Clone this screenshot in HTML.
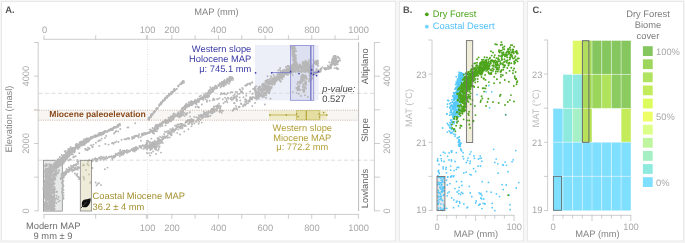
<!DOCTYPE html>
<html><head><meta charset="utf-8"><title>Figure</title><style>html,body{margin:0;padding:0;background:#f6f6f6;overflow:hidden}svg{display:block;font-family:"Liberation Sans",sans-serif;will-change:transform;-webkit-font-smoothing:antialiased;text-rendering:geometricPrecision}</style></head><body>
<svg width="685" height="243" viewBox="0 0 685 243">
<rect x="0" y="0" width="685" height="243" fill="#f6f6f6"/>
<rect x="1.5" y="1.5" width="394.0" height="239.5" fill="#fff" stroke="#e8e8e8" stroke-width="1"/>
<rect x="399.5" y="1.5" width="124.0" height="239.5" fill="#fff" stroke="#e8e8e8" stroke-width="1"/>
<rect x="527.5" y="1.5" width="156.0" height="239.5" fill="#fff" stroke="#e8e8e8" stroke-width="1"/>
<rect x="38.5" y="110.2" width="320" height="10" fill="#f8f6f3"/>
<rect x="255" y="45" width="63.6" height="55.4" fill="#eceef8"/>
<rect x="290.5" y="45.5" width="23.2" height="54.8" fill="#dde0f1"/>
<rect x="43.4" y="160.3" width="18.9" height="50.8" fill="#e7e9e8"/>
<line x1="38.5" y1="93.3" x2="374.5" y2="93.3" stroke="#dcdcdc" stroke-width="1" stroke-dasharray="4 2.5"/>
<line x1="38.5" y1="160.2" x2="374.5" y2="160.2" stroke="#dcdcdc" stroke-width="1" stroke-dasharray="4 2.5"/>
<line x1="147.5" y1="39" x2="147.5" y2="215" stroke="#e2e2e2" stroke-width="1" stroke-dasharray="1 1.5"/>
<rect x="43.4" y="160.3" width="18.9" height="50.8" fill="none" stroke="#8a8a8a" stroke-width="0.8"/>
<g fill="#b7b7b7">
<circle cx="48.0" cy="189.7" r="0.95"/>
<circle cx="51.3" cy="187.8" r="0.95"/>
<circle cx="50.2" cy="194.9" r="0.95"/>
<circle cx="45.4" cy="198.3" r="0.95"/>
<circle cx="45.2" cy="196.5" r="0.95"/>
<circle cx="45.5" cy="188.2" r="0.95"/>
<circle cx="49.0" cy="206.1" r="0.95"/>
<circle cx="46.0" cy="191.4" r="0.95"/>
<circle cx="51.1" cy="209.0" r="0.95"/>
<circle cx="50.6" cy="195.6" r="0.95"/>
<circle cx="54.6" cy="187.1" r="0.95"/>
<circle cx="53.4" cy="193.0" r="0.95"/>
<circle cx="46.2" cy="188.9" r="0.95"/>
<circle cx="47.9" cy="205.8" r="0.95"/>
<circle cx="46.6" cy="200.1" r="0.95"/>
<circle cx="51.2" cy="195.0" r="0.95"/>
<circle cx="50.3" cy="187.5" r="0.95"/>
<circle cx="45.4" cy="191.0" r="0.95"/>
<circle cx="51.6" cy="196.4" r="0.95"/>
<circle cx="47.9" cy="200.2" r="0.95"/>
<circle cx="49.3" cy="193.3" r="0.95"/>
<circle cx="52.7" cy="203.0" r="0.95"/>
<circle cx="47.2" cy="200.0" r="0.95"/>
<circle cx="50.1" cy="207.3" r="0.95"/>
<circle cx="52.1" cy="193.0" r="0.95"/>
<circle cx="54.6" cy="188.9" r="0.95"/>
<circle cx="49.0" cy="204.4" r="0.95"/>
<circle cx="46.3" cy="197.9" r="0.95"/>
<circle cx="45.2" cy="202.2" r="0.95"/>
<circle cx="52.4" cy="199.9" r="0.95"/>
<circle cx="53.6" cy="193.6" r="0.95"/>
<circle cx="51.8" cy="200.4" r="0.95"/>
<circle cx="50.6" cy="197.1" r="0.95"/>
<circle cx="53.2" cy="209.0" r="0.95"/>
<circle cx="49.5" cy="202.1" r="0.95"/>
<circle cx="45.4" cy="203.0" r="0.95"/>
<circle cx="51.3" cy="210.1" r="0.95"/>
<circle cx="53.0" cy="192.9" r="0.95"/>
<circle cx="48.7" cy="202.2" r="0.95"/>
<circle cx="45.0" cy="197.2" r="0.95"/>
<circle cx="46.5" cy="188.8" r="0.95"/>
<circle cx="45.4" cy="204.7" r="0.95"/>
<circle cx="46.1" cy="192.0" r="0.95"/>
<circle cx="48.7" cy="207.2" r="0.95"/>
<circle cx="45.6" cy="196.9" r="0.95"/>
<circle cx="50.3" cy="207.5" r="0.95"/>
<circle cx="53.0" cy="207.0" r="0.95"/>
<circle cx="47.6" cy="196.1" r="0.95"/>
<circle cx="48.4" cy="207.5" r="0.95"/>
<circle cx="54.4" cy="189.7" r="0.95"/>
<circle cx="46.6" cy="191.6" r="0.95"/>
<circle cx="47.1" cy="197.8" r="0.95"/>
<circle cx="50.7" cy="192.4" r="0.95"/>
<circle cx="44.8" cy="196.2" r="0.95"/>
<circle cx="48.5" cy="199.8" r="0.95"/>
<circle cx="54.3" cy="202.8" r="0.95"/>
<circle cx="50.0" cy="201.0" r="0.95"/>
<circle cx="51.6" cy="187.3" r="0.95"/>
<circle cx="53.8" cy="205.0" r="0.95"/>
<circle cx="53.5" cy="205.4" r="0.95"/>
<circle cx="48.7" cy="195.7" r="0.95"/>
<circle cx="45.8" cy="201.4" r="0.95"/>
<circle cx="45.4" cy="187.6" r="0.95"/>
<circle cx="46.9" cy="189.9" r="0.95"/>
<circle cx="48.2" cy="187.3" r="0.95"/>
<circle cx="44.8" cy="189.7" r="0.95"/>
<circle cx="45.8" cy="194.8" r="0.95"/>
<circle cx="45.1" cy="207.2" r="0.95"/>
<circle cx="50.9" cy="189.6" r="0.95"/>
<circle cx="47.3" cy="194.4" r="0.95"/>
<circle cx="48.4" cy="189.0" r="0.95"/>
<circle cx="53.3" cy="210.1" r="0.95"/>
<circle cx="49.5" cy="197.8" r="0.95"/>
<circle cx="45.7" cy="188.5" r="0.95"/>
<circle cx="48.2" cy="192.4" r="0.95"/>
<circle cx="53.1" cy="189.9" r="0.95"/>
<circle cx="45.0" cy="209.1" r="0.95"/>
<circle cx="50.1" cy="189.6" r="0.95"/>
<circle cx="50.2" cy="186.7" r="0.95"/>
<circle cx="50.1" cy="209.8" r="0.95"/>
<circle cx="53.4" cy="202.9" r="0.95"/>
<circle cx="47.4" cy="194.9" r="0.95"/>
<circle cx="46.5" cy="204.8" r="0.95"/>
<circle cx="50.1" cy="204.9" r="0.95"/>
<circle cx="48.1" cy="191.4" r="0.95"/>
<circle cx="52.9" cy="209.9" r="0.95"/>
<circle cx="53.3" cy="205.6" r="0.95"/>
<circle cx="53.0" cy="204.0" r="0.95"/>
<circle cx="47.1" cy="198.6" r="0.95"/>
<circle cx="48.4" cy="186.7" r="0.95"/>
<circle cx="45.1" cy="192.8" r="0.95"/>
<circle cx="47.4" cy="202.8" r="0.95"/>
<circle cx="54.4" cy="196.9" r="0.95"/>
<circle cx="54.2" cy="210.0" r="0.95"/>
<circle cx="54.4" cy="194.9" r="0.95"/>
<circle cx="47.0" cy="191.5" r="0.95"/>
<circle cx="46.8" cy="191.0" r="0.95"/>
<circle cx="51.0" cy="207.9" r="0.95"/>
<circle cx="53.2" cy="197.7" r="0.95"/>
<circle cx="51.3" cy="205.4" r="0.95"/>
<circle cx="45.6" cy="202.1" r="0.95"/>
<circle cx="53.9" cy="205.0" r="0.95"/>
<circle cx="52.3" cy="197.6" r="0.95"/>
<circle cx="46.6" cy="205.2" r="0.95"/>
<circle cx="48.1" cy="205.5" r="0.95"/>
<circle cx="54.5" cy="195.6" r="0.95"/>
<circle cx="48.8" cy="209.0" r="0.95"/>
<circle cx="52.0" cy="190.1" r="0.95"/>
<circle cx="46.1" cy="189.7" r="0.95"/>
<circle cx="53.8" cy="205.6" r="0.95"/>
<circle cx="46.3" cy="206.1" r="0.95"/>
<circle cx="54.6" cy="202.0" r="0.95"/>
<circle cx="48.3" cy="199.3" r="0.95"/>
<circle cx="46.1" cy="186.3" r="0.95"/>
<circle cx="54.5" cy="201.8" r="0.95"/>
<circle cx="50.1" cy="208.7" r="0.95"/>
<circle cx="49.1" cy="207.2" r="0.95"/>
<circle cx="53.1" cy="191.1" r="0.95"/>
<circle cx="47.3" cy="193.1" r="0.95"/>
<circle cx="47.2" cy="200.3" r="0.95"/>
<circle cx="47.4" cy="196.2" r="0.95"/>
<circle cx="46.1" cy="208.1" r="0.95"/>
<circle cx="48.3" cy="197.1" r="0.95"/>
<circle cx="50.6" cy="208.0" r="0.95"/>
<circle cx="49.0" cy="208.3" r="0.95"/>
<circle cx="49.8" cy="198.9" r="0.95"/>
<circle cx="50.0" cy="186.5" r="0.95"/>
<circle cx="49.2" cy="190.4" r="0.95"/>
<circle cx="44.8" cy="205.4" r="0.95"/>
<circle cx="46.5" cy="197.5" r="0.95"/>
<circle cx="52.1" cy="199.5" r="0.95"/>
<circle cx="48.1" cy="198.6" r="0.95"/>
<circle cx="50.4" cy="205.1" r="0.95"/>
<circle cx="45.9" cy="199.6" r="0.95"/>
<circle cx="47.3" cy="192.7" r="0.95"/>
<circle cx="52.5" cy="198.3" r="0.95"/>
<circle cx="50.4" cy="204.5" r="0.95"/>
<circle cx="53.9" cy="196.8" r="0.95"/>
<circle cx="50.9" cy="198.3" r="0.95"/>
<circle cx="49.9" cy="202.8" r="0.95"/>
<circle cx="49.3" cy="199.0" r="0.95"/>
<circle cx="49.6" cy="208.9" r="0.95"/>
<circle cx="51.8" cy="207.3" r="0.95"/>
<circle cx="54.2" cy="192.3" r="0.95"/>
<circle cx="50.4" cy="208.9" r="0.95"/>
<circle cx="53.2" cy="189.3" r="0.95"/>
<circle cx="46.0" cy="196.7" r="0.95"/>
<circle cx="45.5" cy="191.8" r="0.95"/>
<circle cx="45.5" cy="202.3" r="0.95"/>
<circle cx="52.6" cy="207.8" r="0.95"/>
<circle cx="46.3" cy="203.4" r="0.95"/>
<circle cx="51.4" cy="189.5" r="0.95"/>
<circle cx="53.6" cy="209.5" r="0.95"/>
<circle cx="47.0" cy="209.1" r="0.95"/>
<circle cx="48.8" cy="197.8" r="0.95"/>
<circle cx="54.7" cy="206.2" r="0.95"/>
<circle cx="46.4" cy="196.5" r="0.95"/>
<circle cx="50.0" cy="194.2" r="0.95"/>
<circle cx="46.8" cy="193.7" r="0.95"/>
<circle cx="52.0" cy="186.5" r="0.95"/>
<circle cx="50.3" cy="196.7" r="0.95"/>
<circle cx="45.0" cy="194.1" r="0.95"/>
<circle cx="51.0" cy="198.4" r="0.95"/>
<circle cx="45.4" cy="209.9" r="0.95"/>
<circle cx="52.7" cy="209.6" r="0.95"/>
<circle cx="45.8" cy="192.5" r="0.95"/>
<circle cx="45.2" cy="204.9" r="0.95"/>
<circle cx="47.5" cy="189.1" r="0.95"/>
<circle cx="49.0" cy="208.1" r="0.95"/>
<circle cx="53.0" cy="192.3" r="0.95"/>
<circle cx="46.3" cy="208.3" r="0.95"/>
<circle cx="50.5" cy="203.0" r="0.95"/>
<circle cx="45.7" cy="187.4" r="0.95"/>
<circle cx="51.7" cy="196.3" r="0.95"/>
<circle cx="45.5" cy="208.8" r="0.95"/>
<circle cx="51.1" cy="205.5" r="0.95"/>
<circle cx="45.6" cy="206.8" r="0.95"/>
<circle cx="45.5" cy="207.0" r="0.95"/>
<circle cx="49.3" cy="194.2" r="0.95"/>
<circle cx="50.3" cy="208.5" r="0.95"/>
<circle cx="47.5" cy="189.1" r="0.95"/>
<circle cx="50.1" cy="191.8" r="0.95"/>
<circle cx="45.9" cy="189.9" r="0.95"/>
<circle cx="45.3" cy="190.9" r="0.95"/>
<circle cx="47.9" cy="193.4" r="0.95"/>
<circle cx="52.4" cy="193.0" r="0.95"/>
<circle cx="49.8" cy="190.3" r="0.95"/>
<circle cx="48.3" cy="186.4" r="0.95"/>
<circle cx="47.3" cy="186.4" r="0.95"/>
<circle cx="52.1" cy="199.4" r="0.95"/>
<circle cx="46.7" cy="197.5" r="0.95"/>
<circle cx="54.1" cy="188.6" r="0.95"/>
<circle cx="53.0" cy="196.5" r="0.95"/>
<circle cx="49.8" cy="206.3" r="0.95"/>
<circle cx="48.7" cy="198.3" r="0.95"/>
<circle cx="51.7" cy="209.9" r="0.95"/>
<circle cx="48.2" cy="206.2" r="0.95"/>
<circle cx="51.9" cy="201.5" r="0.95"/>
<circle cx="48.8" cy="194.4" r="0.95"/>
<circle cx="45.3" cy="189.2" r="0.95"/>
<circle cx="45.5" cy="204.0" r="0.95"/>
<circle cx="47.4" cy="190.0" r="0.95"/>
<circle cx="45.6" cy="206.4" r="0.95"/>
<circle cx="53.5" cy="202.3" r="0.95"/>
<circle cx="47.6" cy="191.9" r="0.95"/>
<circle cx="47.7" cy="197.2" r="0.95"/>
<circle cx="46.4" cy="196.8" r="0.95"/>
<circle cx="47.4" cy="209.4" r="0.95"/>
<circle cx="54.5" cy="199.3" r="0.95"/>
<circle cx="47.2" cy="209.5" r="0.95"/>
<circle cx="47.9" cy="194.7" r="0.95"/>
<circle cx="44.8" cy="195.3" r="0.95"/>
<circle cx="49.5" cy="198.2" r="0.95"/>
<circle cx="46.8" cy="198.3" r="0.95"/>
<circle cx="44.8" cy="192.4" r="0.95"/>
<circle cx="45.7" cy="195.7" r="0.95"/>
<circle cx="45.2" cy="186.5" r="0.95"/>
<circle cx="47.8" cy="191.7" r="0.95"/>
<circle cx="50.7" cy="198.9" r="0.95"/>
<circle cx="52.3" cy="202.0" r="0.95"/>
<circle cx="52.0" cy="207.4" r="0.95"/>
<circle cx="48.7" cy="193.9" r="0.95"/>
<circle cx="54.6" cy="189.6" r="0.95"/>
<circle cx="52.0" cy="201.6" r="0.95"/>
<circle cx="45.2" cy="206.3" r="0.95"/>
<circle cx="53.7" cy="201.2" r="0.95"/>
<circle cx="52.1" cy="205.7" r="0.95"/>
<circle cx="46.2" cy="198.7" r="0.95"/>
<circle cx="49.8" cy="206.3" r="0.95"/>
<circle cx="52.8" cy="206.1" r="0.95"/>
<circle cx="50.6" cy="207.7" r="0.95"/>
<circle cx="51.6" cy="202.8" r="0.95"/>
<circle cx="47.1" cy="186.8" r="0.95"/>
<circle cx="46.1" cy="194.8" r="0.95"/>
<circle cx="45.8" cy="206.3" r="0.95"/>
<circle cx="50.4" cy="201.3" r="0.95"/>
<circle cx="51.1" cy="202.5" r="0.95"/>
<circle cx="49.7" cy="186.1" r="0.95"/>
<circle cx="52.8" cy="204.2" r="0.95"/>
<circle cx="49.8" cy="199.0" r="0.95"/>
<circle cx="51.4" cy="187.6" r="0.95"/>
<circle cx="52.2" cy="192.1" r="0.95"/>
<circle cx="45.5" cy="192.5" r="0.95"/>
<circle cx="52.1" cy="191.0" r="0.95"/>
<circle cx="52.2" cy="209.7" r="0.95"/>
<circle cx="49.7" cy="195.3" r="0.95"/>
<circle cx="49.6" cy="202.6" r="0.95"/>
<circle cx="52.5" cy="201.0" r="0.95"/>
<circle cx="51.2" cy="187.9" r="0.95"/>
<circle cx="46.3" cy="192.2" r="0.95"/>
<circle cx="52.2" cy="193.4" r="0.95"/>
<circle cx="50.5" cy="186.3" r="0.95"/>
<circle cx="45.4" cy="192.5" r="0.95"/>
<circle cx="51.5" cy="202.8" r="0.95"/>
<circle cx="51.6" cy="193.1" r="0.95"/>
<circle cx="50.0" cy="197.3" r="0.95"/>
<circle cx="49.5" cy="188.9" r="0.95"/>
<circle cx="53.7" cy="190.8" r="0.95"/>
<circle cx="54.6" cy="208.8" r="0.95"/>
<circle cx="45.0" cy="197.2" r="0.95"/>
<circle cx="53.0" cy="209.5" r="0.95"/>
<circle cx="49.3" cy="192.5" r="0.95"/>
<circle cx="46.9" cy="209.0" r="0.95"/>
<circle cx="46.9" cy="200.1" r="0.95"/>
<circle cx="46.2" cy="198.7" r="0.95"/>
<circle cx="54.3" cy="189.2" r="0.95"/>
<circle cx="53.0" cy="198.4" r="0.95"/>
<circle cx="53.7" cy="203.1" r="0.95"/>
<circle cx="47.1" cy="207.8" r="0.95"/>
<circle cx="49.7" cy="186.6" r="0.95"/>
<circle cx="44.8" cy="197.9" r="0.95"/>
<circle cx="49.3" cy="193.3" r="0.95"/>
<circle cx="46.2" cy="194.4" r="0.95"/>
<circle cx="48.0" cy="206.4" r="0.95"/>
<circle cx="44.8" cy="204.2" r="0.95"/>
<circle cx="53.2" cy="188.9" r="0.95"/>
<circle cx="54.1" cy="203.3" r="0.95"/>
<circle cx="53.8" cy="193.0" r="0.95"/>
<circle cx="48.5" cy="195.5" r="0.95"/>
<circle cx="54.8" cy="200.3" r="0.95"/>
<circle cx="48.4" cy="196.4" r="0.95"/>
<circle cx="47.6" cy="187.2" r="0.95"/>
<circle cx="45.8" cy="206.3" r="0.95"/>
<circle cx="47.7" cy="208.7" r="0.95"/>
<circle cx="47.3" cy="192.5" r="0.95"/>
<circle cx="49.9" cy="190.6" r="0.95"/>
<circle cx="48.5" cy="209.2" r="0.95"/>
<circle cx="53.6" cy="205.7" r="0.95"/>
<circle cx="51.1" cy="208.2" r="0.95"/>
<circle cx="54.2" cy="199.3" r="0.95"/>
<circle cx="52.0" cy="187.2" r="0.95"/>
<circle cx="52.1" cy="197.0" r="0.95"/>
<circle cx="52.3" cy="201.7" r="0.95"/>
<circle cx="47.7" cy="187.2" r="0.95"/>
<circle cx="54.1" cy="189.1" r="0.95"/>
<circle cx="49.5" cy="194.4" r="0.95"/>
<circle cx="47.8" cy="204.0" r="0.95"/>
<circle cx="54.6" cy="192.3" r="0.95"/>
<circle cx="51.4" cy="193.3" r="0.95"/>
<circle cx="50.4" cy="195.6" r="0.95"/>
<circle cx="46.5" cy="189.9" r="0.95"/>
<circle cx="46.9" cy="208.0" r="0.95"/>
<circle cx="49.8" cy="191.3" r="0.95"/>
<circle cx="53.9" cy="210.2" r="0.95"/>
<circle cx="49.3" cy="189.4" r="0.95"/>
<circle cx="46.7" cy="188.2" r="0.95"/>
<circle cx="48.2" cy="188.2" r="0.95"/>
<circle cx="47.2" cy="192.3" r="0.95"/>
<circle cx="50.5" cy="207.6" r="0.95"/>
<circle cx="52.3" cy="196.0" r="0.95"/>
<circle cx="48.9" cy="198.7" r="0.95"/>
<circle cx="48.6" cy="194.2" r="0.95"/>
<circle cx="45.4" cy="192.7" r="0.95"/>
<circle cx="54.5" cy="189.1" r="0.95"/>
<circle cx="49.8" cy="201.3" r="0.95"/>
<circle cx="53.4" cy="191.2" r="0.95"/>
<circle cx="47.5" cy="192.0" r="0.95"/>
<circle cx="48.8" cy="196.8" r="0.95"/>
<circle cx="54.3" cy="206.6" r="0.95"/>
<circle cx="53.5" cy="186.5" r="0.95"/>
<circle cx="45.1" cy="203.2" r="0.95"/>
<circle cx="53.8" cy="197.5" r="0.95"/>
<circle cx="50.7" cy="186.0" r="0.95"/>
<circle cx="48.7" cy="208.5" r="0.95"/>
<circle cx="53.1" cy="206.8" r="0.95"/>
<circle cx="54.5" cy="192.0" r="0.95"/>
<circle cx="45.9" cy="189.8" r="0.95"/>
<circle cx="50.0" cy="202.6" r="0.95"/>
<circle cx="54.2" cy="203.5" r="0.95"/>
<circle cx="51.3" cy="204.6" r="0.95"/>
<circle cx="48.1" cy="176.7" r="0.95"/>
<circle cx="45.1" cy="182.0" r="0.95"/>
<circle cx="46.5" cy="185.2" r="0.95"/>
<circle cx="49.4" cy="171.0" r="0.95"/>
<circle cx="45.7" cy="169.8" r="0.95"/>
<circle cx="49.4" cy="180.1" r="0.95"/>
<circle cx="45.6" cy="165.6" r="0.95"/>
<circle cx="48.6" cy="177.4" r="0.95"/>
<circle cx="47.6" cy="169.1" r="0.95"/>
<circle cx="49.1" cy="164.2" r="0.95"/>
<circle cx="47.0" cy="174.6" r="0.95"/>
<circle cx="51.7" cy="178.8" r="0.95"/>
<circle cx="51.2" cy="174.9" r="0.95"/>
<circle cx="46.5" cy="169.7" r="0.95"/>
<circle cx="51.7" cy="180.2" r="0.95"/>
<circle cx="47.0" cy="164.5" r="0.95"/>
<circle cx="48.4" cy="179.5" r="0.95"/>
<circle cx="47.8" cy="169.9" r="0.95"/>
<circle cx="49.6" cy="185.3" r="0.95"/>
<circle cx="46.4" cy="164.8" r="0.95"/>
<circle cx="47.2" cy="173.7" r="0.95"/>
<circle cx="49.7" cy="168.6" r="0.95"/>
<circle cx="50.5" cy="181.0" r="0.95"/>
<circle cx="48.4" cy="168.7" r="0.95"/>
<circle cx="51.8" cy="171.2" r="0.95"/>
<circle cx="50.7" cy="169.3" r="0.95"/>
<circle cx="46.4" cy="181.5" r="0.95"/>
<circle cx="46.9" cy="185.9" r="0.95"/>
<circle cx="48.4" cy="168.3" r="0.95"/>
<circle cx="46.4" cy="173.6" r="0.95"/>
<circle cx="49.6" cy="185.8" r="0.95"/>
<circle cx="45.9" cy="173.0" r="0.95"/>
<circle cx="46.3" cy="186.4" r="0.95"/>
<circle cx="45.8" cy="165.2" r="0.95"/>
<circle cx="45.2" cy="173.0" r="0.95"/>
<circle cx="51.3" cy="184.3" r="0.95"/>
<circle cx="50.1" cy="186.9" r="0.95"/>
<circle cx="51.5" cy="171.6" r="0.95"/>
<circle cx="46.1" cy="185.5" r="0.95"/>
<circle cx="50.2" cy="164.7" r="0.95"/>
<circle cx="49.6" cy="172.7" r="0.95"/>
<circle cx="47.5" cy="171.6" r="0.95"/>
<circle cx="46.0" cy="164.1" r="0.95"/>
<circle cx="46.8" cy="172.1" r="0.95"/>
<circle cx="51.7" cy="166.8" r="0.95"/>
<circle cx="51.7" cy="168.8" r="0.95"/>
<circle cx="47.4" cy="182.9" r="0.95"/>
<circle cx="50.7" cy="173.9" r="0.95"/>
<circle cx="45.2" cy="174.9" r="0.95"/>
<circle cx="47.5" cy="185.1" r="0.95"/>
<circle cx="46.2" cy="172.4" r="0.95"/>
<circle cx="51.3" cy="164.7" r="0.95"/>
<circle cx="47.8" cy="182.7" r="0.95"/>
<circle cx="50.3" cy="164.9" r="0.95"/>
<circle cx="45.1" cy="165.4" r="0.95"/>
<circle cx="51.4" cy="169.9" r="0.95"/>
<circle cx="50.2" cy="184.7" r="0.95"/>
<circle cx="47.2" cy="170.3" r="0.95"/>
<circle cx="51.7" cy="178.2" r="0.95"/>
<circle cx="46.7" cy="180.5" r="0.95"/>
<circle cx="47.1" cy="170.3" r="0.95"/>
<circle cx="44.8" cy="181.4" r="0.95"/>
<circle cx="51.4" cy="178.6" r="0.95"/>
<circle cx="51.6" cy="164.6" r="0.95"/>
<circle cx="46.5" cy="174.9" r="0.95"/>
<circle cx="51.7" cy="185.9" r="0.95"/>
<circle cx="47.6" cy="169.8" r="0.95"/>
<circle cx="47.9" cy="175.3" r="0.95"/>
<circle cx="51.5" cy="168.2" r="0.95"/>
<circle cx="50.6" cy="181.0" r="0.95"/>
<circle cx="50.7" cy="181.8" r="0.95"/>
<circle cx="49.2" cy="171.5" r="0.95"/>
<circle cx="47.1" cy="172.3" r="0.95"/>
<circle cx="50.4" cy="165.8" r="0.95"/>
<circle cx="46.2" cy="181.3" r="0.95"/>
<circle cx="46.6" cy="165.5" r="0.95"/>
<circle cx="45.0" cy="176.7" r="0.95"/>
<circle cx="47.1" cy="186.5" r="0.95"/>
<circle cx="51.2" cy="186.7" r="0.95"/>
<circle cx="46.7" cy="165.9" r="0.95"/>
<circle cx="45.5" cy="175.5" r="0.95"/>
<circle cx="49.9" cy="174.3" r="0.95"/>
<circle cx="46.5" cy="173.6" r="0.95"/>
<circle cx="49.3" cy="179.5" r="0.95"/>
<circle cx="50.2" cy="183.5" r="0.95"/>
<circle cx="49.6" cy="166.8" r="0.95"/>
<circle cx="50.9" cy="170.8" r="0.95"/>
<circle cx="48.9" cy="172.6" r="0.95"/>
<circle cx="50.1" cy="168.6" r="0.95"/>
<circle cx="46.6" cy="169.6" r="0.95"/>
<circle cx="45.9" cy="184.3" r="0.95"/>
<circle cx="49.0" cy="171.5" r="0.95"/>
<circle cx="47.7" cy="186.8" r="0.95"/>
<circle cx="48.5" cy="169.3" r="0.95"/>
<circle cx="50.6" cy="179.0" r="0.95"/>
<circle cx="51.9" cy="166.4" r="0.95"/>
<circle cx="48.2" cy="182.8" r="0.95"/>
<circle cx="50.9" cy="185.0" r="0.95"/>
<circle cx="45.1" cy="170.8" r="0.95"/>
<circle cx="45.7" cy="168.4" r="0.95"/>
<circle cx="51.8" cy="177.4" r="0.95"/>
<circle cx="51.5" cy="172.6" r="0.95"/>
<circle cx="51.0" cy="174.3" r="0.95"/>
<circle cx="46.7" cy="181.9" r="0.95"/>
<circle cx="51.6" cy="166.4" r="0.95"/>
<circle cx="49.1" cy="178.3" r="0.95"/>
<circle cx="46.4" cy="172.5" r="0.95"/>
<circle cx="45.8" cy="168.7" r="0.95"/>
<circle cx="46.6" cy="177.8" r="0.95"/>
<circle cx="49.5" cy="168.7" r="0.95"/>
<circle cx="44.9" cy="171.5" r="0.95"/>
<circle cx="49.7" cy="168.3" r="0.95"/>
<circle cx="47.0" cy="168.7" r="0.95"/>
<circle cx="50.5" cy="176.6" r="0.95"/>
<circle cx="45.3" cy="166.3" r="0.95"/>
<circle cx="47.6" cy="176.7" r="0.95"/>
<circle cx="49.4" cy="166.1" r="0.95"/>
<circle cx="46.0" cy="180.0" r="0.95"/>
<circle cx="47.8" cy="170.5" r="0.95"/>
<circle cx="47.0" cy="185.9" r="0.95"/>
<circle cx="54.7" cy="168.9" r="0.95"/>
<circle cx="44.5" cy="189.8" r="0.95"/>
<circle cx="47.8" cy="181.2" r="0.95"/>
<circle cx="48.0" cy="184.5" r="0.95"/>
<circle cx="50.6" cy="172.2" r="0.95"/>
<circle cx="48.0" cy="187.3" r="0.95"/>
<circle cx="53.3" cy="170.6" r="0.95"/>
<circle cx="44.8" cy="187.4" r="0.95"/>
<circle cx="46.1" cy="183.8" r="0.95"/>
<circle cx="43.3" cy="188.8" r="0.95"/>
<circle cx="50.3" cy="187.6" r="0.95"/>
<circle cx="58.2" cy="166.5" r="0.95"/>
<circle cx="49.7" cy="170.0" r="0.95"/>
<circle cx="50.6" cy="170.2" r="0.95"/>
<circle cx="58.1" cy="164.0" r="0.95"/>
<circle cx="49.9" cy="175.8" r="0.95"/>
<circle cx="45.5" cy="184.1" r="0.95"/>
<circle cx="53.9" cy="168.9" r="0.95"/>
<circle cx="52.1" cy="172.2" r="0.95"/>
<circle cx="48.6" cy="177.5" r="0.95"/>
<circle cx="46.8" cy="182.2" r="0.95"/>
<circle cx="57.2" cy="162.3" r="0.95"/>
<circle cx="59.9" cy="165.4" r="0.95"/>
<circle cx="58.3" cy="162.2" r="0.95"/>
<circle cx="48.2" cy="173.1" r="0.95"/>
<circle cx="55.9" cy="161.0" r="0.95"/>
<circle cx="47.2" cy="181.3" r="0.95"/>
<circle cx="47.1" cy="188.5" r="0.95"/>
<circle cx="46.7" cy="182.7" r="0.95"/>
<circle cx="55.4" cy="162.5" r="0.95"/>
<circle cx="46.1" cy="183.9" r="0.95"/>
<circle cx="54.6" cy="167.4" r="0.95"/>
<circle cx="59.9" cy="162.2" r="0.95"/>
<circle cx="48.3" cy="187.1" r="0.95"/>
<circle cx="59.5" cy="165.6" r="0.95"/>
<circle cx="46.4" cy="174.4" r="0.95"/>
<circle cx="56.6" cy="161.1" r="0.95"/>
<circle cx="52.8" cy="166.0" r="0.95"/>
<circle cx="52.1" cy="169.9" r="0.95"/>
<circle cx="58.1" cy="160.0" r="0.95"/>
<circle cx="46.3" cy="177.3" r="0.95"/>
<circle cx="61.9" cy="162.7" r="0.95"/>
<circle cx="51.1" cy="178.3" r="0.95"/>
<circle cx="55.4" cy="166.4" r="0.95"/>
<circle cx="61.4" cy="161.9" r="0.95"/>
<circle cx="48.2" cy="176.0" r="0.95"/>
<circle cx="49.9" cy="178.2" r="0.95"/>
<circle cx="57.6" cy="165.1" r="0.95"/>
<circle cx="46.4" cy="185.7" r="0.95"/>
<circle cx="48.2" cy="178.2" r="0.95"/>
<circle cx="52.9" cy="179.7" r="0.95"/>
<circle cx="48.6" cy="187.1" r="0.95"/>
<circle cx="51.8" cy="171.1" r="0.95"/>
<circle cx="50.1" cy="175.5" r="0.95"/>
<circle cx="56.5" cy="166.6" r="0.95"/>
<circle cx="57.9" cy="167.4" r="0.95"/>
<circle cx="57.9" cy="160.4" r="0.95"/>
<circle cx="47.3" cy="184.6" r="0.95"/>
<circle cx="49.0" cy="182.0" r="0.95"/>
<circle cx="59.2" cy="162.0" r="0.95"/>
<circle cx="46.2" cy="179.4" r="0.95"/>
<circle cx="49.2" cy="170.3" r="0.95"/>
<circle cx="56.4" cy="168.9" r="0.95"/>
<circle cx="58.3" cy="158.9" r="0.95"/>
<circle cx="44.7" cy="180.4" r="0.95"/>
<circle cx="50.2" cy="167.6" r="0.95"/>
<circle cx="49.4" cy="178.5" r="0.95"/>
<circle cx="47.3" cy="184.3" r="0.95"/>
<circle cx="51.2" cy="172.1" r="0.95"/>
<circle cx="48.3" cy="177.6" r="0.95"/>
<circle cx="56.6" cy="163.9" r="0.95"/>
<circle cx="57.7" cy="165.0" r="0.95"/>
<circle cx="49.8" cy="180.5" r="0.95"/>
<circle cx="49.6" cy="177.3" r="0.95"/>
<circle cx="46.6" cy="184.3" r="0.95"/>
<circle cx="49.9" cy="188.6" r="0.95"/>
<circle cx="56.0" cy="161.0" r="0.95"/>
<circle cx="49.6" cy="184.4" r="0.95"/>
<circle cx="57.0" cy="161.5" r="0.95"/>
<circle cx="50.3" cy="170.7" r="0.95"/>
<circle cx="54.0" cy="167.6" r="0.95"/>
<circle cx="46.2" cy="172.3" r="0.95"/>
<circle cx="61.4" cy="163.5" r="0.95"/>
<circle cx="49.5" cy="180.8" r="0.95"/>
<circle cx="44.4" cy="185.1" r="0.95"/>
<circle cx="55.6" cy="164.8" r="0.95"/>
<circle cx="62.2" cy="163.4" r="0.95"/>
<circle cx="51.1" cy="174.4" r="0.95"/>
<circle cx="53.1" cy="166.3" r="0.95"/>
<circle cx="47.8" cy="173.1" r="0.95"/>
<circle cx="58.0" cy="162.6" r="0.95"/>
<circle cx="54.6" cy="171.2" r="0.95"/>
<circle cx="43.8" cy="186.1" r="0.95"/>
<circle cx="54.4" cy="166.8" r="0.95"/>
<circle cx="51.2" cy="169.5" r="0.95"/>
<circle cx="47.0" cy="181.3" r="0.95"/>
<circle cx="53.3" cy="170.0" r="0.95"/>
<circle cx="50.0" cy="182.5" r="0.95"/>
<circle cx="48.2" cy="182.1" r="0.95"/>
<circle cx="54.1" cy="166.1" r="0.95"/>
<circle cx="47.4" cy="180.2" r="0.95"/>
<circle cx="52.0" cy="168.2" r="0.95"/>
<circle cx="52.1" cy="167.8" r="0.95"/>
<circle cx="47.7" cy="189.0" r="0.95"/>
<circle cx="45.3" cy="189.2" r="0.95"/>
<circle cx="48.4" cy="178.1" r="0.95"/>
<circle cx="50.5" cy="169.7" r="0.95"/>
<circle cx="52.7" cy="174.5" r="0.95"/>
<circle cx="58.0" cy="165.5" r="0.95"/>
<circle cx="54.4" cy="173.8" r="0.95"/>
<circle cx="51.5" cy="171.6" r="0.95"/>
<circle cx="50.5" cy="180.6" r="0.95"/>
<circle cx="50.3" cy="178.7" r="0.95"/>
<circle cx="52.1" cy="171.4" r="0.95"/>
<circle cx="49.1" cy="177.6" r="0.95"/>
<circle cx="50.8" cy="170.3" r="0.95"/>
<circle cx="56.9" cy="166.4" r="0.95"/>
<circle cx="45.5" cy="189.1" r="0.95"/>
<circle cx="55.6" cy="163.9" r="0.95"/>
<circle cx="49.2" cy="176.1" r="0.95"/>
<circle cx="51.9" cy="174.7" r="0.95"/>
<circle cx="47.1" cy="188.7" r="0.95"/>
<circle cx="51.8" cy="170.9" r="0.95"/>
<circle cx="59.6" cy="163.0" r="0.95"/>
<circle cx="61.8" cy="163.1" r="0.95"/>
<circle cx="55.7" cy="168.4" r="0.95"/>
<circle cx="48.0" cy="188.3" r="0.95"/>
<circle cx="56.7" cy="167.5" r="0.95"/>
<circle cx="48.5" cy="183.7" r="0.95"/>
<circle cx="46.9" cy="189.2" r="0.95"/>
<circle cx="46.1" cy="183.8" r="0.95"/>
<circle cx="56.4" cy="162.0" r="0.95"/>
<circle cx="47.6" cy="185.1" r="0.95"/>
<circle cx="55.2" cy="163.6" r="0.95"/>
<circle cx="54.2" cy="167.3" r="0.95"/>
<circle cx="48.4" cy="177.9" r="0.95"/>
<circle cx="46.3" cy="187.8" r="0.95"/>
<circle cx="51.3" cy="183.7" r="0.95"/>
<circle cx="48.6" cy="178.3" r="0.95"/>
<circle cx="55.4" cy="167.2" r="0.95"/>
<circle cx="54.4" cy="166.4" r="0.95"/>
<circle cx="44.3" cy="183.1" r="0.95"/>
<circle cx="48.2" cy="177.4" r="0.95"/>
<circle cx="49.3" cy="185.3" r="0.95"/>
<circle cx="49.7" cy="175.1" r="0.95"/>
<circle cx="55.7" cy="168.1" r="0.95"/>
<circle cx="48.5" cy="173.2" r="0.95"/>
<circle cx="48.1" cy="173.1" r="0.95"/>
<circle cx="59.9" cy="160.4" r="0.95"/>
<circle cx="48.0" cy="185.0" r="0.95"/>
<circle cx="44.4" cy="188.4" r="0.95"/>
<circle cx="49.2" cy="176.9" r="0.95"/>
<circle cx="51.2" cy="167.2" r="0.95"/>
<circle cx="59.8" cy="161.5" r="0.95"/>
<circle cx="51.8" cy="168.3" r="0.95"/>
<circle cx="47.1" cy="182.6" r="0.95"/>
<circle cx="54.1" cy="173.2" r="0.95"/>
<circle cx="48.7" cy="169.2" r="0.95"/>
<circle cx="47.5" cy="173.2" r="0.95"/>
<circle cx="54.6" cy="169.8" r="0.95"/>
<circle cx="48.6" cy="178.0" r="0.95"/>
<circle cx="53.6" cy="176.6" r="0.95"/>
<circle cx="60.4" cy="160.1" r="0.95"/>
<circle cx="49.4" cy="183.0" r="0.95"/>
<circle cx="50.7" cy="177.9" r="0.95"/>
<circle cx="56.2" cy="166.8" r="0.95"/>
<circle cx="46.6" cy="182.4" r="0.95"/>
<circle cx="46.0" cy="186.9" r="0.95"/>
<circle cx="46.4" cy="184.0" r="0.95"/>
<circle cx="50.0" cy="170.9" r="0.95"/>
<circle cx="48.1" cy="178.1" r="0.95"/>
<circle cx="58.1" cy="163.8" r="0.95"/>
<circle cx="47.2" cy="187.1" r="0.95"/>
<circle cx="45.4" cy="187.7" r="0.95"/>
<circle cx="50.0" cy="170.1" r="0.95"/>
<circle cx="60.3" cy="161.0" r="0.95"/>
<circle cx="57.3" cy="163.4" r="0.95"/>
<circle cx="60.9" cy="162.3" r="0.95"/>
<circle cx="47.6" cy="181.2" r="0.95"/>
<circle cx="50.0" cy="185.5" r="0.95"/>
<circle cx="49.1" cy="178.2" r="0.95"/>
<circle cx="47.2" cy="188.9" r="0.95"/>
<circle cx="61.5" cy="163.6" r="0.95"/>
<circle cx="47.3" cy="181.3" r="0.95"/>
<circle cx="48.9" cy="172.6" r="0.95"/>
<circle cx="49.5" cy="180.1" r="0.95"/>
<circle cx="53.6" cy="170.6" r="0.95"/>
<circle cx="46.9" cy="182.7" r="0.95"/>
<circle cx="49.8" cy="176.4" r="0.95"/>
<circle cx="47.5" cy="184.6" r="0.95"/>
<circle cx="45.0" cy="189.0" r="0.95"/>
<circle cx="44.8" cy="186.3" r="0.95"/>
<circle cx="46.3" cy="176.2" r="0.95"/>
<circle cx="53.9" cy="167.2" r="0.95"/>
<circle cx="46.8" cy="184.1" r="0.95"/>
<circle cx="49.9" cy="185.9" r="0.95"/>
<circle cx="45.8" cy="185.1" r="0.95"/>
<circle cx="58.9" cy="163.8" r="0.95"/>
<circle cx="55.1" cy="165.5" r="0.95"/>
<circle cx="45.7" cy="178.7" r="0.95"/>
<circle cx="54.0" cy="166.7" r="0.95"/>
<circle cx="47.1" cy="183.4" r="0.95"/>
<circle cx="46.1" cy="175.1" r="0.95"/>
<circle cx="49.6" cy="176.9" r="0.95"/>
<circle cx="56.3" cy="165.3" r="0.95"/>
<circle cx="50.8" cy="174.7" r="0.95"/>
<circle cx="47.2" cy="189.7" r="0.95"/>
<circle cx="58.1" cy="166.5" r="0.95"/>
<circle cx="49.6" cy="174.8" r="0.95"/>
<circle cx="50.4" cy="173.4" r="0.95"/>
<circle cx="51.8" cy="183.2" r="0.95"/>
<circle cx="50.1" cy="189.3" r="0.95"/>
<circle cx="55.5" cy="165.6" r="0.95"/>
<circle cx="45.7" cy="185.8" r="0.95"/>
<circle cx="44.7" cy="186.6" r="0.95"/>
<circle cx="46.1" cy="188.9" r="0.95"/>
<circle cx="46.1" cy="177.2" r="0.95"/>
<circle cx="56.7" cy="163.5" r="0.95"/>
<circle cx="54.3" cy="164.5" r="0.95"/>
<circle cx="43.7" cy="186.4" r="0.95"/>
<circle cx="47.7" cy="183.1" r="0.95"/>
<circle cx="57.2" cy="163.9" r="0.95"/>
<circle cx="49.4" cy="179.7" r="0.95"/>
<circle cx="54.0" cy="169.4" r="0.95"/>
<circle cx="49.9" cy="173.2" r="0.95"/>
<circle cx="59.3" cy="159.8" r="0.95"/>
<circle cx="59.2" cy="161.7" r="0.95"/>
<circle cx="48.7" cy="186.7" r="0.95"/>
<circle cx="56.2" cy="160.6" r="0.95"/>
<circle cx="54.3" cy="169.8" r="0.95"/>
<circle cx="53.4" cy="180.0" r="0.95"/>
<circle cx="53.7" cy="178.8" r="0.95"/>
<circle cx="56.5" cy="174.2" r="0.95"/>
<circle cx="53.9" cy="174.5" r="0.95"/>
<circle cx="55.1" cy="174.8" r="0.95"/>
<circle cx="52.8" cy="184.1" r="0.95"/>
<circle cx="54.7" cy="177.4" r="0.95"/>
<circle cx="52.2" cy="185.7" r="0.95"/>
<circle cx="58.2" cy="172.1" r="0.95"/>
<circle cx="55.3" cy="174.2" r="0.95"/>
<circle cx="53.5" cy="183.3" r="0.95"/>
<circle cx="54.1" cy="178.3" r="0.95"/>
<circle cx="52.8" cy="184.6" r="0.95"/>
<circle cx="52.7" cy="181.9" r="0.95"/>
<circle cx="56.5" cy="170.5" r="0.95"/>
<circle cx="56.1" cy="172.9" r="0.95"/>
<circle cx="53.6" cy="183.3" r="0.95"/>
<circle cx="54.3" cy="175.9" r="0.95"/>
<circle cx="54.5" cy="183.2" r="0.95"/>
<circle cx="58.9" cy="170.5" r="0.95"/>
<circle cx="53.1" cy="184.0" r="0.95"/>
<circle cx="57.3" cy="173.1" r="0.95"/>
<circle cx="58.9" cy="170.4" r="0.95"/>
<circle cx="53.7" cy="180.8" r="0.95"/>
<circle cx="55.5" cy="175.0" r="0.95"/>
<circle cx="53.5" cy="183.8" r="0.95"/>
<circle cx="55.1" cy="179.0" r="0.95"/>
<circle cx="56.0" cy="173.4" r="0.95"/>
<circle cx="55.9" cy="174.1" r="0.95"/>
<circle cx="56.1" cy="172.6" r="0.95"/>
<circle cx="55.3" cy="179.6" r="0.95"/>
<circle cx="52.3" cy="181.1" r="0.95"/>
<circle cx="55.0" cy="178.1" r="0.95"/>
<circle cx="55.9" cy="171.5" r="0.95"/>
<circle cx="58.0" cy="173.2" r="0.95"/>
<circle cx="50.9" cy="184.8" r="0.95"/>
<circle cx="53.9" cy="183.9" r="0.95"/>
<circle cx="56.0" cy="175.7" r="0.95"/>
<circle cx="53.0" cy="176.2" r="0.95"/>
<circle cx="54.2" cy="183.7" r="0.95"/>
<circle cx="63.5" cy="198.7" r="0.95"/>
<circle cx="62.2" cy="188.4" r="0.95"/>
<circle cx="62.9" cy="187.3" r="0.95"/>
<circle cx="62.8" cy="181.4" r="0.95"/>
<circle cx="62.6" cy="190.1" r="0.95"/>
<circle cx="61.8" cy="182.8" r="0.95"/>
<circle cx="63.5" cy="195.5" r="0.95"/>
<circle cx="63.5" cy="192.7" r="0.95"/>
<circle cx="63.3" cy="197.7" r="0.95"/>
<circle cx="63.4" cy="180.7" r="0.95"/>
<circle cx="63.0" cy="185.3" r="0.95"/>
<circle cx="63.0" cy="185.5" r="0.95"/>
<circle cx="62.8" cy="198.5" r="0.95"/>
<circle cx="62.9" cy="185.0" r="0.95"/>
<circle cx="62.7" cy="188.7" r="0.95"/>
<circle cx="63.5" cy="185.8" r="0.95"/>
<circle cx="62.3" cy="193.0" r="0.95"/>
<circle cx="62.0" cy="191.9" r="0.95"/>
<circle cx="63.5" cy="190.3" r="0.95"/>
<circle cx="62.3" cy="189.3" r="0.95"/>
<circle cx="62.8" cy="183.0" r="0.95"/>
<circle cx="62.0" cy="182.6" r="0.95"/>
<circle cx="56.8" cy="195.8" r="0.95"/>
<circle cx="56.7" cy="191.8" r="0.95"/>
<circle cx="55.5" cy="199.1" r="0.95"/>
<circle cx="60.0" cy="200.6" r="0.95"/>
<circle cx="58.4" cy="201.6" r="0.95"/>
<circle cx="56.2" cy="203.0" r="0.95"/>
<circle cx="57.8" cy="199.2" r="0.95"/>
<circle cx="58.7" cy="197.3" r="0.95"/>
<circle cx="56.9" cy="191.8" r="0.95"/>
<circle cx="56.3" cy="198.3" r="0.95"/>
<circle cx="66.7" cy="154.7" r="0.95"/>
<circle cx="63.8" cy="161.2" r="0.95"/>
<circle cx="64.7" cy="159.0" r="0.95"/>
<circle cx="56.6" cy="163.6" r="0.95"/>
<circle cx="56.2" cy="163.7" r="0.95"/>
<circle cx="61.9" cy="159.2" r="0.95"/>
<circle cx="59.5" cy="161.2" r="0.95"/>
<circle cx="81.9" cy="141.4" r="0.95"/>
<circle cx="78.2" cy="145.1" r="0.95"/>
<circle cx="77.9" cy="146.6" r="0.95"/>
<circle cx="84.4" cy="143.9" r="0.95"/>
<circle cx="86.1" cy="139.6" r="0.95"/>
<circle cx="80.6" cy="145.2" r="0.95"/>
<circle cx="69.9" cy="153.5" r="0.95"/>
<circle cx="66.1" cy="153.8" r="0.95"/>
<circle cx="83.2" cy="144.5" r="0.95"/>
<circle cx="60.7" cy="160.6" r="0.95"/>
<circle cx="57.2" cy="163.1" r="0.95"/>
<circle cx="82.6" cy="144.4" r="0.95"/>
<circle cx="85.4" cy="142.5" r="0.95"/>
<circle cx="70.8" cy="147.6" r="0.95"/>
<circle cx="86.9" cy="138.4" r="0.95"/>
<circle cx="76.4" cy="146.0" r="0.95"/>
<circle cx="85.7" cy="139.9" r="0.95"/>
<circle cx="57.5" cy="162.4" r="0.95"/>
<circle cx="83.6" cy="141.6" r="0.95"/>
<circle cx="65.7" cy="150.9" r="0.95"/>
<circle cx="82.1" cy="144.9" r="0.95"/>
<circle cx="87.3" cy="140.9" r="0.95"/>
<circle cx="78.3" cy="147.6" r="0.95"/>
<circle cx="83.7" cy="141.4" r="0.95"/>
<circle cx="71.8" cy="152.9" r="0.95"/>
<circle cx="74.2" cy="147.9" r="0.95"/>
<circle cx="55.9" cy="165.4" r="0.95"/>
<circle cx="64.4" cy="157.3" r="0.95"/>
<circle cx="74.8" cy="151.3" r="0.95"/>
<circle cx="69.6" cy="150.8" r="0.95"/>
<circle cx="87.1" cy="138.5" r="0.95"/>
<circle cx="60.2" cy="164.1" r="0.95"/>
<circle cx="60.2" cy="161.7" r="0.95"/>
<circle cx="74.3" cy="149.3" r="0.95"/>
<circle cx="65.1" cy="156.9" r="0.95"/>
<circle cx="60.3" cy="161.7" r="0.95"/>
<circle cx="64.8" cy="155.5" r="0.95"/>
<circle cx="57.7" cy="166.4" r="0.95"/>
<circle cx="74.3" cy="148.4" r="0.95"/>
<circle cx="85.6" cy="141.9" r="0.95"/>
<circle cx="62.8" cy="156.0" r="0.95"/>
<circle cx="71.0" cy="152.3" r="0.95"/>
<circle cx="62.8" cy="161.6" r="0.95"/>
<circle cx="70.0" cy="152.5" r="0.95"/>
<circle cx="61.9" cy="161.9" r="0.95"/>
<circle cx="73.5" cy="150.9" r="0.95"/>
<circle cx="58.1" cy="165.7" r="0.95"/>
<circle cx="66.1" cy="156.1" r="0.95"/>
<circle cx="56.8" cy="166.2" r="0.95"/>
<circle cx="59.6" cy="161.7" r="0.95"/>
<circle cx="60.6" cy="165.1" r="0.95"/>
<circle cx="81.5" cy="144.4" r="0.95"/>
<circle cx="86.1" cy="140.1" r="0.95"/>
<circle cx="71.0" cy="152.0" r="0.95"/>
<circle cx="64.6" cy="159.9" r="0.95"/>
<circle cx="66.8" cy="155.8" r="0.95"/>
<circle cx="60.7" cy="165.2" r="0.95"/>
<circle cx="63.3" cy="158.5" r="0.95"/>
<circle cx="63.4" cy="156.2" r="0.95"/>
<circle cx="60.9" cy="161.8" r="0.95"/>
<circle cx="72.0" cy="149.9" r="0.95"/>
<circle cx="65.1" cy="158.6" r="0.95"/>
<circle cx="78.2" cy="146.9" r="0.95"/>
<circle cx="84.4" cy="142.0" r="0.95"/>
<circle cx="63.5" cy="158.0" r="0.95"/>
<circle cx="75.8" cy="146.6" r="0.95"/>
<circle cx="61.4" cy="157.5" r="0.95"/>
<circle cx="75.1" cy="149.0" r="0.95"/>
<circle cx="77.2" cy="145.4" r="0.95"/>
<circle cx="60.5" cy="162.0" r="0.95"/>
<circle cx="64.7" cy="157.4" r="0.95"/>
<circle cx="81.1" cy="141.6" r="0.95"/>
<circle cx="77.6" cy="148.1" r="0.95"/>
<circle cx="81.8" cy="143.8" r="0.95"/>
<circle cx="74.7" cy="149.5" r="0.95"/>
<circle cx="58.5" cy="163.8" r="0.95"/>
<circle cx="56.6" cy="162.7" r="0.95"/>
<circle cx="79.0" cy="146.3" r="0.95"/>
<circle cx="69.8" cy="155.2" r="0.95"/>
<circle cx="78.8" cy="146.2" r="0.95"/>
<circle cx="77.0" cy="146.9" r="0.95"/>
<circle cx="86.4" cy="142.6" r="0.95"/>
<circle cx="81.2" cy="144.6" r="0.95"/>
<circle cx="86.2" cy="139.4" r="0.95"/>
<circle cx="66.3" cy="156.4" r="0.95"/>
<circle cx="66.0" cy="158.4" r="0.95"/>
<circle cx="61.5" cy="158.6" r="0.95"/>
<circle cx="85.5" cy="140.6" r="0.95"/>
<circle cx="72.1" cy="150.0" r="0.95"/>
<circle cx="72.0" cy="150.3" r="0.95"/>
<circle cx="68.2" cy="151.2" r="0.95"/>
<circle cx="58.5" cy="162.9" r="0.95"/>
<circle cx="64.2" cy="159.0" r="0.95"/>
<circle cx="69.7" cy="153.7" r="0.95"/>
<circle cx="60.5" cy="161.8" r="0.95"/>
<circle cx="87.6" cy="139.5" r="0.95"/>
<circle cx="70.6" cy="147.2" r="0.95"/>
<circle cx="69.2" cy="154.7" r="0.95"/>
<circle cx="75.1" cy="147.7" r="0.95"/>
<circle cx="75.9" cy="147.8" r="0.95"/>
<circle cx="80.1" cy="144.7" r="0.95"/>
<circle cx="59.0" cy="159.7" r="0.95"/>
<circle cx="80.2" cy="143.8" r="0.95"/>
<circle cx="66.3" cy="157.6" r="0.95"/>
<circle cx="72.6" cy="151.7" r="0.95"/>
<circle cx="63.9" cy="160.5" r="0.95"/>
<circle cx="77.0" cy="144.7" r="0.95"/>
<circle cx="69.7" cy="151.2" r="0.95"/>
<circle cx="58.9" cy="165.5" r="0.95"/>
<circle cx="69.1" cy="154.1" r="0.95"/>
<circle cx="61.2" cy="161.2" r="0.95"/>
<circle cx="82.5" cy="144.0" r="0.95"/>
<circle cx="76.0" cy="147.9" r="0.95"/>
<circle cx="64.2" cy="155.3" r="0.95"/>
<circle cx="57.9" cy="159.7" r="0.95"/>
<circle cx="72.4" cy="149.8" r="0.95"/>
<circle cx="70.2" cy="153.3" r="0.95"/>
<circle cx="84.6" cy="144.7" r="0.95"/>
<circle cx="55.3" cy="162.9" r="0.95"/>
<circle cx="61.6" cy="154.9" r="0.95"/>
<circle cx="64.2" cy="158.3" r="0.95"/>
<circle cx="56.9" cy="166.3" r="0.95"/>
<circle cx="75.8" cy="148.0" r="0.95"/>
<circle cx="66.6" cy="152.8" r="0.95"/>
<circle cx="61.2" cy="161.3" r="0.95"/>
<circle cx="58.9" cy="164.0" r="0.95"/>
<circle cx="63.2" cy="159.9" r="0.95"/>
<circle cx="61.5" cy="159.0" r="0.95"/>
<circle cx="57.3" cy="164.1" r="0.95"/>
<circle cx="69.2" cy="154.3" r="0.95"/>
<circle cx="57.1" cy="161.2" r="0.95"/>
<circle cx="58.5" cy="164.4" r="0.95"/>
<circle cx="74.4" cy="152.4" r="0.95"/>
<circle cx="80.5" cy="145.3" r="0.95"/>
<circle cx="73.8" cy="149.6" r="0.95"/>
<circle cx="76.4" cy="144.1" r="0.95"/>
<circle cx="71.9" cy="148.3" r="0.95"/>
<circle cx="60.0" cy="161.6" r="0.95"/>
<circle cx="80.9" cy="142.0" r="0.95"/>
<circle cx="79.6" cy="147.5" r="0.95"/>
<circle cx="58.1" cy="163.9" r="0.95"/>
<circle cx="59.8" cy="164.8" r="0.95"/>
<circle cx="69.6" cy="153.7" r="0.95"/>
<circle cx="59.1" cy="163.8" r="0.95"/>
<circle cx="71.7" cy="150.0" r="0.95"/>
<circle cx="68.5" cy="156.2" r="0.95"/>
<circle cx="80.8" cy="143.5" r="0.95"/>
<circle cx="66.6" cy="157.4" r="0.95"/>
<circle cx="54.8" cy="164.3" r="0.95"/>
<circle cx="76.1" cy="146.4" r="0.95"/>
<circle cx="69.1" cy="156.3" r="0.95"/>
<circle cx="57.1" cy="164.1" r="0.95"/>
<circle cx="55.5" cy="164.4" r="0.95"/>
<circle cx="68.5" cy="151.8" r="0.95"/>
<circle cx="73.2" cy="149.8" r="0.95"/>
<circle cx="69.5" cy="153.5" r="0.95"/>
<circle cx="64.7" cy="160.1" r="0.95"/>
<circle cx="61.8" cy="158.3" r="0.95"/>
<circle cx="54.7" cy="164.3" r="0.95"/>
<circle cx="83.1" cy="142.4" r="0.95"/>
<circle cx="63.1" cy="156.9" r="0.95"/>
<circle cx="85.4" cy="140.6" r="0.95"/>
<circle cx="69.0" cy="149.6" r="0.95"/>
<circle cx="72.0" cy="149.9" r="0.95"/>
<circle cx="87.8" cy="140.5" r="0.95"/>
<circle cx="62.9" cy="159.4" r="0.95"/>
<circle cx="83.1" cy="142.6" r="0.95"/>
<circle cx="72.8" cy="149.9" r="0.95"/>
<circle cx="64.9" cy="157.5" r="0.95"/>
<circle cx="85.5" cy="139.6" r="0.95"/>
<circle cx="59.7" cy="160.6" r="0.95"/>
<circle cx="66.0" cy="156.2" r="0.95"/>
<circle cx="69.9" cy="151.8" r="0.95"/>
<circle cx="63.6" cy="159.5" r="0.95"/>
<circle cx="63.3" cy="161.9" r="0.95"/>
<circle cx="74.4" cy="150.2" r="0.95"/>
<circle cx="87.5" cy="141.7" r="0.95"/>
<circle cx="81.4" cy="144.5" r="0.95"/>
<circle cx="72.3" cy="151.0" r="0.95"/>
<circle cx="85.5" cy="141.4" r="0.95"/>
<circle cx="66.0" cy="152.8" r="0.95"/>
<circle cx="56.5" cy="164.3" r="0.95"/>
<circle cx="69.5" cy="151.1" r="0.95"/>
<circle cx="71.6" cy="154.4" r="0.95"/>
<circle cx="55.1" cy="163.2" r="0.95"/>
<circle cx="65.8" cy="157.6" r="0.95"/>
<circle cx="59.4" cy="165.2" r="0.95"/>
<circle cx="70.7" cy="149.3" r="0.95"/>
<circle cx="64.1" cy="155.3" r="0.95"/>
<circle cx="77.4" cy="146.3" r="0.95"/>
<circle cx="87.9" cy="141.6" r="0.95"/>
<circle cx="71.6" cy="151.9" r="0.95"/>
<circle cx="75.9" cy="147.5" r="0.95"/>
<circle cx="88.2" cy="140.0" r="0.95"/>
<circle cx="59.6" cy="162.8" r="0.95"/>
<circle cx="73.7" cy="151.2" r="0.95"/>
<circle cx="60.9" cy="161.2" r="0.95"/>
<circle cx="62.0" cy="163.8" r="0.95"/>
<circle cx="73.0" cy="154.4" r="0.95"/>
<circle cx="80.2" cy="143.3" r="0.95"/>
<circle cx="78.6" cy="145.6" r="0.95"/>
<circle cx="67.6" cy="154.6" r="0.95"/>
<circle cx="85.1" cy="140.8" r="0.95"/>
<circle cx="62.1" cy="159.7" r="0.95"/>
<circle cx="61.7" cy="160.5" r="0.95"/>
<circle cx="65.0" cy="158.3" r="0.95"/>
<circle cx="83.0" cy="142.2" r="0.95"/>
<circle cx="79.2" cy="145.5" r="0.95"/>
<circle cx="84.8" cy="143.3" r="0.95"/>
<circle cx="72.9" cy="147.9" r="0.95"/>
<circle cx="83.2" cy="142.0" r="0.95"/>
<circle cx="84.0" cy="143.6" r="0.95"/>
<circle cx="56.2" cy="166.2" r="0.95"/>
<circle cx="55.8" cy="166.8" r="0.95"/>
<circle cx="59.7" cy="160.9" r="0.95"/>
<circle cx="66.8" cy="158.5" r="0.95"/>
<circle cx="53.9" cy="163.7" r="0.95"/>
<circle cx="77.9" cy="148.1" r="0.95"/>
<circle cx="60.2" cy="164.8" r="0.95"/>
<circle cx="65.1" cy="157.4" r="0.95"/>
<circle cx="68.5" cy="154.2" r="0.95"/>
<circle cx="59.2" cy="162.2" r="0.95"/>
<circle cx="71.1" cy="152.3" r="0.95"/>
<circle cx="63.8" cy="162.4" r="0.95"/>
<circle cx="59.6" cy="160.5" r="0.95"/>
<circle cx="55.2" cy="163.8" r="0.95"/>
<circle cx="54.8" cy="165.4" r="0.95"/>
<circle cx="70.6" cy="149.4" r="0.95"/>
<circle cx="77.6" cy="146.0" r="0.95"/>
<circle cx="68.9" cy="154.9" r="0.95"/>
<circle cx="60.2" cy="163.1" r="0.95"/>
<circle cx="74.6" cy="149.5" r="0.95"/>
<circle cx="61.8" cy="158.8" r="0.95"/>
<circle cx="82.0" cy="143.9" r="0.95"/>
<circle cx="65.3" cy="157.2" r="0.95"/>
<circle cx="64.8" cy="157.2" r="0.95"/>
<circle cx="68.2" cy="149.0" r="0.95"/>
<circle cx="60.7" cy="158.0" r="0.95"/>
<circle cx="67.9" cy="156.0" r="0.95"/>
<circle cx="76.4" cy="146.3" r="0.95"/>
<circle cx="74.1" cy="149.1" r="0.95"/>
<circle cx="69.1" cy="152.1" r="0.95"/>
<circle cx="59.8" cy="162.3" r="0.95"/>
<circle cx="69.7" cy="149.0" r="0.95"/>
<circle cx="81.6" cy="144.2" r="0.95"/>
<circle cx="82.4" cy="145.2" r="0.95"/>
<circle cx="82.1" cy="143.4" r="0.95"/>
<circle cx="59.9" cy="161.7" r="0.95"/>
<circle cx="72.2" cy="152.7" r="0.95"/>
<circle cx="68.8" cy="156.2" r="0.95"/>
<circle cx="81.0" cy="144.3" r="0.95"/>
<circle cx="76.2" cy="146.3" r="0.95"/>
<circle cx="66.5" cy="157.5" r="0.95"/>
<circle cx="60.9" cy="160.4" r="0.95"/>
<circle cx="65.0" cy="160.2" r="0.95"/>
<circle cx="82.9" cy="144.6" r="0.95"/>
<circle cx="67.7" cy="153.1" r="0.95"/>
<circle cx="67.6" cy="156.4" r="0.95"/>
<circle cx="65.1" cy="159.3" r="0.95"/>
<circle cx="80.9" cy="142.7" r="0.95"/>
<circle cx="60.2" cy="159.6" r="0.95"/>
<circle cx="65.9" cy="155.4" r="0.95"/>
<circle cx="67.2" cy="156.0" r="0.95"/>
<circle cx="84.4" cy="141.5" r="0.95"/>
<circle cx="68.8" cy="152.0" r="0.95"/>
<circle cx="70.3" cy="153.0" r="0.95"/>
<circle cx="81.5" cy="143.1" r="0.95"/>
<circle cx="69.0" cy="155.8" r="0.95"/>
<circle cx="79.4" cy="144.4" r="0.95"/>
<circle cx="57.5" cy="164.8" r="0.95"/>
<circle cx="73.7" cy="151.1" r="0.95"/>
<circle cx="77.4" cy="145.9" r="0.95"/>
<circle cx="73.0" cy="148.5" r="0.95"/>
<circle cx="83.9" cy="142.9" r="0.95"/>
<circle cx="87.6" cy="139.9" r="0.95"/>
<circle cx="65.1" cy="156.9" r="0.95"/>
<circle cx="67.8" cy="153.7" r="0.95"/>
<circle cx="83.1" cy="143.1" r="0.95"/>
<circle cx="57.2" cy="165.7" r="0.95"/>
<circle cx="68.1" cy="151.1" r="0.95"/>
<circle cx="63.0" cy="162.0" r="0.95"/>
<circle cx="56.3" cy="164.1" r="0.95"/>
<circle cx="65.7" cy="158.1" r="0.95"/>
<circle cx="63.1" cy="157.2" r="0.95"/>
<circle cx="84.8" cy="140.6" r="0.95"/>
<circle cx="55.4" cy="163.7" r="0.95"/>
<circle cx="57.8" cy="165.0" r="0.95"/>
<circle cx="84.0" cy="139.2" r="0.95"/>
<circle cx="76.4" cy="147.4" r="0.95"/>
<circle cx="83.4" cy="144.6" r="0.95"/>
<circle cx="58.6" cy="163.6" r="0.95"/>
<circle cx="67.3" cy="154.1" r="0.95"/>
<circle cx="59.2" cy="161.1" r="0.95"/>
<circle cx="56.6" cy="165.8" r="0.95"/>
<circle cx="66.1" cy="158.5" r="0.95"/>
<circle cx="84.7" cy="140.9" r="0.95"/>
<circle cx="88.1" cy="141.4" r="0.95"/>
<circle cx="66.2" cy="154.7" r="0.95"/>
<circle cx="69.2" cy="152.4" r="0.95"/>
<circle cx="78.0" cy="149.0" r="0.95"/>
<circle cx="89.1" cy="140.9" r="0.95"/>
<circle cx="63.3" cy="156.3" r="0.95"/>
<circle cx="57.4" cy="163.9" r="0.95"/>
<circle cx="73.4" cy="148.9" r="0.95"/>
<circle cx="84.6" cy="142.4" r="0.95"/>
<circle cx="86.1" cy="142.7" r="0.95"/>
<circle cx="85.8" cy="140.5" r="0.95"/>
<circle cx="64.6" cy="155.9" r="0.95"/>
<circle cx="79.8" cy="143.8" r="0.95"/>
<circle cx="73.5" cy="151.4" r="0.95"/>
<circle cx="68.3" cy="151.6" r="0.95"/>
<circle cx="57.6" cy="163.1" r="0.95"/>
<circle cx="66.1" cy="154.8" r="0.95"/>
<circle cx="61.1" cy="162.8" r="0.95"/>
<circle cx="68.3" cy="150.7" r="0.95"/>
<circle cx="84.3" cy="143.0" r="0.95"/>
<circle cx="69.5" cy="152.8" r="0.95"/>
<circle cx="70.4" cy="150.9" r="0.95"/>
<circle cx="59.4" cy="163.7" r="0.95"/>
<circle cx="70.6" cy="152.1" r="0.95"/>
<circle cx="79.8" cy="143.7" r="0.95"/>
<circle cx="62.0" cy="159.7" r="0.95"/>
<circle cx="67.2" cy="155.1" r="0.95"/>
<circle cx="84.9" cy="143.1" r="0.95"/>
<circle cx="81.1" cy="145.7" r="0.95"/>
<circle cx="59.7" cy="157.0" r="0.95"/>
<circle cx="77.4" cy="146.9" r="0.95"/>
<circle cx="79.7" cy="142.2" r="0.95"/>
<circle cx="67.8" cy="154.6" r="0.95"/>
<circle cx="62.1" cy="159.2" r="0.95"/>
<circle cx="60.2" cy="163.4" r="0.95"/>
<circle cx="68.7" cy="160.5" r="0.95"/>
<circle cx="69.4" cy="150.1" r="0.95"/>
<circle cx="78.6" cy="144.5" r="0.95"/>
<circle cx="79.6" cy="143.2" r="0.95"/>
<circle cx="67.8" cy="157.5" r="0.95"/>
<circle cx="57.8" cy="160.3" r="0.95"/>
<circle cx="84.0" cy="141.7" r="0.95"/>
<circle cx="67.4" cy="151.9" r="0.95"/>
<circle cx="83.4" cy="141.0" r="0.95"/>
<circle cx="58.5" cy="162.4" r="0.95"/>
<circle cx="63.1" cy="159.6" r="0.95"/>
<circle cx="62.9" cy="160.7" r="0.95"/>
<circle cx="76.4" cy="146.8" r="0.95"/>
<circle cx="75.8" cy="145.0" r="0.95"/>
<circle cx="69.0" cy="155.9" r="0.95"/>
<circle cx="73.3" cy="148.0" r="0.95"/>
<circle cx="54.9" cy="166.5" r="0.95"/>
<circle cx="68.9" cy="155.2" r="0.95"/>
<circle cx="65.8" cy="157.0" r="0.95"/>
<circle cx="63.0" cy="156.7" r="0.95"/>
<circle cx="76.4" cy="145.2" r="0.95"/>
<circle cx="76.8" cy="146.6" r="0.95"/>
<circle cx="61.0" cy="160.6" r="0.95"/>
<circle cx="83.9" cy="142.2" r="0.95"/>
<circle cx="64.7" cy="151.5" r="0.95"/>
<circle cx="60.8" cy="160.7" r="0.95"/>
<circle cx="71.9" cy="151.9" r="0.95"/>
<circle cx="80.8" cy="143.7" r="0.95"/>
<circle cx="55.9" cy="161.0" r="0.95"/>
<circle cx="85.6" cy="140.8" r="0.95"/>
<circle cx="56.3" cy="163.6" r="0.95"/>
<circle cx="75.6" cy="147.1" r="0.95"/>
<circle cx="69.9" cy="149.8" r="0.95"/>
<circle cx="87.6" cy="140.2" r="0.95"/>
<circle cx="75.9" cy="145.9" r="0.95"/>
<circle cx="76.7" cy="143.6" r="0.95"/>
<circle cx="67.2" cy="158.8" r="0.95"/>
<circle cx="73.1" cy="149.0" r="0.95"/>
<circle cx="66.8" cy="154.8" r="0.95"/>
<circle cx="65.5" cy="159.7" r="0.95"/>
<circle cx="86.2" cy="138.9" r="0.95"/>
<circle cx="86.0" cy="139.1" r="0.95"/>
<circle cx="64.6" cy="159.3" r="0.95"/>
<circle cx="64.3" cy="154.8" r="0.95"/>
<circle cx="84.4" cy="143.2" r="0.95"/>
<circle cx="57.5" cy="166.1" r="0.95"/>
<circle cx="87.1" cy="140.6" r="0.95"/>
<circle cx="63.5" cy="163.5" r="0.95"/>
<circle cx="58.5" cy="162.8" r="0.95"/>
<circle cx="65.2" cy="161.0" r="0.95"/>
<circle cx="69.4" cy="154.0" r="0.95"/>
<circle cx="58.8" cy="160.7" r="0.95"/>
<circle cx="71.4" cy="149.2" r="0.95"/>
<circle cx="85.4" cy="142.2" r="0.95"/>
<circle cx="75.2" cy="148.7" r="0.95"/>
<circle cx="72.7" cy="151.0" r="0.95"/>
<circle cx="63.3" cy="158.3" r="0.95"/>
<circle cx="75.8" cy="146.8" r="0.95"/>
<circle cx="58.2" cy="163.0" r="0.95"/>
<circle cx="76.8" cy="146.2" r="0.95"/>
<circle cx="85.6" cy="140.4" r="0.95"/>
<circle cx="67.2" cy="157.9" r="0.95"/>
<circle cx="105.0" cy="131.3" r="0.95"/>
<circle cx="99.1" cy="134.4" r="0.95"/>
<circle cx="104.3" cy="132.5" r="0.95"/>
<circle cx="106.5" cy="131.5" r="0.95"/>
<circle cx="113.6" cy="128.0" r="0.95"/>
<circle cx="104.4" cy="131.3" r="0.95"/>
<circle cx="112.1" cy="129.2" r="0.95"/>
<circle cx="110.8" cy="129.0" r="0.95"/>
<circle cx="97.3" cy="136.2" r="0.95"/>
<circle cx="94.7" cy="135.8" r="0.95"/>
<circle cx="110.3" cy="130.4" r="0.95"/>
<circle cx="90.8" cy="138.8" r="0.95"/>
<circle cx="87.9" cy="139.2" r="0.95"/>
<circle cx="102.2" cy="133.1" r="0.95"/>
<circle cx="89.2" cy="139.0" r="0.95"/>
<circle cx="99.2" cy="135.6" r="0.95"/>
<circle cx="94.9" cy="136.5" r="0.95"/>
<circle cx="105.6" cy="131.1" r="0.95"/>
<circle cx="88.5" cy="138.6" r="0.95"/>
<circle cx="111.5" cy="129.3" r="0.95"/>
<circle cx="104.5" cy="132.4" r="0.95"/>
<circle cx="113.9" cy="126.9" r="0.95"/>
<circle cx="120.2" cy="125.2" r="0.95"/>
<circle cx="110.4" cy="129.8" r="0.95"/>
<circle cx="99.4" cy="134.7" r="0.95"/>
<circle cx="111.9" cy="129.2" r="0.95"/>
<circle cx="94.1" cy="136.2" r="0.95"/>
<circle cx="111.5" cy="130.0" r="0.95"/>
<circle cx="118.7" cy="125.8" r="0.95"/>
<circle cx="95.0" cy="136.1" r="0.95"/>
<circle cx="111.3" cy="128.9" r="0.95"/>
<circle cx="108.9" cy="130.7" r="0.95"/>
<circle cx="89.7" cy="139.4" r="0.95"/>
<circle cx="102.7" cy="132.5" r="0.95"/>
<circle cx="92.6" cy="137.6" r="0.95"/>
<circle cx="113.4" cy="128.0" r="0.95"/>
<circle cx="92.5" cy="137.8" r="0.95"/>
<circle cx="96.6" cy="135.7" r="0.95"/>
<circle cx="111.4" cy="130.1" r="0.95"/>
<circle cx="100.8" cy="133.8" r="0.95"/>
<circle cx="92.4" cy="137.5" r="0.95"/>
<circle cx="88.3" cy="138.6" r="0.95"/>
<circle cx="103.7" cy="133.8" r="0.95"/>
<circle cx="98.1" cy="134.3" r="0.95"/>
<circle cx="103.6" cy="132.3" r="0.95"/>
<circle cx="101.2" cy="135.4" r="0.95"/>
<circle cx="92.3" cy="137.2" r="0.95"/>
<circle cx="110.9" cy="129.1" r="0.95"/>
<circle cx="111.9" cy="129.3" r="0.95"/>
<circle cx="111.5" cy="130.0" r="0.95"/>
<circle cx="110.5" cy="129.7" r="0.95"/>
<circle cx="89.7" cy="138.7" r="0.95"/>
<circle cx="95.3" cy="135.3" r="0.95"/>
<circle cx="112.0" cy="128.4" r="0.95"/>
<circle cx="119.5" cy="125.1" r="0.95"/>
<circle cx="118.2" cy="126.1" r="0.95"/>
<circle cx="117.4" cy="125.2" r="0.95"/>
<circle cx="88.8" cy="139.4" r="0.95"/>
<circle cx="119.3" cy="125.0" r="0.95"/>
<circle cx="104.9" cy="132.1" r="0.95"/>
<circle cx="116.8" cy="126.6" r="0.95"/>
<circle cx="114.1" cy="127.2" r="0.95"/>
<circle cx="107.3" cy="131.3" r="0.95"/>
<circle cx="97.5" cy="135.4" r="0.95"/>
<circle cx="112.8" cy="129.7" r="0.95"/>
<circle cx="91.4" cy="136.6" r="0.95"/>
<circle cx="102.9" cy="134.2" r="0.95"/>
<circle cx="90.8" cy="137.2" r="0.95"/>
<circle cx="115.8" cy="127.2" r="0.95"/>
<circle cx="92.5" cy="137.6" r="0.95"/>
<circle cx="113.1" cy="128.9" r="0.95"/>
<circle cx="107.5" cy="131.4" r="0.95"/>
<circle cx="100.8" cy="133.4" r="0.95"/>
<circle cx="114.2" cy="127.4" r="0.95"/>
<circle cx="111.7" cy="130.1" r="0.95"/>
<circle cx="116.6" cy="126.8" r="0.95"/>
<circle cx="102.2" cy="133.0" r="0.95"/>
<circle cx="98.9" cy="135.4" r="0.95"/>
<circle cx="119.0" cy="124.4" r="0.95"/>
<circle cx="119.8" cy="123.8" r="0.95"/>
<circle cx="96.0" cy="135.7" r="0.95"/>
<circle cx="118.0" cy="126.9" r="0.95"/>
<circle cx="113.2" cy="128.7" r="0.95"/>
<circle cx="114.7" cy="127.8" r="0.95"/>
<circle cx="99.2" cy="132.9" r="0.95"/>
<circle cx="108.8" cy="130.5" r="0.95"/>
<circle cx="101.3" cy="134.4" r="0.95"/>
<circle cx="94.6" cy="136.7" r="0.95"/>
<circle cx="88.8" cy="139.3" r="0.95"/>
<circle cx="102.1" cy="132.8" r="0.95"/>
<circle cx="112.2" cy="128.8" r="0.95"/>
<circle cx="110.6" cy="129.9" r="0.95"/>
<circle cx="118.8" cy="124.7" r="0.95"/>
<circle cx="110.4" cy="129.2" r="0.95"/>
<circle cx="90.4" cy="139.0" r="0.95"/>
<circle cx="104.5" cy="132.5" r="0.95"/>
<circle cx="96.7" cy="135.6" r="0.95"/>
<circle cx="101.3" cy="133.6" r="0.95"/>
<circle cx="112.4" cy="129.6" r="0.95"/>
<circle cx="89.6" cy="139.8" r="0.95"/>
<circle cx="115.5" cy="127.1" r="0.95"/>
<circle cx="94.2" cy="136.5" r="0.95"/>
<circle cx="109.1" cy="129.6" r="0.95"/>
<circle cx="91.4" cy="138.1" r="0.95"/>
<circle cx="109.1" cy="129.9" r="0.95"/>
<circle cx="116.1" cy="127.5" r="0.95"/>
<circle cx="99.6" cy="134.2" r="0.95"/>
<circle cx="99.6" cy="133.7" r="0.95"/>
<circle cx="95.8" cy="135.5" r="0.95"/>
<circle cx="95.5" cy="136.9" r="0.95"/>
<circle cx="100.5" cy="132.9" r="0.95"/>
<circle cx="89.4" cy="138.4" r="0.95"/>
<circle cx="95.8" cy="136.7" r="0.95"/>
<circle cx="111.5" cy="129.7" r="0.95"/>
<circle cx="103.9" cy="132.7" r="0.95"/>
<circle cx="90.0" cy="138.6" r="0.95"/>
<circle cx="118.2" cy="125.5" r="0.95"/>
<circle cx="107.1" cy="131.8" r="0.95"/>
<circle cx="116.6" cy="127.4" r="0.95"/>
<circle cx="93.5" cy="136.5" r="0.95"/>
<circle cx="74.4" cy="156.6" r="0.95"/>
<circle cx="73.4" cy="157.6" r="0.95"/>
<circle cx="79.3" cy="153.2" r="0.95"/>
<circle cx="93.4" cy="144.6" r="0.95"/>
<circle cx="101.7" cy="138.6" r="0.95"/>
<circle cx="95.9" cy="142.7" r="0.95"/>
<circle cx="99.1" cy="140.5" r="0.95"/>
<circle cx="106.1" cy="136.0" r="0.95"/>
<circle cx="115.1" cy="132.4" r="0.95"/>
<circle cx="73.5" cy="156.8" r="0.95"/>
<circle cx="91.1" cy="145.3" r="0.95"/>
<circle cx="115.9" cy="131.3" r="0.95"/>
<circle cx="70.7" cy="159.5" r="0.95"/>
<circle cx="116.2" cy="131.2" r="0.95"/>
<circle cx="100.6" cy="140.4" r="0.95"/>
<circle cx="92.5" cy="146.5" r="0.95"/>
<circle cx="85.2" cy="148.8" r="0.95"/>
<circle cx="87.9" cy="147.6" r="0.95"/>
<circle cx="69.7" cy="159.5" r="0.95"/>
<circle cx="105.0" cy="137.9" r="0.95"/>
<circle cx="75.7" cy="156.2" r="0.95"/>
<circle cx="98.3" cy="141.3" r="0.95"/>
<circle cx="89.5" cy="148.8" r="0.95"/>
<circle cx="124.6" cy="139.2" r="0.95"/>
<circle cx="129.2" cy="138.4" r="0.95"/>
<circle cx="126.3" cy="139.3" r="0.95"/>
<circle cx="92.4" cy="147.3" r="0.95"/>
<circle cx="105.4" cy="144.0" r="0.95"/>
<circle cx="112.0" cy="143.3" r="0.95"/>
<circle cx="108.6" cy="144.6" r="0.95"/>
<circle cx="129.0" cy="138.8" r="0.95"/>
<circle cx="86.1" cy="149.5" r="0.95"/>
<circle cx="89.2" cy="148.3" r="0.95"/>
<circle cx="116.5" cy="141.5" r="0.95"/>
<circle cx="113.0" cy="142.8" r="0.95"/>
<circle cx="115.0" cy="142.4" r="0.95"/>
<circle cx="128.5" cy="138.1" r="0.95"/>
<circle cx="87.4" cy="150.3" r="0.95"/>
<circle cx="125.9" cy="139.2" r="0.95"/>
<circle cx="118.5" cy="142.0" r="0.95"/>
<circle cx="88.1" cy="149.4" r="0.95"/>
<circle cx="99.3" cy="145.9" r="0.95"/>
<circle cx="127.6" cy="138.3" r="0.95"/>
<circle cx="85.8" cy="149.8" r="0.95"/>
<circle cx="113.6" cy="143.7" r="0.95"/>
<circle cx="121.6" cy="139.7" r="0.95"/>
<circle cx="64.1" cy="172.4" r="0.95"/>
<circle cx="74.5" cy="169.2" r="0.95"/>
<circle cx="61.7" cy="175.5" r="0.95"/>
<circle cx="67.9" cy="170.9" r="0.95"/>
<circle cx="78.3" cy="167.0" r="0.95"/>
<circle cx="74.8" cy="169.1" r="0.95"/>
<circle cx="60.8" cy="179.2" r="0.95"/>
<circle cx="76.7" cy="169.1" r="0.95"/>
<circle cx="73.1" cy="170.0" r="0.95"/>
<circle cx="78.1" cy="167.4" r="0.95"/>
<circle cx="66.0" cy="172.4" r="0.95"/>
<circle cx="72.4" cy="170.6" r="0.95"/>
<circle cx="61.9" cy="177.8" r="0.95"/>
<circle cx="70.8" cy="168.7" r="0.95"/>
<circle cx="63.0" cy="174.5" r="0.95"/>
<circle cx="64.5" cy="172.7" r="0.95"/>
<circle cx="74.7" cy="167.6" r="0.95"/>
<circle cx="75.6" cy="168.5" r="0.95"/>
<circle cx="66.0" cy="171.9" r="0.95"/>
<circle cx="63.9" cy="173.0" r="0.95"/>
<circle cx="75.4" cy="168.7" r="0.95"/>
<circle cx="63.0" cy="177.6" r="0.95"/>
<circle cx="65.4" cy="172.6" r="0.95"/>
<circle cx="61.5" cy="174.1" r="0.95"/>
<circle cx="63.6" cy="174.7" r="0.95"/>
<circle cx="66.6" cy="172.2" r="0.95"/>
<circle cx="68.5" cy="170.3" r="0.95"/>
<circle cx="75.9" cy="169.2" r="0.95"/>
<circle cx="68.9" cy="171.5" r="0.95"/>
<circle cx="77.9" cy="168.1" r="0.95"/>
<circle cx="69.5" cy="170.8" r="0.95"/>
<circle cx="68.9" cy="169.6" r="0.95"/>
<circle cx="72.4" cy="171.6" r="0.95"/>
<circle cx="77.4" cy="168.3" r="0.95"/>
<circle cx="73.2" cy="167.0" r="0.95"/>
<circle cx="69.4" cy="170.7" r="0.95"/>
<circle cx="78.0" cy="167.4" r="0.95"/>
<circle cx="71.6" cy="170.1" r="0.95"/>
<circle cx="79.3" cy="167.8" r="0.95"/>
<circle cx="78.5" cy="167.5" r="0.95"/>
<circle cx="62.7" cy="175.4" r="0.95"/>
<circle cx="72.7" cy="170.3" r="0.95"/>
<circle cx="61.0" cy="178.2" r="0.95"/>
<circle cx="62.9" cy="177.8" r="0.95"/>
<circle cx="66.9" cy="172.0" r="0.95"/>
<circle cx="77.7" cy="169.7" r="0.95"/>
<circle cx="77.3" cy="167.5" r="0.95"/>
<circle cx="69.3" cy="170.0" r="0.95"/>
<circle cx="62.9" cy="176.0" r="0.95"/>
<circle cx="75.5" cy="169.3" r="0.95"/>
<circle cx="62.5" cy="176.2" r="0.95"/>
<circle cx="63.3" cy="177.3" r="0.95"/>
<circle cx="62.2" cy="175.5" r="0.95"/>
<circle cx="71.7" cy="169.1" r="0.95"/>
<circle cx="74.5" cy="167.6" r="0.95"/>
<circle cx="64.8" cy="174.9" r="0.95"/>
<circle cx="61.9" cy="174.3" r="0.95"/>
<circle cx="74.5" cy="170.0" r="0.95"/>
<circle cx="62.3" cy="175.0" r="0.95"/>
<circle cx="72.0" cy="167.8" r="0.95"/>
<circle cx="61.7" cy="175.9" r="0.95"/>
<circle cx="66.4" cy="173.6" r="0.95"/>
<circle cx="68.1" cy="172.1" r="0.95"/>
<circle cx="63.7" cy="177.1" r="0.95"/>
<circle cx="74.3" cy="168.7" r="0.95"/>
<circle cx="74.9" cy="168.4" r="0.95"/>
<circle cx="63.8" cy="173.0" r="0.95"/>
<circle cx="60.6" cy="178.0" r="0.95"/>
<circle cx="63.7" cy="177.5" r="0.95"/>
<circle cx="62.9" cy="176.6" r="0.95"/>
<circle cx="77.0" cy="175.8" r="0.95"/>
<circle cx="79.2" cy="177.6" r="0.95"/>
<circle cx="77.3" cy="173.8" r="0.95"/>
<circle cx="80.0" cy="177.9" r="0.95"/>
<circle cx="76.4" cy="175.0" r="0.95"/>
<circle cx="78.7" cy="177.3" r="0.95"/>
<circle cx="74.9" cy="173.5" r="0.95"/>
<circle cx="79.0" cy="179.2" r="0.95"/>
<circle cx="78.0" cy="176.7" r="0.95"/>
<circle cx="75.4" cy="165.5" r="0.95"/>
<circle cx="70.1" cy="168.6" r="0.95"/>
<circle cx="71.0" cy="165.9" r="0.95"/>
<circle cx="77.3" cy="161.2" r="0.95"/>
<circle cx="78.2" cy="161.6" r="0.95"/>
<circle cx="71.0" cy="169.3" r="0.95"/>
<circle cx="78.4" cy="161.6" r="0.95"/>
<circle cx="72.8" cy="166.1" r="0.95"/>
<circle cx="66.0" cy="171.3" r="0.95"/>
<circle cx="69.9" cy="168.1" r="0.95"/>
<circle cx="75.9" cy="165.6" r="0.95"/>
<circle cx="71.3" cy="168.1" r="0.95"/>
<circle cx="71.7" cy="165.9" r="0.95"/>
<circle cx="74.2" cy="165.0" r="0.95"/>
<circle cx="61.9" cy="173.8" r="0.95"/>
<circle cx="64.7" cy="175.5" r="0.95"/>
<circle cx="68.8" cy="167.4" r="0.95"/>
<circle cx="67.5" cy="170.5" r="0.95"/>
<circle cx="69.0" cy="169.4" r="0.95"/>
<circle cx="64.8" cy="173.4" r="0.95"/>
<circle cx="71.0" cy="168.5" r="0.95"/>
<circle cx="70.0" cy="169.7" r="0.95"/>
<circle cx="64.9" cy="172.4" r="0.95"/>
<circle cx="65.9" cy="174.3" r="0.95"/>
<circle cx="67.5" cy="170.1" r="0.95"/>
<circle cx="73.9" cy="165.1" r="0.95"/>
<circle cx="61.7" cy="174.9" r="0.95"/>
<circle cx="66.5" cy="168.9" r="0.95"/>
<circle cx="67.0" cy="171.3" r="0.95"/>
<circle cx="75.1" cy="164.6" r="0.95"/>
<circle cx="76.4" cy="164.7" r="0.95"/>
<circle cx="68.3" cy="171.0" r="0.95"/>
<circle cx="64.5" cy="174.0" r="0.95"/>
<circle cx="62.4" cy="175.0" r="0.95"/>
<circle cx="77.8" cy="162.7" r="0.95"/>
<circle cx="78.0" cy="161.3" r="0.95"/>
<circle cx="73.0" cy="166.7" r="0.95"/>
<circle cx="67.9" cy="169.6" r="0.95"/>
<circle cx="65.9" cy="171.4" r="0.95"/>
<circle cx="64.6" cy="173.3" r="0.95"/>
<circle cx="76.5" cy="164.0" r="0.95"/>
<circle cx="63.3" cy="174.8" r="0.95"/>
<circle cx="77.3" cy="159.9" r="0.95"/>
<circle cx="64.0" cy="175.3" r="0.95"/>
<circle cx="78.0" cy="164.1" r="0.95"/>
<circle cx="83.3" cy="164.5" r="0.95"/>
<circle cx="84.2" cy="165.3" r="0.95"/>
<circle cx="83.0" cy="165.6" r="0.95"/>
<circle cx="87.9" cy="164.5" r="0.95"/>
<circle cx="88.6" cy="165.4" r="0.95"/>
<circle cx="87.3" cy="163.8" r="0.95"/>
<circle cx="83.8" cy="178.0" r="0.95"/>
<circle cx="84.2" cy="179.4" r="0.95"/>
<circle cx="83.5" cy="176.8" r="0.95"/>
<circle cx="90.5" cy="182.0" r="0.95"/>
<circle cx="90.2" cy="183.3" r="0.95"/>
<circle cx="92.5" cy="168.0" r="0.95"/>
<circle cx="104.9" cy="169.2" r="0.95"/>
<circle cx="107.5" cy="167.6" r="0.95"/>
<circle cx="95.6" cy="182.5" r="0.95"/>
<circle cx="97.5" cy="184.0" r="0.95"/>
<circle cx="99.0" cy="183.0" r="0.95"/>
<circle cx="101.0" cy="185.0" r="0.95"/>
<circle cx="96.5" cy="185.5" r="0.95"/>
<circle cx="86.0" cy="170.0" r="0.95"/>
<circle cx="89.0" cy="174.5" r="0.95"/>
<circle cx="114.0" cy="133.5" r="0.95"/>
<circle cx="118.2" cy="131.5" r="0.95"/>
<circle cx="120.3" cy="129.0" r="0.95"/>
<circle cx="127.5" cy="127.4" r="0.95"/>
<circle cx="135.2" cy="123.2" r="0.95"/>
<circle cx="128.4" cy="127.4" r="0.95"/>
<circle cx="178.6" cy="85.8" r="0.95"/>
<circle cx="150.2" cy="117.1" r="0.95"/>
<circle cx="172.5" cy="91.6" r="0.95"/>
<circle cx="168.7" cy="94.8" r="0.95"/>
<circle cx="160.2" cy="104.6" r="0.95"/>
<circle cx="156.5" cy="109.6" r="0.95"/>
<circle cx="172.8" cy="91.9" r="0.95"/>
<circle cx="174.3" cy="91.0" r="0.95"/>
<circle cx="172.0" cy="93.0" r="0.95"/>
<circle cx="162.8" cy="100.3" r="0.95"/>
<circle cx="158.8" cy="105.2" r="0.95"/>
<circle cx="166.6" cy="96.4" r="0.95"/>
<circle cx="160.6" cy="103.7" r="0.95"/>
<circle cx="165.2" cy="98.0" r="0.95"/>
<circle cx="161.2" cy="102.1" r="0.95"/>
<circle cx="182.5" cy="82.1" r="0.95"/>
<circle cx="169.2" cy="94.8" r="0.95"/>
<circle cx="176.7" cy="88.9" r="0.95"/>
<circle cx="183.1" cy="81.4" r="0.95"/>
<circle cx="169.0" cy="95.3" r="0.95"/>
<circle cx="164.7" cy="99.8" r="0.95"/>
<circle cx="175.1" cy="90.6" r="0.95"/>
<circle cx="167.7" cy="96.3" r="0.95"/>
<circle cx="151.5" cy="115.9" r="0.95"/>
<circle cx="157.9" cy="107.9" r="0.95"/>
<circle cx="156.5" cy="108.4" r="0.95"/>
<circle cx="150.9" cy="115.0" r="0.95"/>
<circle cx="157.2" cy="108.6" r="0.95"/>
<circle cx="182.0" cy="83.2" r="0.95"/>
<circle cx="173.9" cy="89.7" r="0.95"/>
<circle cx="161.5" cy="103.5" r="0.95"/>
<circle cx="153.3" cy="113.6" r="0.95"/>
<circle cx="182.8" cy="81.3" r="0.95"/>
<circle cx="160.8" cy="104.6" r="0.95"/>
<circle cx="149.4" cy="118.3" r="0.95"/>
<circle cx="148.6" cy="117.7" r="0.95"/>
<circle cx="172.8" cy="91.4" r="0.95"/>
<circle cx="152.6" cy="113.5" r="0.95"/>
<circle cx="153.8" cy="111.7" r="0.95"/>
<circle cx="164.4" cy="100.5" r="0.95"/>
<circle cx="181.1" cy="84.0" r="0.95"/>
<circle cx="174.3" cy="88.6" r="0.95"/>
<circle cx="178.2" cy="86.6" r="0.95"/>
<circle cx="171.4" cy="92.1" r="0.95"/>
<circle cx="163.2" cy="100.9" r="0.95"/>
<circle cx="171.4" cy="92.3" r="0.95"/>
<circle cx="154.1" cy="112.4" r="0.95"/>
<circle cx="159.7" cy="104.1" r="0.95"/>
<circle cx="168.9" cy="95.8" r="0.95"/>
<circle cx="183.9" cy="82.7" r="0.95"/>
<circle cx="182.5" cy="82.1" r="0.95"/>
<circle cx="154.9" cy="111.0" r="0.95"/>
<circle cx="168.7" cy="93.6" r="0.95"/>
<circle cx="181.4" cy="82.5" r="0.95"/>
<circle cx="178.2" cy="85.8" r="0.95"/>
<circle cx="182.5" cy="82.8" r="0.95"/>
<circle cx="150.9" cy="117.2" r="0.95"/>
<circle cx="152.7" cy="114.5" r="0.95"/>
<circle cx="172.3" cy="93.2" r="0.95"/>
<circle cx="148.3" cy="119.1" r="0.95"/>
<circle cx="182.8" cy="82.4" r="0.95"/>
<circle cx="179.7" cy="84.5" r="0.95"/>
<circle cx="149.1" cy="119.0" r="0.95"/>
<circle cx="181.0" cy="84.0" r="0.95"/>
<circle cx="165.5" cy="97.8" r="0.95"/>
<circle cx="151.2" cy="116.2" r="0.95"/>
<circle cx="151.7" cy="114.9" r="0.95"/>
<circle cx="171.9" cy="93.3" r="0.95"/>
<circle cx="183.0" cy="81.3" r="0.95"/>
<circle cx="166.8" cy="98.1" r="0.95"/>
<circle cx="156.5" cy="109.0" r="0.95"/>
<circle cx="176.7" cy="88.9" r="0.95"/>
<circle cx="167.2" cy="96.0" r="0.95"/>
<circle cx="150.1" cy="117.1" r="0.95"/>
<circle cx="175.0" cy="89.9" r="0.95"/>
<circle cx="163.8" cy="100.1" r="0.95"/>
<circle cx="175.3" cy="89.8" r="0.95"/>
<circle cx="164.8" cy="98.5" r="0.95"/>
<circle cx="154.2" cy="111.9" r="0.95"/>
<circle cx="170.3" cy="94.0" r="0.95"/>
<circle cx="165.3" cy="99.0" r="0.95"/>
<circle cx="159.2" cy="105.9" r="0.95"/>
<circle cx="162.3" cy="102.2" r="0.95"/>
<circle cx="171.0" cy="94.5" r="0.95"/>
<circle cx="149.9" cy="117.1" r="0.95"/>
<circle cx="173.2" cy="91.6" r="0.95"/>
<circle cx="170.9" cy="93.0" r="0.95"/>
<circle cx="149.1" cy="119.9" r="0.95"/>
<circle cx="155.2" cy="111.6" r="0.95"/>
<circle cx="156.6" cy="108.1" r="0.95"/>
<circle cx="160.8" cy="102.8" r="0.95"/>
<circle cx="167.0" cy="97.6" r="0.95"/>
<circle cx="151.1" cy="115.1" r="0.95"/>
<circle cx="165.1" cy="99.5" r="0.95"/>
<circle cx="181.2" cy="83.9" r="0.95"/>
<circle cx="152.5" cy="114.0" r="0.95"/>
<circle cx="167.8" cy="96.3" r="0.95"/>
<circle cx="151.3" cy="114.3" r="0.95"/>
<circle cx="167.6" cy="96.0" r="0.95"/>
<circle cx="172.4" cy="91.9" r="0.95"/>
<circle cx="162.6" cy="101.5" r="0.95"/>
<circle cx="169.6" cy="94.0" r="0.95"/>
<circle cx="173.4" cy="91.6" r="0.95"/>
<circle cx="149.4" cy="118.1" r="0.95"/>
<circle cx="183.9" cy="81.1" r="0.95"/>
<circle cx="101.0" cy="156.6" r="0.95"/>
<circle cx="108.7" cy="156.8" r="0.95"/>
<circle cx="95.1" cy="159.6" r="0.95"/>
<circle cx="101.1" cy="158.2" r="0.95"/>
<circle cx="97.1" cy="158.9" r="0.95"/>
<circle cx="100.0" cy="158.2" r="0.95"/>
<circle cx="99.0" cy="157.7" r="0.95"/>
<circle cx="99.2" cy="157.8" r="0.95"/>
<circle cx="105.7" cy="158.8" r="0.95"/>
<circle cx="92.6" cy="159.2" r="0.95"/>
<circle cx="104.6" cy="158.7" r="0.95"/>
<circle cx="92.8" cy="160.1" r="0.95"/>
<circle cx="103.1" cy="157.1" r="0.95"/>
<circle cx="96.5" cy="161.2" r="0.95"/>
<circle cx="109.3" cy="157.2" r="0.95"/>
<circle cx="95.9" cy="160.7" r="0.95"/>
<circle cx="95.8" cy="158.6" r="0.95"/>
<circle cx="103.4" cy="159.7" r="0.95"/>
<circle cx="96.8" cy="159.0" r="0.95"/>
<circle cx="92.3" cy="161.0" r="0.95"/>
<circle cx="95.4" cy="158.3" r="0.95"/>
<circle cx="97.8" cy="159.5" r="0.95"/>
<circle cx="107.6" cy="158.1" r="0.95"/>
<circle cx="101.1" cy="158.2" r="0.95"/>
<circle cx="88.1" cy="161.8" r="0.95"/>
<circle cx="94.8" cy="159.0" r="0.95"/>
<circle cx="102.6" cy="158.3" r="0.95"/>
<circle cx="92.2" cy="161.3" r="0.95"/>
<circle cx="100.6" cy="159.7" r="0.95"/>
<circle cx="94.7" cy="158.7" r="0.95"/>
<circle cx="92.5" cy="160.2" r="0.95"/>
<circle cx="95.9" cy="159.9" r="0.95"/>
<circle cx="106.8" cy="158.1" r="0.95"/>
<circle cx="96.7" cy="160.9" r="0.95"/>
<circle cx="104.2" cy="157.4" r="0.95"/>
<circle cx="89.2" cy="160.0" r="0.95"/>
<circle cx="106.2" cy="156.7" r="0.95"/>
<circle cx="105.7" cy="158.5" r="0.95"/>
<circle cx="110.0" cy="156.7" r="0.95"/>
<circle cx="92.7" cy="160.6" r="0.95"/>
<circle cx="113.9" cy="155.7" r="0.95"/>
<circle cx="113.9" cy="156.5" r="0.95"/>
<circle cx="115.7" cy="153.6" r="0.95"/>
<circle cx="112.5" cy="157.7" r="0.95"/>
<circle cx="114.9" cy="155.8" r="0.95"/>
<circle cx="113.1" cy="157.5" r="0.95"/>
<circle cx="112.1" cy="157.8" r="0.95"/>
<circle cx="111.8" cy="156.2" r="0.95"/>
<circle cx="115.1" cy="156.1" r="0.95"/>
<circle cx="112.4" cy="159.6" r="0.95"/>
<circle cx="115.3" cy="156.6" r="0.95"/>
<circle cx="113.6" cy="156.2" r="0.95"/>
<circle cx="111.2" cy="156.5" r="0.95"/>
<circle cx="114.4" cy="157.6" r="0.95"/>
<circle cx="120.8" cy="151.9" r="0.95"/>
<circle cx="121.4" cy="153.7" r="0.95"/>
<circle cx="120.4" cy="152.2" r="0.95"/>
<circle cx="121.4" cy="153.3" r="0.95"/>
<circle cx="118.9" cy="153.2" r="0.95"/>
<circle cx="123.8" cy="150.8" r="0.95"/>
<circle cx="123.7" cy="152.8" r="0.95"/>
<circle cx="124.1" cy="153.5" r="0.95"/>
<circle cx="120.0" cy="154.5" r="0.95"/>
<circle cx="121.4" cy="152.0" r="0.95"/>
<circle cx="122.4" cy="153.9" r="0.95"/>
<circle cx="123.1" cy="152.8" r="0.95"/>
<circle cx="124.6" cy="150.8" r="0.95"/>
<circle cx="127.4" cy="152.6" r="0.95"/>
<circle cx="117.4" cy="155.2" r="0.95"/>
<circle cx="125.1" cy="152.0" r="0.95"/>
<circle cx="123.0" cy="154.7" r="0.95"/>
<circle cx="121.1" cy="153.2" r="0.95"/>
<circle cx="118.4" cy="153.1" r="0.95"/>
<circle cx="116.3" cy="154.5" r="0.95"/>
<circle cx="117.8" cy="155.0" r="0.95"/>
<circle cx="119.8" cy="156.3" r="0.95"/>
<circle cx="120.3" cy="149.9" r="0.95"/>
<circle cx="126.9" cy="152.4" r="0.95"/>
<circle cx="126.8" cy="152.1" r="0.95"/>
<circle cx="126.8" cy="152.6" r="0.95"/>
<circle cx="121.7" cy="153.8" r="0.95"/>
<circle cx="118.8" cy="153.3" r="0.95"/>
<circle cx="121.3" cy="155.0" r="0.95"/>
<circle cx="127.5" cy="150.5" r="0.95"/>
<circle cx="125.0" cy="151.5" r="0.95"/>
<circle cx="120.5" cy="153.3" r="0.95"/>
<circle cx="120.0" cy="151.1" r="0.95"/>
<circle cx="126.8" cy="150.2" r="0.95"/>
<circle cx="124.2" cy="151.6" r="0.95"/>
<circle cx="117.4" cy="153.6" r="0.95"/>
<circle cx="122.9" cy="152.8" r="0.95"/>
<circle cx="115.9" cy="154.9" r="0.95"/>
<circle cx="122.8" cy="150.8" r="0.95"/>
<circle cx="125.6" cy="151.4" r="0.95"/>
<circle cx="132.7" cy="150.0" r="0.95"/>
<circle cx="133.4" cy="148.1" r="0.95"/>
<circle cx="131.5" cy="149.7" r="0.95"/>
<circle cx="135.7" cy="148.3" r="0.95"/>
<circle cx="136.0" cy="150.0" r="0.95"/>
<circle cx="135.9" cy="150.3" r="0.95"/>
<circle cx="133.8" cy="150.0" r="0.95"/>
<circle cx="135.8" cy="148.8" r="0.95"/>
<circle cx="134.5" cy="148.0" r="0.95"/>
<circle cx="135.3" cy="148.2" r="0.95"/>
<circle cx="135.7" cy="149.6" r="0.95"/>
<circle cx="134.7" cy="150.2" r="0.95"/>
<circle cx="134.5" cy="151.5" r="0.95"/>
<circle cx="135.7" cy="148.2" r="0.95"/>
<circle cx="131.7" cy="149.3" r="0.95"/>
<circle cx="141.2" cy="146.3" r="0.95"/>
<circle cx="136.6" cy="147.7" r="0.95"/>
<circle cx="140.7" cy="147.1" r="0.95"/>
<circle cx="143.0" cy="145.8" r="0.95"/>
<circle cx="132.7" cy="150.6" r="0.95"/>
<circle cx="132.6" cy="150.5" r="0.95"/>
<circle cx="134.3" cy="149.4" r="0.95"/>
<circle cx="128.2" cy="151.9" r="0.95"/>
<circle cx="139.7" cy="147.0" r="0.95"/>
<circle cx="140.9" cy="146.8" r="0.95"/>
<circle cx="135.0" cy="148.9" r="0.95"/>
<circle cx="135.3" cy="148.3" r="0.95"/>
<circle cx="142.8" cy="145.3" r="0.95"/>
<circle cx="135.4" cy="149.4" r="0.95"/>
<circle cx="135.9" cy="147.3" r="0.95"/>
<circle cx="128.8" cy="150.7" r="0.95"/>
<circle cx="145.5" cy="147.4" r="0.95"/>
<circle cx="136.0" cy="147.2" r="0.95"/>
<circle cx="140.4" cy="146.1" r="0.95"/>
<circle cx="139.5" cy="145.9" r="0.95"/>
<circle cx="133.4" cy="148.9" r="0.95"/>
<circle cx="133.5" cy="150.2" r="0.95"/>
<circle cx="137.6" cy="147.8" r="0.95"/>
<circle cx="145.2" cy="146.2" r="0.95"/>
<circle cx="134.9" cy="149.1" r="0.95"/>
<circle cx="130.0" cy="150.6" r="0.95"/>
<circle cx="145.6" cy="145.8" r="0.95"/>
<circle cx="134.3" cy="151.1" r="0.95"/>
<circle cx="134.8" cy="148.9" r="0.95"/>
<circle cx="136.2" cy="148.4" r="0.95"/>
<circle cx="135.6" cy="148.7" r="0.95"/>
<circle cx="136.4" cy="149.2" r="0.95"/>
<circle cx="131.8" cy="149.3" r="0.95"/>
<circle cx="144.3" cy="146.9" r="0.95"/>
<circle cx="141.5" cy="148.3" r="0.95"/>
<circle cx="141.1" cy="146.8" r="0.95"/>
<circle cx="130.2" cy="150.6" r="0.95"/>
<circle cx="129.8" cy="151.5" r="0.95"/>
<circle cx="138.0" cy="148.7" r="0.95"/>
<circle cx="152.8" cy="146.3" r="0.95"/>
<circle cx="158.0" cy="150.4" r="0.95"/>
<circle cx="153.1" cy="151.5" r="0.95"/>
<circle cx="156.2" cy="142.8" r="0.95"/>
<circle cx="154.0" cy="146.8" r="0.95"/>
<circle cx="150.3" cy="150.0" r="0.95"/>
<circle cx="153.5" cy="142.2" r="0.95"/>
<circle cx="148.7" cy="145.4" r="0.95"/>
<circle cx="155.4" cy="147.2" r="0.95"/>
<circle cx="154.9" cy="145.3" r="0.95"/>
<circle cx="155.9" cy="145.3" r="0.95"/>
<circle cx="154.1" cy="145.3" r="0.95"/>
<circle cx="150.4" cy="147.0" r="0.95"/>
<circle cx="147.7" cy="146.2" r="0.95"/>
<circle cx="153.2" cy="142.7" r="0.95"/>
<circle cx="151.3" cy="145.5" r="0.95"/>
<circle cx="148.3" cy="141.0" r="0.95"/>
<circle cx="155.3" cy="144.8" r="0.95"/>
<circle cx="161.0" cy="152.6" r="0.95"/>
<circle cx="145.0" cy="148.0" r="0.95"/>
<circle cx="150.6" cy="147.5" r="0.95"/>
<circle cx="147.2" cy="148.8" r="0.95"/>
<circle cx="162.8" cy="142.9" r="0.95"/>
<circle cx="146.5" cy="144.9" r="0.95"/>
<circle cx="151.0" cy="147.1" r="0.95"/>
<circle cx="149.9" cy="145.8" r="0.95"/>
<circle cx="156.2" cy="147.1" r="0.95"/>
<circle cx="155.1" cy="145.7" r="0.95"/>
<circle cx="150.0" cy="145.3" r="0.95"/>
<circle cx="150.1" cy="142.0" r="0.95"/>
<circle cx="152.3" cy="145.7" r="0.95"/>
<circle cx="150.6" cy="148.6" r="0.95"/>
<circle cx="159.5" cy="143.7" r="0.95"/>
<circle cx="153.8" cy="143.0" r="0.95"/>
<circle cx="155.2" cy="145.8" r="0.95"/>
<circle cx="146.6" cy="143.0" r="0.95"/>
<circle cx="154.0" cy="144.2" r="0.95"/>
<circle cx="151.3" cy="152.9" r="0.95"/>
<circle cx="148.8" cy="147.5" r="0.95"/>
<circle cx="141.0" cy="140.8" r="0.95"/>
<circle cx="152.9" cy="146.3" r="0.95"/>
<circle cx="157.1" cy="144.6" r="0.95"/>
<circle cx="143.7" cy="148.9" r="0.95"/>
<circle cx="145.4" cy="145.5" r="0.95"/>
<circle cx="157.4" cy="143.6" r="0.95"/>
<circle cx="152.0" cy="142.6" r="0.95"/>
<circle cx="156.0" cy="149.0" r="0.95"/>
<circle cx="146.0" cy="145.2" r="0.95"/>
<circle cx="149.7" cy="148.0" r="0.95"/>
<circle cx="155.2" cy="146.6" r="0.95"/>
<circle cx="154.5" cy="147.3" r="0.95"/>
<circle cx="152.7" cy="145.6" r="0.95"/>
<circle cx="149.1" cy="147.4" r="0.95"/>
<circle cx="149.0" cy="147.4" r="0.95"/>
<circle cx="149.2" cy="145.7" r="0.95"/>
<circle cx="154.9" cy="149.0" r="0.95"/>
<circle cx="151.8" cy="145.7" r="0.95"/>
<circle cx="151.9" cy="147.8" r="0.95"/>
<circle cx="149.0" cy="153.1" r="0.95"/>
<circle cx="151.5" cy="146.3" r="0.95"/>
<circle cx="154.1" cy="147.3" r="0.95"/>
<circle cx="151.7" cy="145.1" r="0.95"/>
<circle cx="147.2" cy="143.9" r="0.95"/>
<circle cx="151.4" cy="144.3" r="0.95"/>
<circle cx="160.3" cy="140.1" r="0.95"/>
<circle cx="158.9" cy="147.1" r="0.95"/>
<circle cx="150.4" cy="146.3" r="0.95"/>
<circle cx="150.9" cy="144.8" r="0.95"/>
<circle cx="145.5" cy="144.8" r="0.95"/>
<circle cx="147.5" cy="146.6" r="0.95"/>
<circle cx="149.7" cy="143.9" r="0.95"/>
<circle cx="150.8" cy="144.5" r="0.95"/>
<circle cx="152.8" cy="145.1" r="0.95"/>
<circle cx="147.2" cy="146.7" r="0.95"/>
<circle cx="146.8" cy="140.9" r="0.95"/>
<circle cx="147.0" cy="147.4" r="0.95"/>
<circle cx="147.4" cy="143.0" r="0.95"/>
<circle cx="158.4" cy="145.1" r="0.95"/>
<circle cx="152.6" cy="143.8" r="0.95"/>
<circle cx="156.1" cy="149.7" r="0.95"/>
<circle cx="149.5" cy="142.6" r="0.95"/>
<circle cx="144.7" cy="146.5" r="0.95"/>
<circle cx="147.9" cy="141.4" r="0.95"/>
<circle cx="152.9" cy="145.4" r="0.95"/>
<circle cx="153.0" cy="142.3" r="0.95"/>
<circle cx="147.3" cy="146.0" r="0.95"/>
<circle cx="156.7" cy="147.1" r="0.95"/>
<circle cx="150.4" cy="148.1" r="0.95"/>
<circle cx="154.5" cy="142.5" r="0.95"/>
<circle cx="158.7" cy="149.0" r="0.95"/>
<circle cx="151.4" cy="147.1" r="0.95"/>
<circle cx="146.9" cy="149.5" r="0.95"/>
<circle cx="159.6" cy="146.5" r="0.95"/>
<circle cx="152.7" cy="145.5" r="0.95"/>
<circle cx="151.7" cy="143.1" r="0.95"/>
<circle cx="151.9" cy="148.8" r="0.95"/>
<circle cx="150.5" cy="148.9" r="0.95"/>
<circle cx="146.7" cy="144.2" r="0.95"/>
<circle cx="150.2" cy="144.9" r="0.95"/>
<circle cx="155.2" cy="142.8" r="0.95"/>
<circle cx="154.5" cy="143.5" r="0.95"/>
<circle cx="151.4" cy="138.6" r="0.95"/>
<circle cx="144.4" cy="146.7" r="0.95"/>
<circle cx="154.4" cy="147.2" r="0.95"/>
<circle cx="151.6" cy="148.8" r="0.95"/>
<circle cx="210.0" cy="112.3" r="0.95"/>
<circle cx="208.6" cy="111.3" r="0.95"/>
<circle cx="169.4" cy="133.5" r="0.95"/>
<circle cx="188.2" cy="120.7" r="0.95"/>
<circle cx="202.7" cy="116.3" r="0.95"/>
<circle cx="158.1" cy="138.3" r="0.95"/>
<circle cx="155.2" cy="142.6" r="0.95"/>
<circle cx="171.7" cy="134.9" r="0.95"/>
<circle cx="190.6" cy="120.4" r="0.95"/>
<circle cx="204.1" cy="113.8" r="0.95"/>
<circle cx="190.2" cy="120.2" r="0.95"/>
<circle cx="220.9" cy="106.4" r="0.95"/>
<circle cx="217.7" cy="105.3" r="0.95"/>
<circle cx="194.2" cy="116.9" r="0.95"/>
<circle cx="173.1" cy="130.4" r="0.95"/>
<circle cx="207.7" cy="116.6" r="0.95"/>
<circle cx="176.3" cy="127.1" r="0.95"/>
<circle cx="186.9" cy="120.9" r="0.95"/>
<circle cx="205.4" cy="112.8" r="0.95"/>
<circle cx="186.3" cy="121.9" r="0.95"/>
<circle cx="189.4" cy="120.1" r="0.95"/>
<circle cx="153.4" cy="144.1" r="0.95"/>
<circle cx="209.7" cy="112.2" r="0.95"/>
<circle cx="216.5" cy="109.1" r="0.95"/>
<circle cx="172.4" cy="131.6" r="0.95"/>
<circle cx="160.3" cy="140.6" r="0.95"/>
<circle cx="210.5" cy="115.7" r="0.95"/>
<circle cx="208.3" cy="114.1" r="0.95"/>
<circle cx="157.5" cy="138.6" r="0.95"/>
<circle cx="195.5" cy="121.1" r="0.95"/>
<circle cx="216.7" cy="110.8" r="0.95"/>
<circle cx="199.1" cy="118.7" r="0.95"/>
<circle cx="189.3" cy="123.5" r="0.95"/>
<circle cx="213.6" cy="109.9" r="0.95"/>
<circle cx="205.7" cy="114.0" r="0.95"/>
<circle cx="158.8" cy="139.9" r="0.95"/>
<circle cx="163.3" cy="138.8" r="0.95"/>
<circle cx="212.9" cy="110.6" r="0.95"/>
<circle cx="197.6" cy="117.6" r="0.95"/>
<circle cx="197.7" cy="119.3" r="0.95"/>
<circle cx="174.4" cy="130.1" r="0.95"/>
<circle cx="201.0" cy="117.1" r="0.95"/>
<circle cx="176.8" cy="126.9" r="0.95"/>
<circle cx="203.3" cy="116.2" r="0.95"/>
<circle cx="196.5" cy="121.9" r="0.95"/>
<circle cx="216.1" cy="109.1" r="0.95"/>
<circle cx="168.2" cy="132.8" r="0.95"/>
<circle cx="185.4" cy="122.7" r="0.95"/>
<circle cx="184.6" cy="126.1" r="0.95"/>
<circle cx="213.1" cy="109.0" r="0.95"/>
<circle cx="213.9" cy="106.5" r="0.95"/>
<circle cx="186.6" cy="122.0" r="0.95"/>
<circle cx="214.9" cy="109.5" r="0.95"/>
<circle cx="219.6" cy="108.1" r="0.95"/>
<circle cx="178.1" cy="124.2" r="0.95"/>
<circle cx="210.8" cy="112.6" r="0.95"/>
<circle cx="203.4" cy="114.8" r="0.95"/>
<circle cx="165.2" cy="137.7" r="0.95"/>
<circle cx="167.9" cy="137.5" r="0.95"/>
<circle cx="191.8" cy="123.5" r="0.95"/>
<circle cx="158.9" cy="139.6" r="0.95"/>
<circle cx="190.0" cy="116.6" r="0.95"/>
<circle cx="180.2" cy="127.4" r="0.95"/>
<circle cx="191.4" cy="119.0" r="0.95"/>
<circle cx="184.9" cy="125.0" r="0.95"/>
<circle cx="190.2" cy="121.6" r="0.95"/>
<circle cx="206.8" cy="115.8" r="0.95"/>
<circle cx="205.5" cy="113.0" r="0.95"/>
<circle cx="156.2" cy="141.8" r="0.95"/>
<circle cx="178.2" cy="129.6" r="0.95"/>
<circle cx="189.4" cy="122.0" r="0.95"/>
<circle cx="154.7" cy="142.8" r="0.95"/>
<circle cx="168.9" cy="130.9" r="0.95"/>
<circle cx="165.6" cy="137.6" r="0.95"/>
<circle cx="175.4" cy="129.5" r="0.95"/>
<circle cx="196.3" cy="117.3" r="0.95"/>
<circle cx="199.2" cy="121.7" r="0.95"/>
<circle cx="158.6" cy="140.3" r="0.95"/>
<circle cx="181.6" cy="124.8" r="0.95"/>
<circle cx="201.5" cy="116.2" r="0.95"/>
<circle cx="201.1" cy="115.6" r="0.95"/>
<circle cx="190.8" cy="122.2" r="0.95"/>
<circle cx="154.4" cy="147.3" r="0.95"/>
<circle cx="188.2" cy="119.9" r="0.95"/>
<circle cx="206.3" cy="115.5" r="0.95"/>
<circle cx="185.9" cy="126.1" r="0.95"/>
<circle cx="153.0" cy="146.8" r="0.95"/>
<circle cx="204.2" cy="114.2" r="0.95"/>
<circle cx="164.1" cy="134.0" r="0.95"/>
<circle cx="202.6" cy="116.7" r="0.95"/>
<circle cx="175.2" cy="129.3" r="0.95"/>
<circle cx="163.4" cy="137.4" r="0.95"/>
<circle cx="158.0" cy="140.5" r="0.95"/>
<circle cx="171.2" cy="135.2" r="0.95"/>
<circle cx="200.6" cy="119.7" r="0.95"/>
<circle cx="217.1" cy="107.1" r="0.95"/>
<circle cx="165.5" cy="137.6" r="0.95"/>
<circle cx="153.8" cy="145.1" r="0.95"/>
<circle cx="170.3" cy="133.3" r="0.95"/>
<circle cx="176.6" cy="128.8" r="0.95"/>
<circle cx="182.4" cy="127.4" r="0.95"/>
<circle cx="205.3" cy="115.1" r="0.95"/>
<circle cx="189.2" cy="120.2" r="0.95"/>
<circle cx="161.8" cy="141.1" r="0.95"/>
<circle cx="214.7" cy="111.7" r="0.95"/>
<circle cx="166.1" cy="132.0" r="0.95"/>
<circle cx="198.2" cy="120.0" r="0.95"/>
<circle cx="180.5" cy="126.9" r="0.95"/>
<circle cx="170.0" cy="132.6" r="0.95"/>
<circle cx="188.4" cy="123.9" r="0.95"/>
<circle cx="212.3" cy="112.4" r="0.95"/>
<circle cx="203.7" cy="111.7" r="0.95"/>
<circle cx="217.9" cy="108.4" r="0.95"/>
<circle cx="214.0" cy="110.4" r="0.95"/>
<circle cx="210.5" cy="111.3" r="0.95"/>
<circle cx="194.4" cy="123.5" r="0.95"/>
<circle cx="202.3" cy="118.4" r="0.95"/>
<circle cx="178.9" cy="126.7" r="0.95"/>
<circle cx="207.1" cy="113.6" r="0.95"/>
<circle cx="171.6" cy="131.1" r="0.95"/>
<circle cx="211.2" cy="111.2" r="0.95"/>
<circle cx="220.4" cy="109.6" r="0.95"/>
<circle cx="202.6" cy="117.5" r="0.95"/>
<circle cx="214.2" cy="106.7" r="0.95"/>
<circle cx="153.5" cy="142.7" r="0.95"/>
<circle cx="157.2" cy="146.1" r="0.95"/>
<circle cx="161.5" cy="137.6" r="0.95"/>
<circle cx="192.1" cy="121.8" r="0.95"/>
<circle cx="180.4" cy="126.5" r="0.95"/>
<circle cx="160.5" cy="143.1" r="0.95"/>
<circle cx="199.3" cy="116.9" r="0.95"/>
<circle cx="160.1" cy="136.8" r="0.95"/>
<circle cx="180.7" cy="128.5" r="0.95"/>
<circle cx="181.7" cy="123.9" r="0.95"/>
<circle cx="186.0" cy="121.8" r="0.95"/>
<circle cx="153.0" cy="143.9" r="0.95"/>
<circle cx="155.2" cy="144.4" r="0.95"/>
<circle cx="211.6" cy="109.8" r="0.95"/>
<circle cx="201.8" cy="115.4" r="0.95"/>
<circle cx="192.3" cy="120.2" r="0.95"/>
<circle cx="208.9" cy="116.3" r="0.95"/>
<circle cx="167.4" cy="137.5" r="0.95"/>
<circle cx="204.8" cy="112.6" r="0.95"/>
<circle cx="214.0" cy="107.0" r="0.95"/>
<circle cx="203.8" cy="114.5" r="0.95"/>
<circle cx="179.5" cy="124.4" r="0.95"/>
<circle cx="177.1" cy="126.8" r="0.95"/>
<circle cx="218.7" cy="106.3" r="0.95"/>
<circle cx="180.8" cy="123.6" r="0.95"/>
<circle cx="169.8" cy="137.4" r="0.95"/>
<circle cx="182.6" cy="124.2" r="0.95"/>
<circle cx="213.6" cy="110.2" r="0.95"/>
<circle cx="208.0" cy="116.6" r="0.95"/>
<circle cx="167.6" cy="135.6" r="0.95"/>
<circle cx="192.4" cy="119.8" r="0.95"/>
<circle cx="182.7" cy="125.1" r="0.95"/>
<circle cx="207.6" cy="113.2" r="0.95"/>
<circle cx="214.4" cy="111.6" r="0.95"/>
<circle cx="180.3" cy="127.8" r="0.95"/>
<circle cx="202.8" cy="116.9" r="0.95"/>
<circle cx="174.0" cy="131.9" r="0.95"/>
<circle cx="163.8" cy="137.5" r="0.95"/>
<circle cx="172.6" cy="129.1" r="0.95"/>
<circle cx="178.0" cy="125.0" r="0.95"/>
<circle cx="160.5" cy="140.0" r="0.95"/>
<circle cx="170.3" cy="129.1" r="0.95"/>
<circle cx="191.6" cy="121.0" r="0.95"/>
<circle cx="162.7" cy="138.3" r="0.95"/>
<circle cx="164.7" cy="136.3" r="0.95"/>
<circle cx="172.8" cy="128.1" r="0.95"/>
<circle cx="178.5" cy="127.4" r="0.95"/>
<circle cx="180.4" cy="127.2" r="0.95"/>
<circle cx="198.5" cy="117.6" r="0.95"/>
<circle cx="161.6" cy="140.1" r="0.95"/>
<circle cx="186.7" cy="121.1" r="0.95"/>
<circle cx="173.3" cy="129.5" r="0.95"/>
<circle cx="180.8" cy="125.8" r="0.95"/>
<circle cx="166.4" cy="136.4" r="0.95"/>
<circle cx="171.8" cy="133.1" r="0.95"/>
<circle cx="206.7" cy="115.3" r="0.95"/>
<circle cx="159.0" cy="138.9" r="0.95"/>
<circle cx="167.3" cy="131.1" r="0.95"/>
<circle cx="168.0" cy="133.7" r="0.95"/>
<circle cx="177.3" cy="132.9" r="0.95"/>
<circle cx="161.4" cy="142.5" r="0.95"/>
<circle cx="213.1" cy="109.9" r="0.95"/>
<circle cx="220.2" cy="107.9" r="0.95"/>
<circle cx="170.7" cy="132.4" r="0.95"/>
<circle cx="193.5" cy="119.9" r="0.95"/>
<circle cx="181.2" cy="126.8" r="0.95"/>
<circle cx="197.5" cy="120.2" r="0.95"/>
<circle cx="212.8" cy="111.3" r="0.95"/>
<circle cx="184.2" cy="125.7" r="0.95"/>
<circle cx="213.2" cy="109.3" r="0.95"/>
<circle cx="173.0" cy="130.7" r="0.95"/>
<circle cx="206.7" cy="115.8" r="0.95"/>
<circle cx="158.1" cy="138.3" r="0.95"/>
<circle cx="179.7" cy="127.7" r="0.95"/>
<circle cx="163.4" cy="138.6" r="0.95"/>
<circle cx="176.2" cy="125.3" r="0.95"/>
<circle cx="158.5" cy="143.2" r="0.95"/>
<circle cx="212.9" cy="112.6" r="0.95"/>
<circle cx="190.6" cy="120.6" r="0.95"/>
<circle cx="159.0" cy="141.5" r="0.95"/>
<circle cx="159.3" cy="141.2" r="0.95"/>
<circle cx="207.5" cy="115.5" r="0.95"/>
<circle cx="200.3" cy="119.5" r="0.95"/>
<circle cx="162.6" cy="139.2" r="0.95"/>
<circle cx="171.9" cy="129.4" r="0.95"/>
<circle cx="212.1" cy="108.7" r="0.95"/>
<circle cx="205.0" cy="117.0" r="0.95"/>
<circle cx="171.2" cy="134.5" r="0.95"/>
<circle cx="165.5" cy="137.0" r="0.95"/>
<circle cx="206.9" cy="112.0" r="0.95"/>
<circle cx="189.9" cy="121.5" r="0.95"/>
<circle cx="160.1" cy="141.7" r="0.95"/>
<circle cx="198.8" cy="115.3" r="0.95"/>
<circle cx="153.3" cy="144.9" r="0.95"/>
<circle cx="206.1" cy="116.8" r="0.95"/>
<circle cx="213.6" cy="109.1" r="0.95"/>
<circle cx="217.9" cy="106.4" r="0.95"/>
<circle cx="171.6" cy="131.3" r="0.95"/>
<circle cx="211.7" cy="108.9" r="0.95"/>
<circle cx="190.0" cy="122.0" r="0.95"/>
<circle cx="213.6" cy="109.2" r="0.95"/>
<circle cx="211.4" cy="112.4" r="0.95"/>
<circle cx="175.0" cy="125.7" r="0.95"/>
<circle cx="155.4" cy="143.3" r="0.95"/>
<circle cx="168.9" cy="133.0" r="0.95"/>
<circle cx="214.8" cy="109.6" r="0.95"/>
<circle cx="192.7" cy="121.1" r="0.95"/>
<circle cx="216.8" cy="106.5" r="0.95"/>
<circle cx="175.1" cy="129.8" r="0.95"/>
<circle cx="220.0" cy="107.4" r="0.95"/>
<circle cx="154.2" cy="145.0" r="0.95"/>
<circle cx="187.5" cy="121.5" r="0.95"/>
<circle cx="171.2" cy="130.5" r="0.95"/>
<circle cx="200.6" cy="115.1" r="0.95"/>
<circle cx="183.0" cy="124.8" r="0.95"/>
<circle cx="212.4" cy="113.2" r="0.95"/>
<circle cx="162.8" cy="136.4" r="0.95"/>
<circle cx="219.5" cy="105.6" r="0.95"/>
<circle cx="193.4" cy="121.7" r="0.95"/>
<circle cx="174.8" cy="130.6" r="0.95"/>
<circle cx="218.2" cy="106.9" r="0.95"/>
<circle cx="154.8" cy="140.8" r="0.95"/>
<circle cx="158.2" cy="140.9" r="0.95"/>
<circle cx="188.4" cy="123.9" r="0.95"/>
<circle cx="169.7" cy="133.7" r="0.95"/>
<circle cx="192.2" cy="124.3" r="0.95"/>
<circle cx="208.6" cy="112.6" r="0.95"/>
<circle cx="216.9" cy="107.0" r="0.95"/>
<circle cx="200.5" cy="116.3" r="0.95"/>
<circle cx="216.7" cy="110.0" r="0.95"/>
<circle cx="158.1" cy="142.3" r="0.95"/>
<circle cx="182.3" cy="126.1" r="0.95"/>
<circle cx="169.0" cy="132.0" r="0.95"/>
<circle cx="201.4" cy="114.6" r="0.95"/>
<circle cx="211.5" cy="113.2" r="0.95"/>
<circle cx="152.5" cy="142.6" r="0.95"/>
<circle cx="182.4" cy="128.3" r="0.95"/>
<circle cx="192.1" cy="120.7" r="0.95"/>
<circle cx="161.7" cy="141.0" r="0.95"/>
<circle cx="211.8" cy="112.3" r="0.95"/>
<circle cx="192.7" cy="120.4" r="0.95"/>
<circle cx="180.9" cy="126.1" r="0.95"/>
<circle cx="157.0" cy="141.6" r="0.95"/>
<circle cx="164.7" cy="131.6" r="0.95"/>
<circle cx="184.3" cy="125.5" r="0.95"/>
<circle cx="200.1" cy="116.0" r="0.95"/>
<circle cx="238.7" cy="107.2" r="0.95"/>
<circle cx="222.4" cy="110.9" r="0.95"/>
<circle cx="238.8" cy="107.0" r="0.95"/>
<circle cx="234.1" cy="108.5" r="0.95"/>
<circle cx="233.9" cy="109.2" r="0.95"/>
<circle cx="249.5" cy="100.6" r="0.95"/>
<circle cx="242.9" cy="106.4" r="0.95"/>
<circle cx="249.7" cy="99.4" r="0.95"/>
<circle cx="246.4" cy="103.7" r="0.95"/>
<circle cx="249.9" cy="101.4" r="0.95"/>
<circle cx="239.6" cy="106.7" r="0.95"/>
<circle cx="219.4" cy="111.6" r="0.95"/>
<circle cx="236.1" cy="108.2" r="0.95"/>
<circle cx="245.3" cy="101.5" r="0.95"/>
<circle cx="237.0" cy="109.2" r="0.95"/>
<circle cx="219.7" cy="111.7" r="0.95"/>
<circle cx="220.3" cy="111.0" r="0.95"/>
<circle cx="245.2" cy="104.7" r="0.95"/>
<circle cx="232.6" cy="110.7" r="0.95"/>
<circle cx="248.0" cy="103.2" r="0.95"/>
<circle cx="220.6" cy="110.6" r="0.95"/>
<circle cx="239.3" cy="106.8" r="0.95"/>
<circle cx="219.7" cy="111.1" r="0.95"/>
<circle cx="221.7" cy="112.9" r="0.95"/>
<circle cx="233.2" cy="110.1" r="0.95"/>
<circle cx="244.2" cy="104.3" r="0.95"/>
<circle cx="222.6" cy="110.7" r="0.95"/>
<circle cx="236.4" cy="108.7" r="0.95"/>
<circle cx="219.7" cy="111.9" r="0.95"/>
<circle cx="243.2" cy="105.3" r="0.95"/>
<circle cx="188.4" cy="129.3" r="0.95"/>
<circle cx="191.5" cy="126.2" r="0.95"/>
<circle cx="198.7" cy="123.7" r="0.95"/>
<circle cx="201.8" cy="122.6" r="0.95"/>
<circle cx="180.0" cy="134.5" r="0.95"/>
<circle cx="184.3" cy="131.4" r="0.95"/>
<circle cx="156.0" cy="154.0" r="0.95"/>
<circle cx="150.0" cy="155.5" r="0.95"/>
<circle cx="147.0" cy="153.0" r="0.95"/>
<circle cx="149.8" cy="132.3" r="0.95"/>
<circle cx="146.3" cy="133.2" r="0.95"/>
<circle cx="132.2" cy="139.1" r="0.95"/>
<circle cx="150.9" cy="130.5" r="0.95"/>
<circle cx="137.2" cy="135.9" r="0.95"/>
<circle cx="145.1" cy="134.5" r="0.95"/>
<circle cx="141.9" cy="133.8" r="0.95"/>
<circle cx="132.4" cy="137.8" r="0.95"/>
<circle cx="145.4" cy="133.5" r="0.95"/>
<circle cx="134.3" cy="136.2" r="0.95"/>
<circle cx="142.0" cy="134.4" r="0.95"/>
<circle cx="133.6" cy="137.7" r="0.95"/>
<circle cx="135.9" cy="136.1" r="0.95"/>
<circle cx="136.6" cy="135.6" r="0.95"/>
<circle cx="143.2" cy="133.5" r="0.95"/>
<circle cx="138.7" cy="137.6" r="0.95"/>
<circle cx="132.9" cy="137.1" r="0.95"/>
<circle cx="133.6" cy="138.0" r="0.95"/>
<circle cx="138.5" cy="135.7" r="0.95"/>
<circle cx="136.2" cy="136.1" r="0.95"/>
<circle cx="137.9" cy="136.3" r="0.95"/>
<circle cx="145.8" cy="133.6" r="0.95"/>
<circle cx="140.6" cy="137.1" r="0.95"/>
<circle cx="149.3" cy="133.1" r="0.95"/>
<circle cx="136.9" cy="135.6" r="0.95"/>
<circle cx="143.3" cy="133.8" r="0.95"/>
<circle cx="148.2" cy="132.6" r="0.95"/>
<circle cx="132.0" cy="137.2" r="0.95"/>
<circle cx="148.6" cy="132.8" r="0.95"/>
<circle cx="138.5" cy="135.8" r="0.95"/>
<circle cx="135.2" cy="136.1" r="0.95"/>
<circle cx="147.2" cy="133.3" r="0.95"/>
<circle cx="143.5" cy="135.0" r="0.95"/>
<circle cx="146.5" cy="133.8" r="0.95"/>
<circle cx="134.0" cy="137.5" r="0.95"/>
<circle cx="148.7" cy="132.6" r="0.95"/>
<circle cx="141.9" cy="135.7" r="0.95"/>
<circle cx="142.2" cy="134.4" r="0.95"/>
<circle cx="142.4" cy="133.9" r="0.95"/>
<circle cx="150.1" cy="131.3" r="0.95"/>
<circle cx="150.9" cy="131.4" r="0.95"/>
<circle cx="144.6" cy="133.0" r="0.95"/>
<circle cx="134.8" cy="136.2" r="0.95"/>
<circle cx="135.2" cy="136.5" r="0.95"/>
<circle cx="139.1" cy="134.2" r="0.95"/>
<circle cx="233.0" cy="80.0" r="0.95"/>
<circle cx="191.8" cy="105.2" r="0.95"/>
<circle cx="181.7" cy="113.3" r="0.95"/>
<circle cx="159.1" cy="125.4" r="0.95"/>
<circle cx="164.5" cy="120.9" r="0.95"/>
<circle cx="182.6" cy="110.3" r="0.95"/>
<circle cx="196.7" cy="101.6" r="0.95"/>
<circle cx="211.5" cy="91.8" r="0.95"/>
<circle cx="152.1" cy="131.9" r="0.95"/>
<circle cx="183.3" cy="111.0" r="0.95"/>
<circle cx="198.4" cy="101.3" r="0.95"/>
<circle cx="179.0" cy="113.2" r="0.95"/>
<circle cx="193.9" cy="101.7" r="0.95"/>
<circle cx="203.3" cy="97.0" r="0.95"/>
<circle cx="181.6" cy="111.6" r="0.95"/>
<circle cx="190.5" cy="105.0" r="0.95"/>
<circle cx="168.2" cy="119.9" r="0.95"/>
<circle cx="210.0" cy="93.9" r="0.95"/>
<circle cx="223.3" cy="81.7" r="0.95"/>
<circle cx="189.4" cy="105.2" r="0.95"/>
<circle cx="191.2" cy="104.6" r="0.95"/>
<circle cx="220.8" cy="83.8" r="0.95"/>
<circle cx="188.9" cy="106.1" r="0.95"/>
<circle cx="191.1" cy="102.1" r="0.95"/>
<circle cx="228.7" cy="80.0" r="0.95"/>
<circle cx="170.7" cy="118.5" r="0.95"/>
<circle cx="198.0" cy="99.0" r="0.95"/>
<circle cx="194.9" cy="103.5" r="0.95"/>
<circle cx="229.0" cy="83.7" r="0.95"/>
<circle cx="187.0" cy="106.8" r="0.95"/>
<circle cx="225.4" cy="84.0" r="0.95"/>
<circle cx="186.8" cy="105.7" r="0.95"/>
<circle cx="192.6" cy="102.8" r="0.95"/>
<circle cx="154.2" cy="133.6" r="0.95"/>
<circle cx="210.6" cy="89.1" r="0.95"/>
<circle cx="171.0" cy="121.3" r="0.95"/>
<circle cx="156.1" cy="124.8" r="0.95"/>
<circle cx="154.4" cy="130.8" r="0.95"/>
<circle cx="158.0" cy="124.7" r="0.95"/>
<circle cx="209.1" cy="96.2" r="0.95"/>
<circle cx="155.3" cy="129.1" r="0.95"/>
<circle cx="221.3" cy="84.2" r="0.95"/>
<circle cx="210.3" cy="87.1" r="0.95"/>
<circle cx="168.8" cy="119.8" r="0.95"/>
<circle cx="202.2" cy="99.0" r="0.95"/>
<circle cx="172.7" cy="118.3" r="0.95"/>
<circle cx="159.7" cy="125.4" r="0.95"/>
<circle cx="151.0" cy="130.9" r="0.95"/>
<circle cx="213.0" cy="88.9" r="0.95"/>
<circle cx="158.2" cy="128.4" r="0.95"/>
<circle cx="214.4" cy="87.1" r="0.95"/>
<circle cx="170.0" cy="118.3" r="0.95"/>
<circle cx="180.4" cy="111.3" r="0.95"/>
<circle cx="165.5" cy="121.3" r="0.95"/>
<circle cx="188.7" cy="104.6" r="0.95"/>
<circle cx="200.0" cy="98.9" r="0.95"/>
<circle cx="202.8" cy="97.5" r="0.95"/>
<circle cx="169.3" cy="119.1" r="0.95"/>
<circle cx="181.0" cy="113.3" r="0.95"/>
<circle cx="171.0" cy="117.1" r="0.95"/>
<circle cx="153.4" cy="131.0" r="0.95"/>
<circle cx="208.0" cy="96.3" r="0.95"/>
<circle cx="213.8" cy="87.8" r="0.95"/>
<circle cx="172.8" cy="118.4" r="0.95"/>
<circle cx="197.9" cy="101.7" r="0.95"/>
<circle cx="192.3" cy="102.5" r="0.95"/>
<circle cx="227.5" cy="80.9" r="0.95"/>
<circle cx="202.1" cy="98.8" r="0.95"/>
<circle cx="226.6" cy="82.0" r="0.95"/>
<circle cx="199.7" cy="99.4" r="0.95"/>
<circle cx="152.6" cy="128.0" r="0.95"/>
<circle cx="161.1" cy="124.1" r="0.95"/>
<circle cx="163.4" cy="122.0" r="0.95"/>
<circle cx="215.8" cy="86.0" r="0.95"/>
<circle cx="216.4" cy="86.8" r="0.95"/>
<circle cx="151.1" cy="130.6" r="0.95"/>
<circle cx="227.7" cy="79.0" r="0.95"/>
<circle cx="166.1" cy="122.5" r="0.95"/>
<circle cx="188.9" cy="106.4" r="0.95"/>
<circle cx="212.3" cy="88.2" r="0.95"/>
<circle cx="195.3" cy="103.0" r="0.95"/>
<circle cx="165.8" cy="122.7" r="0.95"/>
<circle cx="224.1" cy="81.7" r="0.95"/>
<circle cx="186.9" cy="104.4" r="0.95"/>
<circle cx="209.6" cy="92.8" r="0.95"/>
<circle cx="156.1" cy="128.4" r="0.95"/>
<circle cx="173.0" cy="117.7" r="0.95"/>
<circle cx="222.0" cy="84.8" r="0.95"/>
<circle cx="207.7" cy="93.1" r="0.95"/>
<circle cx="165.2" cy="120.3" r="0.95"/>
<circle cx="177.0" cy="115.7" r="0.95"/>
<circle cx="190.2" cy="104.1" r="0.95"/>
<circle cx="152.8" cy="130.9" r="0.95"/>
<circle cx="205.1" cy="97.3" r="0.95"/>
<circle cx="174.4" cy="116.8" r="0.95"/>
<circle cx="172.7" cy="116.1" r="0.95"/>
<circle cx="212.6" cy="90.3" r="0.95"/>
<circle cx="157.5" cy="127.2" r="0.95"/>
<circle cx="189.0" cy="102.3" r="0.95"/>
<circle cx="207.4" cy="95.3" r="0.95"/>
<circle cx="172.9" cy="117.7" r="0.95"/>
<circle cx="225.8" cy="84.8" r="0.95"/>
<circle cx="192.9" cy="104.0" r="0.95"/>
<circle cx="229.6" cy="80.3" r="0.95"/>
<circle cx="174.0" cy="117.5" r="0.95"/>
<circle cx="155.4" cy="125.9" r="0.95"/>
<circle cx="181.6" cy="108.9" r="0.95"/>
<circle cx="223.8" cy="82.8" r="0.95"/>
<circle cx="213.0" cy="88.1" r="0.95"/>
<circle cx="224.2" cy="83.4" r="0.95"/>
<circle cx="231.2" cy="79.9" r="0.95"/>
<circle cx="211.7" cy="92.2" r="0.95"/>
<circle cx="230.3" cy="80.5" r="0.95"/>
<circle cx="195.2" cy="100.5" r="0.95"/>
<circle cx="202.3" cy="97.6" r="0.95"/>
<circle cx="221.2" cy="85.3" r="0.95"/>
<circle cx="232.5" cy="78.3" r="0.95"/>
<circle cx="228.7" cy="80.9" r="0.95"/>
<circle cx="219.6" cy="83.2" r="0.95"/>
<circle cx="229.4" cy="80.7" r="0.95"/>
<circle cx="189.6" cy="104.6" r="0.95"/>
<circle cx="185.7" cy="107.0" r="0.95"/>
<circle cx="162.1" cy="124.0" r="0.95"/>
<circle cx="171.9" cy="117.4" r="0.95"/>
<circle cx="185.1" cy="105.6" r="0.95"/>
<circle cx="228.9" cy="80.2" r="0.95"/>
<circle cx="195.2" cy="100.7" r="0.95"/>
<circle cx="181.6" cy="112.3" r="0.95"/>
<circle cx="185.1" cy="106.4" r="0.95"/>
<circle cx="185.2" cy="109.3" r="0.95"/>
<circle cx="186.4" cy="104.0" r="0.95"/>
<circle cx="157.3" cy="125.8" r="0.95"/>
<circle cx="166.6" cy="121.7" r="0.95"/>
<circle cx="171.3" cy="121.0" r="0.95"/>
<circle cx="162.0" cy="122.9" r="0.95"/>
<circle cx="207.8" cy="97.5" r="0.95"/>
<circle cx="204.9" cy="96.0" r="0.95"/>
<circle cx="183.2" cy="112.6" r="0.95"/>
<circle cx="213.9" cy="89.4" r="0.95"/>
<circle cx="172.4" cy="119.1" r="0.95"/>
<circle cx="205.4" cy="93.5" r="0.95"/>
<circle cx="227.9" cy="80.1" r="0.95"/>
<circle cx="162.5" cy="125.9" r="0.95"/>
<circle cx="185.0" cy="105.8" r="0.95"/>
<circle cx="195.4" cy="101.5" r="0.95"/>
<circle cx="221.7" cy="83.3" r="0.95"/>
<circle cx="174.0" cy="117.0" r="0.95"/>
<circle cx="177.9" cy="113.6" r="0.95"/>
<circle cx="193.1" cy="102.9" r="0.95"/>
<circle cx="216.2" cy="88.4" r="0.95"/>
<circle cx="154.8" cy="130.9" r="0.95"/>
<circle cx="189.0" cy="104.8" r="0.95"/>
<circle cx="195.8" cy="100.4" r="0.95"/>
<circle cx="198.3" cy="100.8" r="0.95"/>
<circle cx="167.0" cy="122.8" r="0.95"/>
<circle cx="196.2" cy="102.2" r="0.95"/>
<circle cx="211.7" cy="92.3" r="0.95"/>
<circle cx="164.1" cy="122.2" r="0.95"/>
<circle cx="231.4" cy="78.2" r="0.95"/>
<circle cx="190.3" cy="104.3" r="0.95"/>
<circle cx="218.3" cy="85.0" r="0.95"/>
<circle cx="198.4" cy="100.6" r="0.95"/>
<circle cx="164.5" cy="121.3" r="0.95"/>
<circle cx="174.1" cy="113.4" r="0.95"/>
<circle cx="223.9" cy="83.8" r="0.95"/>
<circle cx="225.4" cy="82.0" r="0.95"/>
<circle cx="179.3" cy="114.8" r="0.95"/>
<circle cx="186.0" cy="104.5" r="0.95"/>
<circle cx="203.8" cy="94.9" r="0.95"/>
<circle cx="188.5" cy="105.6" r="0.95"/>
<circle cx="158.1" cy="127.2" r="0.95"/>
<circle cx="207.5" cy="96.9" r="0.95"/>
<circle cx="196.2" cy="102.0" r="0.95"/>
<circle cx="183.7" cy="108.1" r="0.95"/>
<circle cx="208.8" cy="95.7" r="0.95"/>
<circle cx="158.8" cy="125.8" r="0.95"/>
<circle cx="222.7" cy="84.2" r="0.95"/>
<circle cx="188.5" cy="102.6" r="0.95"/>
<circle cx="178.1" cy="112.2" r="0.95"/>
<circle cx="221.4" cy="84.8" r="0.95"/>
<circle cx="168.5" cy="117.7" r="0.95"/>
<circle cx="191.8" cy="105.1" r="0.95"/>
<circle cx="173.4" cy="113.9" r="0.95"/>
<circle cx="168.3" cy="121.1" r="0.95"/>
<circle cx="193.1" cy="103.4" r="0.95"/>
<circle cx="176.7" cy="115.3" r="0.95"/>
<circle cx="169.9" cy="118.3" r="0.95"/>
<circle cx="157.6" cy="126.1" r="0.95"/>
<circle cx="209.9" cy="89.6" r="0.95"/>
<circle cx="165.7" cy="120.5" r="0.95"/>
<circle cx="155.4" cy="126.7" r="0.95"/>
<circle cx="196.5" cy="100.9" r="0.95"/>
<circle cx="173.5" cy="115.8" r="0.95"/>
<circle cx="206.4" cy="97.0" r="0.95"/>
<circle cx="164.0" cy="122.1" r="0.95"/>
<circle cx="229.3" cy="80.3" r="0.95"/>
<circle cx="168.5" cy="122.5" r="0.95"/>
<circle cx="153.0" cy="132.9" r="0.95"/>
<circle cx="157.1" cy="125.7" r="0.95"/>
<circle cx="229.3" cy="78.3" r="0.95"/>
<circle cx="226.3" cy="82.9" r="0.95"/>
<circle cx="177.7" cy="114.8" r="0.95"/>
<circle cx="201.3" cy="97.4" r="0.95"/>
<circle cx="157.5" cy="125.4" r="0.95"/>
<circle cx="203.3" cy="97.7" r="0.95"/>
<circle cx="199.1" cy="100.9" r="0.95"/>
<circle cx="213.2" cy="91.3" r="0.95"/>
<circle cx="177.9" cy="114.0" r="0.95"/>
<circle cx="212.8" cy="91.6" r="0.95"/>
<circle cx="173.3" cy="119.2" r="0.95"/>
<circle cx="223.6" cy="81.7" r="0.95"/>
<circle cx="196.0" cy="100.3" r="0.95"/>
<circle cx="203.4" cy="98.5" r="0.95"/>
<circle cx="175.4" cy="116.1" r="0.95"/>
<circle cx="156.6" cy="127.9" r="0.95"/>
<circle cx="221.7" cy="86.1" r="0.95"/>
<circle cx="219.2" cy="85.6" r="0.95"/>
<circle cx="224.3" cy="81.0" r="0.95"/>
<circle cx="228.3" cy="78.4" r="0.95"/>
<circle cx="190.4" cy="102.8" r="0.95"/>
<circle cx="172.8" cy="118.6" r="0.95"/>
<circle cx="190.9" cy="101.5" r="0.95"/>
<circle cx="150.1" cy="129.5" r="0.95"/>
<circle cx="157.6" cy="128.5" r="0.95"/>
<circle cx="153.6" cy="130.4" r="0.95"/>
<circle cx="226.5" cy="81.0" r="0.95"/>
<circle cx="227.7" cy="78.9" r="0.95"/>
<circle cx="173.3" cy="117.8" r="0.95"/>
<circle cx="172.3" cy="119.8" r="0.95"/>
<circle cx="178.2" cy="116.4" r="0.95"/>
<circle cx="218.2" cy="86.1" r="0.95"/>
<circle cx="160.5" cy="123.9" r="0.95"/>
<circle cx="197.0" cy="101.2" r="0.95"/>
<circle cx="154.4" cy="129.1" r="0.95"/>
<circle cx="224.3" cy="84.6" r="0.95"/>
<circle cx="194.7" cy="100.8" r="0.95"/>
<circle cx="183.1" cy="111.1" r="0.95"/>
<circle cx="184.2" cy="107.9" r="0.95"/>
<circle cx="222.5" cy="83.8" r="0.95"/>
<circle cx="191.7" cy="103.1" r="0.95"/>
<circle cx="199.6" cy="99.6" r="0.95"/>
<circle cx="189.0" cy="104.7" r="0.95"/>
<circle cx="182.1" cy="108.3" r="0.95"/>
<circle cx="173.8" cy="115.7" r="0.95"/>
<circle cx="160.3" cy="126.6" r="0.95"/>
<circle cx="225.5" cy="82.9" r="0.95"/>
<circle cx="232.2" cy="78.0" r="0.95"/>
<circle cx="153.2" cy="132.3" r="0.95"/>
<circle cx="207.4" cy="95.6" r="0.95"/>
<circle cx="161.3" cy="125.3" r="0.95"/>
<circle cx="223.5" cy="85.8" r="0.95"/>
<circle cx="175.3" cy="114.5" r="0.95"/>
<circle cx="155.1" cy="129.9" r="0.95"/>
<circle cx="154.3" cy="128.4" r="0.95"/>
<circle cx="162.0" cy="122.7" r="0.95"/>
<circle cx="169.3" cy="120.9" r="0.95"/>
<circle cx="207.4" cy="94.9" r="0.95"/>
<circle cx="191.6" cy="101.6" r="0.95"/>
<circle cx="211.6" cy="89.5" r="0.95"/>
<circle cx="151.0" cy="131.5" r="0.95"/>
<circle cx="210.3" cy="92.8" r="0.95"/>
<circle cx="186.9" cy="104.8" r="0.95"/>
<circle cx="221.8" cy="81.9" r="0.95"/>
<circle cx="172.1" cy="117.5" r="0.95"/>
<circle cx="190.7" cy="103.0" r="0.95"/>
<circle cx="207.7" cy="93.3" r="0.95"/>
<circle cx="203.0" cy="99.3" r="0.95"/>
<circle cx="177.3" cy="113.9" r="0.95"/>
<circle cx="183.9" cy="107.6" r="0.95"/>
<circle cx="224.6" cy="80.0" r="0.95"/>
<circle cx="182.0" cy="112.1" r="0.95"/>
<circle cx="189.6" cy="105.6" r="0.95"/>
<circle cx="184.4" cy="108.5" r="0.95"/>
<circle cx="219.0" cy="85.3" r="0.95"/>
<circle cx="175.7" cy="116.3" r="0.95"/>
<circle cx="205.7" cy="99.2" r="0.95"/>
<circle cx="173.4" cy="114.3" r="0.95"/>
<circle cx="158.1" cy="127.9" r="0.95"/>
<circle cx="216.4" cy="86.8" r="0.95"/>
<circle cx="195.9" cy="101.6" r="0.95"/>
<circle cx="165.8" cy="123.3" r="0.95"/>
<circle cx="165.6" cy="125.4" r="0.95"/>
<circle cx="217.0" cy="88.1" r="0.95"/>
<circle cx="179.0" cy="113.5" r="0.95"/>
<circle cx="208.6" cy="91.2" r="0.95"/>
<circle cx="169.0" cy="120.5" r="0.95"/>
<circle cx="163.4" cy="122.7" r="0.95"/>
<circle cx="213.0" cy="89.4" r="0.95"/>
<circle cx="168.0" cy="122.1" r="0.95"/>
<circle cx="219.0" cy="85.3" r="0.95"/>
<circle cx="191.6" cy="101.2" r="0.95"/>
<circle cx="212.4" cy="88.6" r="0.95"/>
<circle cx="194.9" cy="100.5" r="0.95"/>
<circle cx="177.2" cy="115.1" r="0.95"/>
<circle cx="187.4" cy="105.6" r="0.95"/>
<circle cx="213.9" cy="88.5" r="0.95"/>
<circle cx="228.6" cy="78.6" r="0.95"/>
<circle cx="197.1" cy="101.1" r="0.95"/>
<circle cx="205.4" cy="96.6" r="0.95"/>
<circle cx="231.9" cy="77.2" r="0.95"/>
<circle cx="167.4" cy="122.4" r="0.95"/>
<circle cx="170.8" cy="116.5" r="0.95"/>
<circle cx="203.8" cy="97.9" r="0.95"/>
<circle cx="202.1" cy="98.0" r="0.95"/>
<circle cx="183.1" cy="107.5" r="0.95"/>
<circle cx="216.0" cy="88.4" r="0.95"/>
<circle cx="227.6" cy="80.7" r="0.95"/>
<circle cx="184.8" cy="107.7" r="0.95"/>
<circle cx="196.6" cy="102.0" r="0.95"/>
<circle cx="184.5" cy="107.9" r="0.95"/>
<circle cx="216.7" cy="87.3" r="0.95"/>
<circle cx="153.6" cy="130.0" r="0.95"/>
<circle cx="184.6" cy="109.0" r="0.95"/>
<circle cx="156.9" cy="131.3" r="0.95"/>
<circle cx="196.4" cy="103.1" r="0.95"/>
<circle cx="181.8" cy="113.2" r="0.95"/>
<circle cx="200.6" cy="98.7" r="0.95"/>
<circle cx="196.9" cy="100.6" r="0.95"/>
<circle cx="231.3" cy="77.5" r="0.95"/>
<circle cx="209.2" cy="90.4" r="0.95"/>
<circle cx="167.2" cy="120.6" r="0.95"/>
<circle cx="180.8" cy="113.4" r="0.95"/>
<circle cx="223.7" cy="86.4" r="0.95"/>
<circle cx="219.1" cy="85.0" r="0.95"/>
<circle cx="221.4" cy="86.3" r="0.95"/>
<circle cx="162.4" cy="122.0" r="0.95"/>
<circle cx="200.3" cy="98.1" r="0.95"/>
<circle cx="171.6" cy="116.4" r="0.95"/>
<circle cx="205.7" cy="95.1" r="0.95"/>
<circle cx="156.8" cy="127.4" r="0.95"/>
<circle cx="224.0" cy="81.1" r="0.95"/>
<circle cx="223.6" cy="81.9" r="0.95"/>
<circle cx="170.6" cy="117.7" r="0.95"/>
<circle cx="203.0" cy="97.6" r="0.95"/>
<circle cx="196.5" cy="104.4" r="0.95"/>
<circle cx="230.0" cy="81.9" r="0.95"/>
<circle cx="167.0" cy="121.1" r="0.95"/>
<circle cx="200.9" cy="95.6" r="0.95"/>
<circle cx="161.3" cy="124.1" r="0.95"/>
<circle cx="184.5" cy="112.9" r="0.95"/>
<circle cx="155.1" cy="127.6" r="0.95"/>
<circle cx="227.8" cy="83.1" r="0.95"/>
<circle cx="197.9" cy="99.1" r="0.95"/>
<circle cx="192.8" cy="103.3" r="0.95"/>
<circle cx="179.6" cy="114.9" r="0.95"/>
<circle cx="190.5" cy="102.4" r="0.95"/>
<circle cx="170.2" cy="120.0" r="0.95"/>
<circle cx="227.2" cy="82.3" r="0.95"/>
<circle cx="159.0" cy="125.8" r="0.95"/>
<circle cx="155.8" cy="131.0" r="0.95"/>
<circle cx="233.0" cy="78.4" r="0.95"/>
<circle cx="226.5" cy="80.7" r="0.95"/>
<circle cx="176.9" cy="115.3" r="0.95"/>
<circle cx="229.5" cy="77.2" r="0.95"/>
<circle cx="189.8" cy="104.5" r="0.95"/>
<circle cx="198.7" cy="102.1" r="0.95"/>
<circle cx="157.0" cy="128.3" r="0.95"/>
<circle cx="231.3" cy="79.5" r="0.95"/>
<circle cx="165.8" cy="119.7" r="0.95"/>
<circle cx="193.5" cy="102.4" r="0.95"/>
<circle cx="229.3" cy="81.7" r="0.95"/>
<circle cx="186.6" cy="107.5" r="0.95"/>
<circle cx="228.5" cy="79.2" r="0.95"/>
<circle cx="179.5" cy="114.0" r="0.95"/>
<circle cx="157.2" cy="129.2" r="0.95"/>
<circle cx="199.6" cy="96.4" r="0.95"/>
<circle cx="170.3" cy="120.9" r="0.95"/>
<circle cx="196.3" cy="101.2" r="0.95"/>
<circle cx="221.4" cy="82.8" r="0.95"/>
<circle cx="186.1" cy="105.0" r="0.95"/>
<circle cx="214.3" cy="89.2" r="0.95"/>
<circle cx="151.1" cy="130.5" r="0.95"/>
<circle cx="179.4" cy="115.7" r="0.95"/>
<circle cx="220.5" cy="87.4" r="0.95"/>
<circle cx="185.6" cy="106.3" r="0.95"/>
<circle cx="175.7" cy="116.0" r="0.95"/>
<circle cx="209.1" cy="92.7" r="0.95"/>
<circle cx="161.6" cy="124.1" r="0.95"/>
<circle cx="193.5" cy="102.8" r="0.95"/>
<circle cx="229.7" cy="79.6" r="0.95"/>
<circle cx="204.4" cy="95.8" r="0.95"/>
<circle cx="226.9" cy="79.2" r="0.95"/>
<circle cx="160.3" cy="125.7" r="0.95"/>
<circle cx="229.5" cy="78.4" r="0.95"/>
<circle cx="193.2" cy="102.3" r="0.95"/>
<circle cx="209.2" cy="92.9" r="0.95"/>
<circle cx="210.3" cy="90.9" r="0.95"/>
<circle cx="192.6" cy="101.9" r="0.95"/>
<circle cx="173.5" cy="116.9" r="0.95"/>
<circle cx="230.3" cy="78.4" r="0.95"/>
<circle cx="185.0" cy="109.0" r="0.95"/>
<circle cx="230.8" cy="78.4" r="0.95"/>
<circle cx="153.6" cy="130.0" r="0.95"/>
<circle cx="189.5" cy="104.2" r="0.95"/>
<circle cx="206.1" cy="93.5" r="0.95"/>
<circle cx="204.5" cy="96.6" r="0.95"/>
<circle cx="227.2" cy="80.0" r="0.95"/>
<circle cx="152.8" cy="132.6" r="0.95"/>
<circle cx="186.7" cy="104.8" r="0.95"/>
<circle cx="203.3" cy="99.7" r="0.95"/>
<circle cx="227.2" cy="81.0" r="0.95"/>
<circle cx="228.3" cy="80.0" r="0.95"/>
<circle cx="170.0" cy="119.9" r="0.95"/>
<circle cx="223.9" cy="85.1" r="0.95"/>
<circle cx="159.9" cy="124.7" r="0.95"/>
<circle cx="211.3" cy="92.4" r="0.95"/>
<circle cx="184.1" cy="107.1" r="0.95"/>
<circle cx="222.5" cy="82.3" r="0.95"/>
<circle cx="223.9" cy="82.6" r="0.95"/>
<circle cx="153.3" cy="130.5" r="0.95"/>
<circle cx="178.8" cy="116.7" r="0.95"/>
<circle cx="181.0" cy="112.4" r="0.95"/>
<circle cx="230.0" cy="79.2" r="0.95"/>
<circle cx="186.0" cy="106.7" r="0.95"/>
<circle cx="230.2" cy="76.6" r="0.95"/>
<circle cx="216.4" cy="87.8" r="0.95"/>
<circle cx="209.0" cy="95.0" r="0.95"/>
<circle cx="182.5" cy="110.1" r="0.95"/>
<circle cx="183.4" cy="114.9" r="0.95"/>
<circle cx="153.7" cy="133.1" r="0.95"/>
<circle cx="205.7" cy="95.9" r="0.95"/>
<circle cx="213.2" cy="90.8" r="0.95"/>
<circle cx="215.3" cy="85.6" r="0.95"/>
<circle cx="210.8" cy="92.2" r="0.95"/>
<circle cx="181.2" cy="111.4" r="0.95"/>
<circle cx="212.6" cy="87.8" r="0.95"/>
<circle cx="185.2" cy="106.0" r="0.95"/>
<circle cx="155.7" cy="127.0" r="0.95"/>
<circle cx="232.0" cy="77.6" r="0.95"/>
<circle cx="160.1" cy="123.4" r="0.95"/>
<circle cx="186.0" cy="114.0" r="0.95"/>
<circle cx="181.5" cy="115.1" r="0.95"/>
<circle cx="184.5" cy="116.1" r="0.95"/>
<circle cx="180.7" cy="116.4" r="0.95"/>
<circle cx="186.3" cy="113.4" r="0.95"/>
<circle cx="181.9" cy="115.2" r="0.95"/>
<circle cx="179.7" cy="117.3" r="0.95"/>
<circle cx="187.5" cy="113.3" r="0.95"/>
<circle cx="189.8" cy="112.3" r="0.95"/>
<circle cx="180.7" cy="115.0" r="0.95"/>
<circle cx="181.0" cy="116.0" r="0.95"/>
<circle cx="183.1" cy="114.4" r="0.95"/>
<circle cx="186.3" cy="114.2" r="0.95"/>
<circle cx="178.9" cy="116.1" r="0.95"/>
<circle cx="181.3" cy="115.2" r="0.95"/>
<circle cx="183.6" cy="114.9" r="0.95"/>
<circle cx="180.1" cy="115.6" r="0.95"/>
<circle cx="186.3" cy="114.9" r="0.95"/>
<circle cx="236.4" cy="98.5" r="0.95"/>
<circle cx="240.2" cy="100.5" r="0.95"/>
<circle cx="225.0" cy="97.6" r="0.95"/>
<circle cx="195.6" cy="107.0" r="0.95"/>
<circle cx="222.8" cy="99.3" r="0.95"/>
<circle cx="207.0" cy="101.7" r="0.95"/>
<circle cx="207.0" cy="100.4" r="0.95"/>
<circle cx="212.9" cy="100.2" r="0.95"/>
<circle cx="227.8" cy="97.6" r="0.95"/>
<circle cx="201.8" cy="104.5" r="0.95"/>
<circle cx="198.8" cy="107.4" r="0.95"/>
<circle cx="198.6" cy="107.3" r="0.95"/>
<circle cx="237.0" cy="100.9" r="0.95"/>
<circle cx="219.6" cy="98.1" r="0.95"/>
<circle cx="214.0" cy="99.5" r="0.95"/>
<circle cx="241.0" cy="103.5" r="0.95"/>
<circle cx="214.5" cy="99.6" r="0.95"/>
<circle cx="218.0" cy="98.9" r="0.95"/>
<circle cx="232.9" cy="99.4" r="0.95"/>
<circle cx="228.4" cy="98.8" r="0.95"/>
<circle cx="209.7" cy="100.7" r="0.95"/>
<circle cx="213.4" cy="98.8" r="0.95"/>
<circle cx="217.1" cy="99.2" r="0.95"/>
<circle cx="236.2" cy="100.1" r="0.95"/>
<circle cx="197.6" cy="106.6" r="0.95"/>
<circle cx="231.6" cy="97.4" r="0.95"/>
<circle cx="240.5" cy="90.0" r="0.95"/>
<circle cx="231.9" cy="92.2" r="0.95"/>
<circle cx="245.7" cy="85.8" r="0.95"/>
<circle cx="245.2" cy="85.4" r="0.95"/>
<circle cx="249.1" cy="83.9" r="0.95"/>
<circle cx="246.8" cy="84.4" r="0.95"/>
<circle cx="227.8" cy="93.0" r="0.95"/>
<circle cx="246.7" cy="85.2" r="0.95"/>
<circle cx="247.9" cy="83.8" r="0.95"/>
<circle cx="250.1" cy="83.3" r="0.95"/>
<circle cx="224.4" cy="93.7" r="0.95"/>
<circle cx="224.7" cy="93.8" r="0.95"/>
<circle cx="235.7" cy="91.9" r="0.95"/>
<circle cx="220.7" cy="94.4" r="0.95"/>
<circle cx="224.6" cy="93.5" r="0.95"/>
<circle cx="230.7" cy="92.4" r="0.95"/>
<circle cx="221.2" cy="92.9" r="0.95"/>
<circle cx="223.8" cy="93.4" r="0.95"/>
<circle cx="249.7" cy="83.8" r="0.95"/>
<circle cx="232.4" cy="92.4" r="0.95"/>
<circle cx="226.5" cy="94.4" r="0.95"/>
<circle cx="252.3" cy="82.5" r="0.95"/>
<circle cx="222.5" cy="93.9" r="0.95"/>
<circle cx="252.0" cy="82.4" r="0.95"/>
<circle cx="250.3" cy="84.5" r="0.95"/>
<circle cx="246.8" cy="85.0" r="0.95"/>
<circle cx="246.2" cy="93.6" r="0.95"/>
<circle cx="252.4" cy="93.6" r="0.95"/>
<circle cx="237.0" cy="92.0" r="0.95"/>
<circle cx="241.2" cy="92.0" r="0.95"/>
<circle cx="246.3" cy="95.7" r="0.95"/>
<circle cx="252.5" cy="93.7" r="0.95"/>
<circle cx="237.0" cy="99.8" r="0.95"/>
<circle cx="241.2" cy="104.0" r="0.95"/>
<circle cx="245.3" cy="105.5" r="0.95"/>
<circle cx="255.0" cy="103.0" r="0.95"/>
<circle cx="264.9" cy="104.5" r="0.95"/>
<circle cx="265.9" cy="97.8" r="0.95"/>
<circle cx="270.5" cy="98.8" r="0.95"/>
<circle cx="236.0" cy="106.0" r="0.95"/>
<circle cx="231.7" cy="99.9" r="0.95"/>
<circle cx="236.7" cy="96.2" r="0.95"/>
<circle cx="234.9" cy="96.5" r="0.95"/>
<circle cx="231.1" cy="99.3" r="0.95"/>
<circle cx="227.3" cy="102.2" r="0.95"/>
<circle cx="226.7" cy="100.9" r="0.95"/>
<circle cx="240.9" cy="92.0" r="0.95"/>
<circle cx="233.4" cy="95.7" r="0.95"/>
<circle cx="233.1" cy="98.0" r="0.95"/>
<circle cx="216.6" cy="106.4" r="0.95"/>
<circle cx="223.5" cy="103.2" r="0.95"/>
<circle cx="242.2" cy="91.8" r="0.95"/>
<circle cx="234.8" cy="94.6" r="0.95"/>
<circle cx="230.4" cy="98.2" r="0.95"/>
<circle cx="234.5" cy="97.6" r="0.95"/>
<circle cx="239.5" cy="93.8" r="0.95"/>
<circle cx="226.3" cy="99.0" r="0.95"/>
<circle cx="216.0" cy="106.2" r="0.95"/>
<circle cx="217.1" cy="105.8" r="0.95"/>
<circle cx="219.0" cy="103.7" r="0.95"/>
<circle cx="234.7" cy="97.7" r="0.95"/>
<circle cx="242.3" cy="91.4" r="0.95"/>
<circle cx="225.0" cy="101.8" r="0.95"/>
<circle cx="218.3" cy="106.4" r="0.95"/>
<circle cx="237.0" cy="96.2" r="0.95"/>
<circle cx="234.1" cy="98.1" r="0.95"/>
<circle cx="245.2" cy="99.1" r="0.95"/>
<circle cx="236.4" cy="96.6" r="0.95"/>
<circle cx="252.1" cy="99.1" r="0.95"/>
<circle cx="237.8" cy="94.0" r="0.95"/>
<circle cx="253.1" cy="89.0" r="0.95"/>
<circle cx="243.5" cy="97.2" r="0.95"/>
<circle cx="242.3" cy="88.0" r="0.95"/>
<circle cx="234.6" cy="103.2" r="0.95"/>
<circle cx="242.9" cy="93.3" r="0.95"/>
<circle cx="242.8" cy="88.9" r="0.95"/>
<circle cx="234.0" cy="102.9" r="0.95"/>
<circle cx="250.2" cy="91.5" r="0.95"/>
<circle cx="239.6" cy="89.4" r="0.95"/>
<circle cx="239.6" cy="97.4" r="0.95"/>
<circle cx="250.1" cy="97.1" r="0.95"/>
<circle cx="252.3" cy="106.0" r="0.95"/>
<circle cx="257.1" cy="97.3" r="0.95"/>
<circle cx="263.7" cy="94.4" r="0.95"/>
<circle cx="265.7" cy="93.2" r="0.95"/>
<circle cx="251.8" cy="98.9" r="0.95"/>
<circle cx="261.1" cy="94.7" r="0.95"/>
<circle cx="248.8" cy="100.8" r="0.95"/>
<circle cx="266.2" cy="95.2" r="0.95"/>
<circle cx="262.9" cy="95.6" r="0.95"/>
<circle cx="251.4" cy="98.9" r="0.95"/>
<circle cx="260.9" cy="95.5" r="0.95"/>
<circle cx="260.7" cy="96.1" r="0.95"/>
<circle cx="250.4" cy="97.8" r="0.95"/>
<circle cx="264.1" cy="92.8" r="0.95"/>
<circle cx="252.2" cy="97.6" r="0.95"/>
<circle cx="261.6" cy="93.8" r="0.95"/>
<circle cx="248.7" cy="101.5" r="0.95"/>
<circle cx="245.7" cy="99.6" r="0.95"/>
<circle cx="256.8" cy="97.9" r="0.95"/>
<circle cx="252.2" cy="99.4" r="0.95"/>
<circle cx="257.0" cy="96.6" r="0.95"/>
<circle cx="262.9" cy="96.3" r="0.95"/>
<circle cx="265.6" cy="93.9" r="0.95"/>
<circle cx="251.3" cy="97.7" r="0.95"/>
<circle cx="259.0" cy="97.1" r="0.95"/>
<circle cx="252.9" cy="97.0" r="0.95"/>
<circle cx="263.5" cy="95.4" r="0.95"/>
<circle cx="265.2" cy="95.0" r="0.95"/>
<circle cx="245.4" cy="101.8" r="0.95"/>
<circle cx="246.7" cy="102.0" r="0.95"/>
<circle cx="250.0" cy="98.6" r="0.95"/>
<circle cx="259.9" cy="95.5" r="0.95"/>
<circle cx="254.1" cy="97.8" r="0.95"/>
<circle cx="246.5" cy="100.4" r="0.95"/>
<circle cx="256.9" cy="97.9" r="0.95"/>
<circle cx="264.0" cy="96.9" r="0.95"/>
<circle cx="256.4" cy="97.9" r="0.95"/>
<circle cx="263.5" cy="94.9" r="0.95"/>
<circle cx="258.2" cy="98.1" r="0.95"/>
<circle cx="251.5" cy="98.6" r="0.95"/>
<circle cx="252.0" cy="98.0" r="0.95"/>
<circle cx="254.7" cy="97.7" r="0.95"/>
<circle cx="259.2" cy="95.6" r="0.95"/>
<circle cx="250.3" cy="99.3" r="0.95"/>
<circle cx="246.5" cy="100.3" r="0.95"/>
<circle cx="259.7" cy="95.1" r="0.95"/>
<circle cx="281.5" cy="74.6" r="0.95"/>
<circle cx="280.2" cy="68.0" r="0.95"/>
<circle cx="274.8" cy="79.7" r="0.95"/>
<circle cx="259.9" cy="87.5" r="0.95"/>
<circle cx="266.9" cy="87.2" r="0.95"/>
<circle cx="280.8" cy="81.6" r="0.95"/>
<circle cx="265.8" cy="86.7" r="0.95"/>
<circle cx="288.7" cy="72.1" r="0.95"/>
<circle cx="266.9" cy="83.1" r="0.95"/>
<circle cx="282.3" cy="72.6" r="0.95"/>
<circle cx="272.3" cy="84.8" r="0.95"/>
<circle cx="255.5" cy="90.1" r="0.95"/>
<circle cx="286.4" cy="73.1" r="0.95"/>
<circle cx="266.4" cy="82.1" r="0.95"/>
<circle cx="282.5" cy="79.0" r="0.95"/>
<circle cx="270.6" cy="78.5" r="0.95"/>
<circle cx="263.0" cy="90.3" r="0.95"/>
<circle cx="285.9" cy="67.0" r="0.95"/>
<circle cx="274.8" cy="78.2" r="0.95"/>
<circle cx="282.7" cy="70.4" r="0.95"/>
<circle cx="279.7" cy="79.3" r="0.95"/>
<circle cx="281.2" cy="72.7" r="0.95"/>
<circle cx="279.5" cy="75.5" r="0.95"/>
<circle cx="271.6" cy="86.8" r="0.95"/>
<circle cx="272.4" cy="78.8" r="0.95"/>
<circle cx="283.4" cy="70.5" r="0.95"/>
<circle cx="269.4" cy="82.8" r="0.95"/>
<circle cx="265.5" cy="80.8" r="0.95"/>
<circle cx="256.4" cy="92.4" r="0.95"/>
<circle cx="271.6" cy="83.1" r="0.95"/>
<circle cx="257.1" cy="91.6" r="0.95"/>
<circle cx="276.3" cy="78.5" r="0.95"/>
<circle cx="256.1" cy="86.3" r="0.95"/>
<circle cx="265.9" cy="85.7" r="0.95"/>
<circle cx="280.9" cy="72.6" r="0.95"/>
<circle cx="254.1" cy="88.6" r="0.95"/>
<circle cx="269.4" cy="80.1" r="0.95"/>
<circle cx="266.5" cy="82.1" r="0.95"/>
<circle cx="286.5" cy="74.5" r="0.95"/>
<circle cx="269.7" cy="82.4" r="0.95"/>
<circle cx="274.2" cy="79.4" r="0.95"/>
<circle cx="281.4" cy="76.2" r="0.95"/>
<circle cx="259.6" cy="89.3" r="0.95"/>
<circle cx="287.3" cy="72.0" r="0.95"/>
<circle cx="280.9" cy="77.7" r="0.95"/>
<circle cx="269.1" cy="79.4" r="0.95"/>
<circle cx="269.6" cy="87.5" r="0.95"/>
<circle cx="259.0" cy="88.3" r="0.95"/>
<circle cx="281.3" cy="74.9" r="0.95"/>
<circle cx="261.9" cy="92.0" r="0.95"/>
<circle cx="276.2" cy="80.4" r="0.95"/>
<circle cx="279.0" cy="77.5" r="0.95"/>
<circle cx="280.5" cy="75.7" r="0.95"/>
<circle cx="271.0" cy="76.1" r="0.95"/>
<circle cx="289.4" cy="69.4" r="0.95"/>
<circle cx="289.5" cy="67.1" r="0.95"/>
<circle cx="269.3" cy="83.0" r="0.95"/>
<circle cx="290.0" cy="69.2" r="0.95"/>
<circle cx="280.1" cy="73.9" r="0.95"/>
<circle cx="272.6" cy="81.7" r="0.95"/>
<circle cx="260.4" cy="87.3" r="0.95"/>
<circle cx="278.2" cy="70.4" r="0.95"/>
<circle cx="264.5" cy="86.1" r="0.95"/>
<circle cx="269.2" cy="83.1" r="0.95"/>
<circle cx="288.3" cy="72.5" r="0.95"/>
<circle cx="271.5" cy="82.2" r="0.95"/>
<circle cx="286.9" cy="72.2" r="0.95"/>
<circle cx="289.7" cy="67.6" r="0.95"/>
<circle cx="276.3" cy="76.1" r="0.95"/>
<circle cx="274.5" cy="78.5" r="0.95"/>
<circle cx="259.5" cy="87.4" r="0.95"/>
<circle cx="255.9" cy="92.0" r="0.95"/>
<circle cx="258.4" cy="91.6" r="0.95"/>
<circle cx="257.7" cy="93.5" r="0.95"/>
<circle cx="269.2" cy="82.1" r="0.95"/>
<circle cx="280.7" cy="71.3" r="0.95"/>
<circle cx="273.4" cy="79.5" r="0.95"/>
<circle cx="273.6" cy="75.0" r="0.95"/>
<circle cx="275.3" cy="78.9" r="0.95"/>
<circle cx="288.7" cy="69.9" r="0.95"/>
<circle cx="267.2" cy="88.3" r="0.95"/>
<circle cx="257.2" cy="92.9" r="0.95"/>
<circle cx="276.1" cy="80.4" r="0.95"/>
<circle cx="258.6" cy="90.8" r="0.95"/>
<circle cx="282.1" cy="76.7" r="0.95"/>
<circle cx="259.1" cy="87.0" r="0.95"/>
<circle cx="262.6" cy="91.9" r="0.95"/>
<circle cx="287.3" cy="69.3" r="0.95"/>
<circle cx="266.9" cy="80.5" r="0.95"/>
<circle cx="280.7" cy="77.1" r="0.95"/>
<circle cx="287.5" cy="68.8" r="0.95"/>
<circle cx="262.7" cy="88.2" r="0.95"/>
<circle cx="282.3" cy="75.7" r="0.95"/>
<circle cx="269.4" cy="82.1" r="0.95"/>
<circle cx="256.3" cy="92.1" r="0.95"/>
<circle cx="267.0" cy="86.8" r="0.95"/>
<circle cx="270.2" cy="81.9" r="0.95"/>
<circle cx="284.9" cy="73.7" r="0.95"/>
<circle cx="278.4" cy="76.9" r="0.95"/>
<circle cx="281.2" cy="75.5" r="0.95"/>
<circle cx="283.3" cy="74.5" r="0.95"/>
<circle cx="281.1" cy="72.1" r="0.95"/>
<circle cx="280.4" cy="76.7" r="0.95"/>
<circle cx="268.6" cy="83.5" r="0.95"/>
<circle cx="259.7" cy="86.8" r="0.95"/>
<circle cx="264.8" cy="88.3" r="0.95"/>
<circle cx="287.5" cy="69.0" r="0.95"/>
<circle cx="269.9" cy="81.5" r="0.95"/>
<circle cx="268.6" cy="89.0" r="0.95"/>
<circle cx="288.9" cy="71.3" r="0.95"/>
<circle cx="263.5" cy="85.4" r="0.95"/>
<circle cx="275.3" cy="79.3" r="0.95"/>
<circle cx="282.7" cy="72.3" r="0.95"/>
<circle cx="259.1" cy="88.3" r="0.95"/>
<circle cx="276.4" cy="80.8" r="0.95"/>
<circle cx="281.9" cy="76.1" r="0.95"/>
<circle cx="271.2" cy="80.4" r="0.95"/>
<circle cx="276.4" cy="77.4" r="0.95"/>
<circle cx="261.3" cy="90.2" r="0.95"/>
<circle cx="278.6" cy="79.1" r="0.95"/>
<circle cx="285.8" cy="70.1" r="0.95"/>
<circle cx="283.2" cy="70.6" r="0.95"/>
<circle cx="282.0" cy="76.3" r="0.95"/>
<circle cx="274.8" cy="81.8" r="0.95"/>
<circle cx="274.7" cy="79.4" r="0.95"/>
<circle cx="256.1" cy="91.9" r="0.95"/>
<circle cx="258.6" cy="87.3" r="0.95"/>
<circle cx="263.9" cy="88.0" r="0.95"/>
<circle cx="280.2" cy="77.6" r="0.95"/>
<circle cx="264.2" cy="89.7" r="0.95"/>
<circle cx="270.6" cy="84.2" r="0.95"/>
<circle cx="278.8" cy="74.4" r="0.95"/>
<circle cx="265.8" cy="84.9" r="0.95"/>
<circle cx="279.6" cy="74.8" r="0.95"/>
<circle cx="274.2" cy="78.2" r="0.95"/>
<circle cx="257.7" cy="93.1" r="0.95"/>
<circle cx="271.1" cy="82.6" r="0.95"/>
<circle cx="291.7" cy="72.7" r="0.95"/>
<circle cx="290.1" cy="69.0" r="0.95"/>
<circle cx="270.4" cy="87.7" r="0.95"/>
<circle cx="289.9" cy="73.3" r="0.95"/>
<circle cx="279.8" cy="69.8" r="0.95"/>
<circle cx="261.9" cy="89.8" r="0.95"/>
<circle cx="266.3" cy="88.6" r="0.95"/>
<circle cx="255.5" cy="92.1" r="0.95"/>
<circle cx="290.1" cy="70.7" r="0.95"/>
<circle cx="268.3" cy="82.6" r="0.95"/>
<circle cx="279.4" cy="75.8" r="0.95"/>
<circle cx="263.0" cy="89.2" r="0.95"/>
<circle cx="263.9" cy="88.6" r="0.95"/>
<circle cx="275.2" cy="79.1" r="0.95"/>
<circle cx="254.8" cy="89.2" r="0.95"/>
<circle cx="285.2" cy="71.6" r="0.95"/>
<circle cx="289.4" cy="71.1" r="0.95"/>
<circle cx="282.9" cy="72.9" r="0.95"/>
<circle cx="267.5" cy="76.2" r="0.95"/>
<circle cx="269.4" cy="83.1" r="0.95"/>
<circle cx="271.5" cy="76.9" r="0.95"/>
<circle cx="290.8" cy="71.3" r="0.95"/>
<circle cx="265.9" cy="82.5" r="0.95"/>
<circle cx="267.3" cy="80.5" r="0.95"/>
<circle cx="265.3" cy="88.9" r="0.95"/>
<circle cx="266.8" cy="86.8" r="0.95"/>
<circle cx="288.1" cy="66.1" r="0.95"/>
<circle cx="284.7" cy="73.9" r="0.95"/>
<circle cx="268.4" cy="84.7" r="0.95"/>
<circle cx="257.2" cy="92.5" r="0.95"/>
<circle cx="259.4" cy="89.7" r="0.95"/>
<circle cx="282.4" cy="71.6" r="0.95"/>
<circle cx="275.0" cy="78.7" r="0.95"/>
<circle cx="257.5" cy="92.6" r="0.95"/>
<circle cx="264.8" cy="86.8" r="0.95"/>
<circle cx="280.3" cy="76.3" r="0.95"/>
<circle cx="267.6" cy="86.1" r="0.95"/>
<circle cx="277.4" cy="77.4" r="0.95"/>
<circle cx="266.1" cy="87.8" r="0.95"/>
<circle cx="257.9" cy="91.9" r="0.95"/>
<circle cx="255.3" cy="88.0" r="0.95"/>
<circle cx="269.8" cy="82.2" r="0.95"/>
<circle cx="278.4" cy="74.3" r="0.95"/>
<circle cx="286.8" cy="68.3" r="0.95"/>
<circle cx="277.5" cy="74.0" r="0.95"/>
<circle cx="289.0" cy="66.2" r="0.95"/>
<circle cx="290.1" cy="69.5" r="0.95"/>
<circle cx="270.7" cy="83.6" r="0.95"/>
<circle cx="263.0" cy="84.3" r="0.95"/>
<circle cx="281.7" cy="76.9" r="0.95"/>
<circle cx="255.1" cy="88.6" r="0.95"/>
<circle cx="277.8" cy="79.0" r="0.95"/>
<circle cx="274.9" cy="82.5" r="0.95"/>
<circle cx="260.3" cy="89.5" r="0.95"/>
<circle cx="270.3" cy="84.1" r="0.95"/>
<circle cx="267.7" cy="79.7" r="0.95"/>
<circle cx="257.6" cy="93.0" r="0.95"/>
<circle cx="264.9" cy="85.1" r="0.95"/>
<circle cx="257.6" cy="93.9" r="0.95"/>
<circle cx="276.3" cy="78.9" r="0.95"/>
<circle cx="286.7" cy="73.6" r="0.95"/>
<circle cx="276.2" cy="79.0" r="0.95"/>
<circle cx="258.8" cy="92.6" r="0.95"/>
<circle cx="287.7" cy="73.4" r="0.95"/>
<circle cx="265.4" cy="89.8" r="0.95"/>
<circle cx="272.9" cy="79.8" r="0.95"/>
<circle cx="292.8" cy="75.1" r="0.95"/>
<circle cx="278.2" cy="75.1" r="0.95"/>
<circle cx="287.9" cy="70.2" r="0.95"/>
<circle cx="262.8" cy="90.9" r="0.95"/>
<circle cx="262.4" cy="95.4" r="0.95"/>
<circle cx="280.3" cy="72.1" r="0.95"/>
<circle cx="274.6" cy="80.6" r="0.95"/>
<circle cx="279.7" cy="78.0" r="0.95"/>
<circle cx="286.2" cy="72.0" r="0.95"/>
<circle cx="272.1" cy="79.1" r="0.95"/>
<circle cx="262.0" cy="84.9" r="0.95"/>
<circle cx="281.5" cy="74.3" r="0.95"/>
<circle cx="274.4" cy="77.3" r="0.95"/>
<circle cx="283.3" cy="75.3" r="0.95"/>
<circle cx="283.3" cy="71.2" r="0.95"/>
<circle cx="288.1" cy="69.5" r="0.95"/>
<circle cx="283.0" cy="76.8" r="0.95"/>
<circle cx="268.4" cy="86.0" r="0.95"/>
<circle cx="283.1" cy="71.7" r="0.95"/>
<circle cx="282.5" cy="71.5" r="0.95"/>
<circle cx="279.1" cy="79.9" r="0.95"/>
<circle cx="275.8" cy="79.4" r="0.95"/>
<circle cx="284.4" cy="74.8" r="0.95"/>
<circle cx="267.9" cy="80.6" r="0.95"/>
<circle cx="288.4" cy="69.4" r="0.95"/>
<circle cx="283.1" cy="74.1" r="0.95"/>
<circle cx="254.8" cy="87.3" r="0.95"/>
<circle cx="284.1" cy="76.6" r="0.95"/>
<circle cx="263.3" cy="85.7" r="0.95"/>
<circle cx="268.0" cy="83.3" r="0.95"/>
<circle cx="267.0" cy="83.8" r="0.95"/>
<circle cx="274.3" cy="84.5" r="0.95"/>
<circle cx="272.7" cy="81.1" r="0.95"/>
<circle cx="268.4" cy="82.3" r="0.95"/>
<circle cx="279.7" cy="75.1" r="0.95"/>
<circle cx="290.9" cy="69.8" r="0.95"/>
<circle cx="289.1" cy="68.2" r="0.95"/>
<circle cx="261.1" cy="89.7" r="0.95"/>
<circle cx="258.5" cy="88.7" r="0.95"/>
<circle cx="278.3" cy="75.0" r="0.95"/>
<circle cx="269.9" cy="84.0" r="0.95"/>
<circle cx="259.5" cy="86.8" r="0.95"/>
<circle cx="266.5" cy="80.9" r="0.95"/>
<circle cx="281.7" cy="76.4" r="0.95"/>
<circle cx="276.6" cy="80.3" r="0.95"/>
<circle cx="274.6" cy="80.5" r="0.95"/>
<circle cx="272.2" cy="79.6" r="0.95"/>
<circle cx="255.3" cy="92.0" r="0.95"/>
<circle cx="268.2" cy="81.9" r="0.95"/>
<circle cx="288.0" cy="74.9" r="0.95"/>
<circle cx="273.4" cy="82.6" r="0.95"/>
<circle cx="286.8" cy="69.0" r="0.95"/>
<circle cx="259.5" cy="90.2" r="0.95"/>
<circle cx="279.7" cy="74.3" r="0.95"/>
<circle cx="284.6" cy="69.7" r="0.95"/>
<circle cx="263.1" cy="86.3" r="0.95"/>
<circle cx="271.7" cy="80.7" r="0.95"/>
<circle cx="263.3" cy="89.2" r="0.95"/>
<circle cx="275.6" cy="80.2" r="0.95"/>
<circle cx="291.0" cy="73.2" r="0.95"/>
<circle cx="284.4" cy="71.6" r="0.95"/>
<circle cx="276.4" cy="81.0" r="0.95"/>
<circle cx="286.0" cy="73.7" r="0.95"/>
<circle cx="283.8" cy="73.1" r="0.95"/>
<circle cx="272.8" cy="84.1" r="0.95"/>
<circle cx="263.4" cy="85.1" r="0.95"/>
<circle cx="255.7" cy="90.5" r="0.95"/>
<circle cx="272.8" cy="82.7" r="0.95"/>
<circle cx="268.9" cy="83.2" r="0.95"/>
<circle cx="278.3" cy="77.8" r="0.95"/>
<circle cx="285.7" cy="72.0" r="0.95"/>
<circle cx="265.6" cy="85.8" r="0.95"/>
<circle cx="264.5" cy="83.9" r="0.95"/>
<circle cx="277.7" cy="76.9" r="0.95"/>
<circle cx="262.2" cy="86.2" r="0.95"/>
<circle cx="278.5" cy="76.9" r="0.95"/>
<circle cx="288.2" cy="66.3" r="0.95"/>
<circle cx="274.3" cy="81.3" r="0.95"/>
<circle cx="281.3" cy="73.1" r="0.95"/>
<circle cx="274.9" cy="83.5" r="0.95"/>
<circle cx="258.2" cy="95.9" r="0.95"/>
<circle cx="280.2" cy="77.2" r="0.95"/>
<circle cx="264.1" cy="89.2" r="0.95"/>
<circle cx="257.4" cy="89.1" r="0.95"/>
<circle cx="282.7" cy="73.1" r="0.95"/>
<circle cx="274.8" cy="81.5" r="0.95"/>
<circle cx="258.2" cy="89.1" r="0.95"/>
<circle cx="279.9" cy="80.8" r="0.95"/>
<circle cx="275.6" cy="79.1" r="0.95"/>
<circle cx="276.7" cy="79.2" r="0.95"/>
<circle cx="264.0" cy="86.4" r="0.95"/>
<circle cx="267.3" cy="81.4" r="0.95"/>
<circle cx="281.7" cy="75.9" r="0.95"/>
<circle cx="287.2" cy="73.2" r="0.95"/>
<circle cx="287.9" cy="70.8" r="0.95"/>
<circle cx="262.6" cy="84.1" r="0.95"/>
<circle cx="261.4" cy="90.9" r="0.95"/>
<circle cx="280.7" cy="77.9" r="0.95"/>
<circle cx="274.5" cy="80.4" r="0.95"/>
<circle cx="291.6" cy="70.4" r="0.95"/>
<circle cx="278.8" cy="77.8" r="0.95"/>
<circle cx="291.7" cy="69.7" r="0.95"/>
<circle cx="286.8" cy="70.4" r="0.95"/>
<circle cx="289.6" cy="68.1" r="0.95"/>
<circle cx="272.7" cy="78.5" r="0.95"/>
<circle cx="275.5" cy="79.1" r="0.95"/>
<circle cx="288.9" cy="71.9" r="0.95"/>
<circle cx="265.4" cy="82.3" r="0.95"/>
<circle cx="263.2" cy="83.8" r="0.95"/>
<circle cx="254.9" cy="90.2" r="0.95"/>
<circle cx="263.5" cy="86.3" r="0.95"/>
<circle cx="287.4" cy="66.0" r="0.95"/>
<circle cx="270.4" cy="82.2" r="0.95"/>
<circle cx="262.1" cy="89.7" r="0.95"/>
<circle cx="258.6" cy="92.3" r="0.95"/>
<circle cx="274.3" cy="80.7" r="0.95"/>
<circle cx="258.7" cy="88.9" r="0.95"/>
<circle cx="285.7" cy="72.9" r="0.95"/>
<circle cx="278.4" cy="78.3" r="0.95"/>
<circle cx="261.9" cy="88.5" r="0.95"/>
<circle cx="288.4" cy="72.3" r="0.95"/>
<circle cx="274.5" cy="76.9" r="0.95"/>
<circle cx="281.5" cy="78.4" r="0.95"/>
<circle cx="262.8" cy="89.8" r="0.95"/>
<circle cx="281.2" cy="73.8" r="0.95"/>
<circle cx="275.5" cy="80.0" r="0.95"/>
<circle cx="280.7" cy="81.2" r="0.95"/>
<circle cx="256.0" cy="93.7" r="0.95"/>
<circle cx="265.2" cy="93.0" r="0.95"/>
<circle cx="266.7" cy="91.9" r="0.95"/>
<circle cx="258.9" cy="92.6" r="0.95"/>
<circle cx="255.6" cy="94.8" r="0.95"/>
<circle cx="269.4" cy="87.6" r="0.95"/>
<circle cx="265.0" cy="89.7" r="0.95"/>
<circle cx="267.3" cy="91.3" r="0.95"/>
<circle cx="270.0" cy="90.6" r="0.95"/>
<circle cx="259.1" cy="95.6" r="0.95"/>
<circle cx="263.5" cy="96.0" r="0.95"/>
<circle cx="257.4" cy="95.7" r="0.95"/>
<circle cx="256.1" cy="98.0" r="0.95"/>
<circle cx="268.6" cy="87.2" r="0.95"/>
<circle cx="266.3" cy="88.8" r="0.95"/>
<circle cx="265.3" cy="87.8" r="0.95"/>
<circle cx="268.6" cy="92.9" r="0.95"/>
<circle cx="259.2" cy="93.1" r="0.95"/>
<circle cx="269.0" cy="88.7" r="0.95"/>
<circle cx="258.8" cy="93.0" r="0.95"/>
<circle cx="268.3" cy="87.8" r="0.95"/>
<circle cx="256.1" cy="91.7" r="0.95"/>
<circle cx="260.0" cy="94.5" r="0.95"/>
<circle cx="257.9" cy="95.0" r="0.95"/>
<circle cx="258.6" cy="98.7" r="0.95"/>
<circle cx="268.9" cy="91.9" r="0.95"/>
<circle cx="262.3" cy="97.1" r="0.95"/>
<circle cx="269.6" cy="86.5" r="0.95"/>
<circle cx="267.2" cy="89.8" r="0.95"/>
<circle cx="269.6" cy="88.6" r="0.95"/>
<circle cx="256.5" cy="97.3" r="0.95"/>
<circle cx="257.7" cy="95.5" r="0.95"/>
<circle cx="268.5" cy="89.3" r="0.95"/>
<circle cx="266.4" cy="93.3" r="0.95"/>
<circle cx="257.9" cy="94.6" r="0.95"/>
<circle cx="271.5" cy="87.7" r="0.95"/>
<circle cx="268.4" cy="89.5" r="0.95"/>
<circle cx="256.3" cy="98.6" r="0.95"/>
<circle cx="270.7" cy="87.4" r="0.95"/>
<circle cx="271.4" cy="88.1" r="0.95"/>
<circle cx="265.3" cy="90.0" r="0.95"/>
<circle cx="268.9" cy="91.0" r="0.95"/>
<circle cx="257.8" cy="96.1" r="0.95"/>
<circle cx="269.4" cy="93.0" r="0.95"/>
<circle cx="268.8" cy="91.5" r="0.95"/>
<circle cx="260.1" cy="93.1" r="0.95"/>
<circle cx="261.4" cy="91.4" r="0.95"/>
<circle cx="257.7" cy="96.1" r="0.95"/>
<circle cx="266.2" cy="88.3" r="0.95"/>
<circle cx="264.0" cy="93.4" r="0.95"/>
<circle cx="268.2" cy="89.4" r="0.95"/>
<circle cx="267.1" cy="91.0" r="0.95"/>
<circle cx="256.6" cy="95.9" r="0.95"/>
<circle cx="266.9" cy="92.1" r="0.95"/>
<circle cx="263.6" cy="88.9" r="0.95"/>
<circle cx="259.3" cy="95.1" r="0.95"/>
<circle cx="264.9" cy="92.3" r="0.95"/>
<circle cx="270.3" cy="89.2" r="0.95"/>
<circle cx="255.8" cy="96.1" r="0.95"/>
<circle cx="256.5" cy="99.6" r="0.95"/>
<circle cx="292.4" cy="64.7" r="0.95"/>
<circle cx="307.3" cy="67.3" r="0.95"/>
<circle cx="297.6" cy="69.8" r="0.95"/>
<circle cx="301.1" cy="67.0" r="0.95"/>
<circle cx="293.9" cy="65.4" r="0.95"/>
<circle cx="304.5" cy="71.3" r="0.95"/>
<circle cx="291.7" cy="66.2" r="0.95"/>
<circle cx="301.0" cy="66.5" r="0.95"/>
<circle cx="300.3" cy="68.3" r="0.95"/>
<circle cx="296.0" cy="65.4" r="0.95"/>
<circle cx="299.0" cy="70.6" r="0.95"/>
<circle cx="293.6" cy="68.5" r="0.95"/>
<circle cx="306.4" cy="68.8" r="0.95"/>
<circle cx="297.6" cy="71.5" r="0.95"/>
<circle cx="305.8" cy="72.0" r="0.95"/>
<circle cx="296.7" cy="68.1" r="0.95"/>
<circle cx="299.6" cy="70.8" r="0.95"/>
<circle cx="302.8" cy="68.6" r="0.95"/>
<circle cx="300.8" cy="71.2" r="0.95"/>
<circle cx="297.7" cy="65.5" r="0.95"/>
<circle cx="294.3" cy="66.3" r="0.95"/>
<circle cx="292.8" cy="71.8" r="0.95"/>
<circle cx="301.5" cy="70.5" r="0.95"/>
<circle cx="299.6" cy="68.4" r="0.95"/>
<circle cx="295.3" cy="71.2" r="0.95"/>
<circle cx="299.0" cy="67.5" r="0.95"/>
<circle cx="305.1" cy="71.0" r="0.95"/>
<circle cx="310.0" cy="68.1" r="0.95"/>
<circle cx="299.1" cy="70.7" r="0.95"/>
<circle cx="299.1" cy="66.0" r="0.95"/>
<circle cx="300.1" cy="66.8" r="0.95"/>
<circle cx="295.9" cy="70.3" r="0.95"/>
<circle cx="297.6" cy="69.2" r="0.95"/>
<circle cx="296.8" cy="65.4" r="0.95"/>
<circle cx="305.8" cy="70.3" r="0.95"/>
<circle cx="304.4" cy="69.1" r="0.95"/>
<circle cx="294.3" cy="68.3" r="0.95"/>
<circle cx="306.8" cy="70.4" r="0.95"/>
<circle cx="302.2" cy="69.2" r="0.95"/>
<circle cx="294.2" cy="64.9" r="0.95"/>
<circle cx="307.1" cy="64.6" r="0.95"/>
<circle cx="295.8" cy="67.5" r="0.95"/>
<circle cx="304.3" cy="69.7" r="0.95"/>
<circle cx="307.5" cy="71.5" r="0.95"/>
<circle cx="296.2" cy="66.4" r="0.95"/>
<circle cx="293.3" cy="67.0" r="0.95"/>
<circle cx="293.0" cy="71.7" r="0.95"/>
<circle cx="301.9" cy="68.2" r="0.95"/>
<circle cx="292.1" cy="71.3" r="0.95"/>
<circle cx="295.7" cy="70.3" r="0.95"/>
<circle cx="294.9" cy="66.5" r="0.95"/>
<circle cx="293.6" cy="68.5" r="0.95"/>
<circle cx="296.4" cy="68.8" r="0.95"/>
<circle cx="304.6" cy="66.2" r="0.95"/>
<circle cx="293.5" cy="68.4" r="0.95"/>
<circle cx="298.6" cy="67.9" r="0.95"/>
<circle cx="298.0" cy="65.7" r="0.95"/>
<circle cx="293.3" cy="70.0" r="0.95"/>
<circle cx="303.1" cy="69.7" r="0.95"/>
<circle cx="303.1" cy="68.3" r="0.95"/>
<circle cx="294.7" cy="71.4" r="0.95"/>
<circle cx="301.1" cy="67.9" r="0.95"/>
<circle cx="296.0" cy="67.3" r="0.95"/>
<circle cx="309.6" cy="67.5" r="0.95"/>
<circle cx="306.3" cy="65.4" r="0.95"/>
<circle cx="302.4" cy="66.5" r="0.95"/>
<circle cx="295.4" cy="66.8" r="0.95"/>
<circle cx="298.5" cy="69.3" r="0.95"/>
<circle cx="298.7" cy="71.0" r="0.95"/>
<circle cx="293.9" cy="70.9" r="0.95"/>
<circle cx="299.3" cy="70.4" r="0.95"/>
<circle cx="298.5" cy="66.4" r="0.95"/>
<circle cx="308.0" cy="69.3" r="0.95"/>
<circle cx="304.7" cy="68.4" r="0.95"/>
<circle cx="304.5" cy="71.7" r="0.95"/>
<circle cx="305.1" cy="71.8" r="0.95"/>
<circle cx="297.6" cy="66.7" r="0.95"/>
<circle cx="307.8" cy="70.8" r="0.95"/>
<circle cx="307.9" cy="67.8" r="0.95"/>
<circle cx="298.9" cy="71.6" r="0.95"/>
<circle cx="294.8" cy="65.7" r="0.95"/>
<circle cx="294.3" cy="66.8" r="0.95"/>
<circle cx="298.9" cy="67.4" r="0.95"/>
<circle cx="299.7" cy="64.8" r="0.95"/>
<circle cx="297.5" cy="68.3" r="0.95"/>
<circle cx="292.0" cy="68.1" r="0.95"/>
<circle cx="308.2" cy="69.4" r="0.95"/>
<circle cx="309.0" cy="71.0" r="0.95"/>
<circle cx="300.4" cy="64.7" r="0.95"/>
<circle cx="292.1" cy="68.8" r="0.95"/>
<circle cx="307.0" cy="67.0" r="0.95"/>
<circle cx="293.5" cy="70.2" r="0.95"/>
<circle cx="301.2" cy="68.0" r="0.95"/>
<circle cx="293.4" cy="68.7" r="0.95"/>
<circle cx="301.9" cy="69.8" r="0.95"/>
<circle cx="308.1" cy="65.1" r="0.95"/>
<circle cx="306.8" cy="66.9" r="0.95"/>
<circle cx="298.9" cy="67.1" r="0.95"/>
<circle cx="306.3" cy="67.8" r="0.95"/>
<circle cx="292.4" cy="68.1" r="0.95"/>
<circle cx="293.8" cy="64.6" r="0.95"/>
<circle cx="292.0" cy="67.4" r="0.95"/>
<circle cx="299.6" cy="64.5" r="0.95"/>
<circle cx="293.6" cy="71.3" r="0.95"/>
<circle cx="301.3" cy="71.9" r="0.95"/>
<circle cx="301.3" cy="71.7" r="0.95"/>
<circle cx="304.1" cy="67.4" r="0.95"/>
<circle cx="292.0" cy="65.6" r="0.95"/>
<circle cx="306.1" cy="69.5" r="0.95"/>
<circle cx="296.6" cy="65.7" r="0.95"/>
<circle cx="303.2" cy="71.5" r="0.95"/>
<circle cx="295.7" cy="72.0" r="0.95"/>
<circle cx="301.1" cy="66.1" r="0.95"/>
<circle cx="294.5" cy="69.8" r="0.95"/>
<circle cx="308.6" cy="66.0" r="0.95"/>
<circle cx="295.5" cy="65.6" r="0.95"/>
<circle cx="295.0" cy="66.2" r="0.95"/>
<circle cx="298.9" cy="66.3" r="0.95"/>
<circle cx="303.6" cy="66.3" r="0.95"/>
<circle cx="296.1" cy="67.6" r="0.95"/>
<circle cx="294.2" cy="64.9" r="0.95"/>
<circle cx="292.7" cy="64.5" r="0.95"/>
<circle cx="303.8" cy="64.9" r="0.95"/>
<circle cx="300.1" cy="71.2" r="0.95"/>
<circle cx="302.7" cy="66.8" r="0.95"/>
<circle cx="298.6" cy="67.7" r="0.95"/>
<circle cx="297.1" cy="64.9" r="0.95"/>
<circle cx="294.0" cy="65.6" r="0.95"/>
<circle cx="295.0" cy="67.0" r="0.95"/>
<circle cx="293.0" cy="69.1" r="0.95"/>
<circle cx="294.8" cy="68.3" r="0.95"/>
<circle cx="304.2" cy="68.2" r="0.95"/>
<circle cx="305.1" cy="70.4" r="0.95"/>
<circle cx="299.5" cy="66.1" r="0.95"/>
<circle cx="291.8" cy="69.7" r="0.95"/>
<circle cx="298.0" cy="66.7" r="0.95"/>
<circle cx="292.6" cy="65.9" r="0.95"/>
<circle cx="307.9" cy="68.0" r="0.95"/>
<circle cx="307.1" cy="70.8" r="0.95"/>
<circle cx="295.7" cy="66.2" r="0.95"/>
<circle cx="307.8" cy="66.3" r="0.95"/>
<circle cx="302.4" cy="71.5" r="0.95"/>
<circle cx="299.8" cy="67.7" r="0.95"/>
<circle cx="309.2" cy="71.0" r="0.95"/>
<circle cx="308.6" cy="69.8" r="0.95"/>
<circle cx="295.3" cy="64.9" r="0.95"/>
<circle cx="291.4" cy="71.4" r="0.95"/>
<circle cx="301.3" cy="71.1" r="0.95"/>
<circle cx="309.2" cy="66.3" r="0.95"/>
<circle cx="309.4" cy="66.6" r="0.95"/>
<circle cx="295.1" cy="50.8" r="0.95"/>
<circle cx="296.3" cy="64.9" r="0.95"/>
<circle cx="296.9" cy="63.9" r="0.95"/>
<circle cx="292.7" cy="56.9" r="0.95"/>
<circle cx="295.0" cy="56.2" r="0.95"/>
<circle cx="294.3" cy="61.9" r="0.95"/>
<circle cx="295.1" cy="54.9" r="0.95"/>
<circle cx="294.1" cy="63.7" r="0.95"/>
<circle cx="296.4" cy="63.2" r="0.95"/>
<circle cx="292.8" cy="51.8" r="0.95"/>
<circle cx="293.1" cy="49.1" r="0.95"/>
<circle cx="292.7" cy="53.2" r="0.95"/>
<circle cx="294.4" cy="52.0" r="0.95"/>
<circle cx="296.5" cy="62.0" r="0.95"/>
<circle cx="293.8" cy="51.6" r="0.95"/>
<circle cx="295.0" cy="64.6" r="0.95"/>
<circle cx="293.4" cy="53.6" r="0.95"/>
<circle cx="294.0" cy="58.3" r="0.95"/>
<circle cx="293.5" cy="57.9" r="0.95"/>
<circle cx="292.3" cy="51.9" r="0.95"/>
<circle cx="294.4" cy="52.3" r="0.95"/>
<circle cx="293.0" cy="59.6" r="0.95"/>
<circle cx="295.0" cy="62.1" r="0.95"/>
<circle cx="294.8" cy="59.0" r="0.95"/>
<circle cx="296.0" cy="55.6" r="0.95"/>
<circle cx="295.6" cy="63.5" r="0.95"/>
<circle cx="296.3" cy="51.1" r="0.95"/>
<circle cx="295.4" cy="48.7" r="0.95"/>
<circle cx="294.8" cy="64.7" r="0.95"/>
<circle cx="293.6" cy="53.6" r="0.95"/>
<circle cx="293.8" cy="53.6" r="0.95"/>
<circle cx="293.1" cy="55.2" r="0.95"/>
<circle cx="292.1" cy="47.8" r="0.95"/>
<circle cx="294.9" cy="65.1" r="0.95"/>
<circle cx="293.0" cy="49.7" r="0.95"/>
<circle cx="293.1" cy="48.3" r="0.95"/>
<circle cx="294.8" cy="60.1" r="0.95"/>
<circle cx="291.4" cy="48.4" r="0.95"/>
<circle cx="294.4" cy="59.7" r="0.95"/>
<circle cx="292.6" cy="49.1" r="0.95"/>
<circle cx="293.8" cy="46.7" r="0.95"/>
<circle cx="294.0" cy="57.8" r="0.95"/>
<circle cx="294.8" cy="59.4" r="0.95"/>
<circle cx="294.2" cy="60.1" r="0.95"/>
<circle cx="294.2" cy="50.0" r="0.95"/>
<circle cx="293.4" cy="50.0" r="0.95"/>
<circle cx="294.5" cy="66.0" r="0.95"/>
<circle cx="293.2" cy="50.9" r="0.95"/>
<circle cx="294.6" cy="56.9" r="0.95"/>
<circle cx="295.9" cy="65.6" r="0.95"/>
<circle cx="296.2" cy="64.0" r="0.95"/>
<circle cx="293.2" cy="48.8" r="0.95"/>
<circle cx="294.0" cy="59.4" r="0.95"/>
<circle cx="295.4" cy="57.7" r="0.95"/>
<circle cx="293.5" cy="51.1" r="0.95"/>
<circle cx="295.8" cy="59.9" r="0.95"/>
<circle cx="294.5" cy="65.9" r="0.95"/>
<circle cx="295.2" cy="56.6" r="0.95"/>
<circle cx="294.8" cy="64.0" r="0.95"/>
<circle cx="294.2" cy="55.7" r="0.95"/>
<circle cx="292.1" cy="47.0" r="0.95"/>
<circle cx="292.8" cy="46.7" r="0.95"/>
<circle cx="293.1" cy="47.9" r="0.95"/>
<circle cx="294.0" cy="48.2" r="0.95"/>
<circle cx="293.3" cy="46.9" r="0.95"/>
<circle cx="295.5" cy="63.8" r="0.95"/>
<circle cx="295.7" cy="62.0" r="0.95"/>
<circle cx="293.2" cy="64.7" r="0.95"/>
<circle cx="294.0" cy="62.5" r="0.95"/>
<circle cx="290.8" cy="47.2" r="0.95"/>
<circle cx="292.6" cy="48.9" r="0.95"/>
<circle cx="295.6" cy="63.2" r="0.95"/>
<circle cx="293.0" cy="60.4" r="0.95"/>
<circle cx="293.6" cy="52.8" r="0.95"/>
<circle cx="294.1" cy="65.5" r="0.95"/>
<circle cx="296.8" cy="64.5" r="0.95"/>
<circle cx="296.6" cy="63.4" r="0.95"/>
<circle cx="296.2" cy="64.0" r="0.95"/>
<circle cx="292.8" cy="52.5" r="0.95"/>
<circle cx="293.4" cy="54.2" r="0.95"/>
<circle cx="294.8" cy="46.8" r="0.95"/>
<circle cx="294.5" cy="66.0" r="0.95"/>
<circle cx="295.2" cy="64.6" r="0.95"/>
<circle cx="293.4" cy="51.9" r="0.95"/>
<circle cx="293.7" cy="56.5" r="0.95"/>
<circle cx="293.5" cy="49.3" r="0.95"/>
<circle cx="294.7" cy="50.7" r="0.95"/>
<circle cx="293.5" cy="53.8" r="0.95"/>
<circle cx="292.8" cy="50.9" r="0.95"/>
<circle cx="295.8" cy="64.1" r="0.95"/>
<circle cx="295.0" cy="61.6" r="0.95"/>
<circle cx="292.1" cy="54.6" r="0.95"/>
<circle cx="292.5" cy="50.0" r="0.95"/>
<circle cx="293.8" cy="54.8" r="0.95"/>
<circle cx="292.4" cy="48.2" r="0.95"/>
<circle cx="294.6" cy="57.5" r="0.95"/>
<circle cx="295.8" cy="64.3" r="0.95"/>
<circle cx="294.7" cy="55.0" r="0.95"/>
<circle cx="292.6" cy="50.7" r="0.95"/>
<circle cx="296.4" cy="65.0" r="0.95"/>
<circle cx="293.8" cy="53.5" r="0.95"/>
<circle cx="295.9" cy="58.4" r="0.95"/>
<circle cx="293.3" cy="47.5" r="0.95"/>
<circle cx="294.4" cy="57.4" r="0.95"/>
<circle cx="295.4" cy="57.1" r="0.95"/>
<circle cx="305.9" cy="64.0" r="0.95"/>
<circle cx="306.1" cy="61.1" r="0.95"/>
<circle cx="310.3" cy="63.7" r="0.95"/>
<circle cx="305.4" cy="62.3" r="0.95"/>
<circle cx="305.7" cy="66.5" r="0.95"/>
<circle cx="304.6" cy="64.7" r="0.95"/>
<circle cx="307.8" cy="65.5" r="0.95"/>
<circle cx="305.2" cy="61.3" r="0.95"/>
<circle cx="306.7" cy="64.9" r="0.95"/>
<circle cx="305.4" cy="63.4" r="0.95"/>
<circle cx="309.1" cy="61.6" r="0.95"/>
<circle cx="305.0" cy="63.1" r="0.95"/>
<circle cx="303.2" cy="63.0" r="0.95"/>
<circle cx="304.5" cy="65.9" r="0.95"/>
<circle cx="302.8" cy="61.9" r="0.95"/>
<circle cx="306.4" cy="61.7" r="0.95"/>
<circle cx="302.4" cy="63.1" r="0.95"/>
<circle cx="303.8" cy="62.5" r="0.95"/>
<circle cx="305.7" cy="64.7" r="0.95"/>
<circle cx="304.8" cy="63.6" r="0.95"/>
<circle cx="307.2" cy="63.8" r="0.95"/>
<circle cx="307.3" cy="63.1" r="0.95"/>
<circle cx="306.8" cy="66.0" r="0.95"/>
<circle cx="303.5" cy="68.6" r="0.95"/>
<circle cx="305.4" cy="63.5" r="0.95"/>
<circle cx="305.7" cy="64.7" r="0.95"/>
<circle cx="303.8" cy="64.1" r="0.95"/>
<circle cx="304.9" cy="66.2" r="0.95"/>
<circle cx="302.9" cy="65.0" r="0.95"/>
<circle cx="305.4" cy="62.9" r="0.95"/>
<circle cx="306.2" cy="63.7" r="0.95"/>
<circle cx="306.0" cy="64.4" r="0.95"/>
<circle cx="308.1" cy="63.4" r="0.95"/>
<circle cx="309.0" cy="59.9" r="0.95"/>
<circle cx="309.2" cy="65.9" r="0.95"/>
<circle cx="308.8" cy="64.3" r="0.95"/>
<circle cx="306.5" cy="62.5" r="0.95"/>
<circle cx="308.4" cy="62.3" r="0.95"/>
<circle cx="304.5" cy="64.0" r="0.95"/>
<circle cx="306.4" cy="64.5" r="0.95"/>
<circle cx="300.6" cy="82.6" r="0.95"/>
<circle cx="301.8" cy="78.6" r="0.95"/>
<circle cx="299.3" cy="81.7" r="0.95"/>
<circle cx="296.2" cy="88.0" r="0.95"/>
<circle cx="297.3" cy="84.0" r="0.95"/>
<circle cx="303.4" cy="76.4" r="0.95"/>
<circle cx="297.7" cy="88.9" r="0.95"/>
<circle cx="300.1" cy="82.6" r="0.95"/>
<circle cx="299.2" cy="89.0" r="0.95"/>
<circle cx="303.5" cy="76.5" r="0.95"/>
<circle cx="300.4" cy="82.9" r="0.95"/>
<circle cx="302.3" cy="77.5" r="0.95"/>
<circle cx="302.7" cy="74.6" r="0.95"/>
<circle cx="304.2" cy="77.8" r="0.95"/>
<circle cx="298.7" cy="87.4" r="0.95"/>
<circle cx="302.1" cy="77.6" r="0.95"/>
<circle cx="298.2" cy="89.5" r="0.95"/>
<circle cx="299.8" cy="83.0" r="0.95"/>
<circle cx="299.1" cy="89.9" r="0.95"/>
<circle cx="300.6" cy="81.5" r="0.95"/>
<circle cx="303.9" cy="76.0" r="0.95"/>
<circle cx="300.0" cy="83.3" r="0.95"/>
<circle cx="302.7" cy="79.0" r="0.95"/>
<circle cx="299.7" cy="83.5" r="0.95"/>
<circle cx="297.8" cy="82.1" r="0.95"/>
<circle cx="299.4" cy="86.2" r="0.95"/>
<circle cx="302.5" cy="80.2" r="0.95"/>
<circle cx="301.6" cy="80.6" r="0.95"/>
<circle cx="301.6" cy="81.2" r="0.95"/>
<circle cx="297.2" cy="87.9" r="0.95"/>
<circle cx="300.7" cy="82.7" r="0.95"/>
<circle cx="300.9" cy="79.6" r="0.95"/>
<circle cx="298.6" cy="88.8" r="0.95"/>
<circle cx="302.0" cy="75.2" r="0.95"/>
<circle cx="300.8" cy="81.4" r="0.95"/>
<circle cx="303.4" cy="74.9" r="0.95"/>
<circle cx="301.2" cy="77.0" r="0.95"/>
<circle cx="301.5" cy="77.3" r="0.95"/>
<circle cx="297.8" cy="90.2" r="0.95"/>
<circle cx="297.1" cy="88.0" r="0.95"/>
<circle cx="298.9" cy="82.3" r="0.95"/>
<circle cx="299.8" cy="83.5" r="0.95"/>
<circle cx="301.6" cy="77.3" r="0.95"/>
<circle cx="299.3" cy="89.2" r="0.95"/>
<circle cx="302.1" cy="78.0" r="0.95"/>
<circle cx="298.2" cy="86.9" r="0.95"/>
<circle cx="299.8" cy="81.7" r="0.95"/>
<circle cx="301.5" cy="75.8" r="0.95"/>
<circle cx="303.1" cy="75.4" r="0.95"/>
<circle cx="297.2" cy="89.5" r="0.95"/>
<circle cx="298.7" cy="86.0" r="0.95"/>
<circle cx="303.5" cy="77.4" r="0.95"/>
<circle cx="299.4" cy="89.8" r="0.95"/>
<circle cx="301.4" cy="79.0" r="0.95"/>
<circle cx="298.1" cy="86.4" r="0.95"/>
<circle cx="304.0" cy="91.1" r="0.95"/>
<circle cx="305.2" cy="78.1" r="0.95"/>
<circle cx="304.1" cy="89.0" r="0.95"/>
<circle cx="303.1" cy="85.1" r="0.95"/>
<circle cx="305.6" cy="77.5" r="0.95"/>
<circle cx="305.8" cy="75.6" r="0.95"/>
<circle cx="305.1" cy="76.2" r="0.95"/>
<circle cx="302.6" cy="90.1" r="0.95"/>
<circle cx="304.4" cy="80.6" r="0.95"/>
<circle cx="306.1" cy="82.5" r="0.95"/>
<circle cx="304.1" cy="89.7" r="0.95"/>
<circle cx="306.6" cy="79.0" r="0.95"/>
<circle cx="306.1" cy="88.3" r="0.95"/>
<circle cx="305.6" cy="83.4" r="0.95"/>
<circle cx="304.7" cy="87.8" r="0.95"/>
<circle cx="302.6" cy="81.7" r="0.95"/>
<circle cx="306.5" cy="77.4" r="0.95"/>
<circle cx="304.1" cy="80.3" r="0.95"/>
<circle cx="304.6" cy="90.3" r="0.95"/>
<circle cx="305.1" cy="84.5" r="0.95"/>
<circle cx="303.9" cy="90.5" r="0.95"/>
<circle cx="304.6" cy="83.1" r="0.95"/>
<circle cx="303.8" cy="92.0" r="0.95"/>
<circle cx="305.2" cy="75.5" r="0.95"/>
<circle cx="306.1" cy="78.8" r="0.95"/>
<circle cx="305.6" cy="77.9" r="0.95"/>
<circle cx="306.3" cy="84.4" r="0.95"/>
<circle cx="305.1" cy="77.6" r="0.95"/>
<circle cx="305.0" cy="76.9" r="0.95"/>
<circle cx="302.7" cy="89.8" r="0.95"/>
<circle cx="303.6" cy="86.8" r="0.95"/>
<circle cx="305.3" cy="77.7" r="0.95"/>
<circle cx="303.5" cy="91.0" r="0.95"/>
<circle cx="303.3" cy="84.1" r="0.95"/>
<circle cx="303.8" cy="76.2" r="0.95"/>
<circle cx="305.4" cy="76.0" r="0.95"/>
<circle cx="303.8" cy="77.0" r="0.95"/>
<circle cx="305.3" cy="86.3" r="0.95"/>
<circle cx="303.9" cy="91.7" r="0.95"/>
<circle cx="303.6" cy="78.7" r="0.95"/>
<circle cx="303.2" cy="89.6" r="0.95"/>
<circle cx="303.7" cy="90.2" r="0.95"/>
<circle cx="302.8" cy="87.1" r="0.95"/>
<circle cx="305.7" cy="76.7" r="0.95"/>
<circle cx="306.0" cy="81.4" r="0.95"/>
<circle cx="311.4" cy="69.6" r="0.95"/>
<circle cx="312.5" cy="78.2" r="0.95"/>
<circle cx="311.7" cy="71.3" r="0.95"/>
<circle cx="309.2" cy="78.9" r="0.95"/>
<circle cx="310.1" cy="69.3" r="0.95"/>
<circle cx="312.2" cy="73.1" r="0.95"/>
<circle cx="312.2" cy="70.6" r="0.95"/>
<circle cx="309.6" cy="75.6" r="0.95"/>
<circle cx="311.5" cy="79.3" r="0.95"/>
<circle cx="312.8" cy="66.6" r="0.95"/>
<circle cx="311.5" cy="78.1" r="0.95"/>
<circle cx="310.7" cy="76.0" r="0.95"/>
<circle cx="311.0" cy="76.3" r="0.95"/>
<circle cx="311.3" cy="66.5" r="0.95"/>
<circle cx="309.1" cy="80.9" r="0.95"/>
<circle cx="311.8" cy="74.3" r="0.95"/>
<circle cx="310.6" cy="72.6" r="0.95"/>
<circle cx="309.9" cy="80.7" r="0.95"/>
<circle cx="310.0" cy="74.7" r="0.95"/>
<circle cx="312.3" cy="73.9" r="0.95"/>
<circle cx="311.1" cy="79.8" r="0.95"/>
<circle cx="311.4" cy="72.5" r="0.95"/>
<circle cx="311.0" cy="67.9" r="0.95"/>
<circle cx="310.1" cy="74.2" r="0.95"/>
<circle cx="311.1" cy="74.9" r="0.95"/>
<circle cx="311.5" cy="78.2" r="0.95"/>
<circle cx="311.6" cy="68.4" r="0.95"/>
<circle cx="311.1" cy="79.1" r="0.95"/>
<circle cx="309.9" cy="70.4" r="0.95"/>
<circle cx="310.5" cy="66.4" r="0.95"/>
<circle cx="310.5" cy="79.1" r="0.95"/>
<circle cx="308.2" cy="68.4" r="0.95"/>
<circle cx="310.7" cy="80.0" r="0.95"/>
<circle cx="312.3" cy="66.6" r="0.95"/>
<circle cx="311.8" cy="73.3" r="0.95"/>
<circle cx="310.8" cy="79.6" r="0.95"/>
<circle cx="310.5" cy="74.0" r="0.95"/>
<circle cx="312.0" cy="69.2" r="0.95"/>
<circle cx="310.5" cy="76.1" r="0.95"/>
<circle cx="310.4" cy="76.6" r="0.95"/>
<circle cx="310.3" cy="76.9" r="0.95"/>
<circle cx="311.1" cy="66.9" r="0.95"/>
<circle cx="310.6" cy="77.7" r="0.95"/>
<circle cx="310.3" cy="72.7" r="0.95"/>
<circle cx="309.8" cy="79.3" r="0.95"/>
<circle cx="309.6" cy="68.8" r="0.95"/>
<circle cx="312.1" cy="70.6" r="0.95"/>
<circle cx="310.4" cy="67.5" r="0.95"/>
<circle cx="312.4" cy="75.6" r="0.95"/>
<circle cx="310.6" cy="74.5" r="0.95"/>
<circle cx="311.8" cy="69.7" r="0.95"/>
<circle cx="310.4" cy="81.9" r="0.95"/>
<circle cx="308.4" cy="68.7" r="0.95"/>
<circle cx="309.8" cy="80.8" r="0.95"/>
<circle cx="311.0" cy="70.6" r="0.95"/>
<circle cx="309.5" cy="72.3" r="0.95"/>
<circle cx="311.2" cy="75.5" r="0.95"/>
<circle cx="309.8" cy="66.0" r="0.95"/>
<circle cx="311.2" cy="73.5" r="0.95"/>
<circle cx="308.8" cy="72.5" r="0.95"/>
<circle cx="292.7" cy="92.1" r="0.95"/>
<circle cx="296.8" cy="93.1" r="0.95"/>
<circle cx="299.9" cy="90.0" r="0.95"/>
<circle cx="298.9" cy="93.7" r="0.95"/>
<circle cx="305.0" cy="95.2" r="0.95"/>
<circle cx="308.0" cy="97.0" r="0.95"/>
<circle cx="301.0" cy="96.0" r="0.95"/>
<circle cx="313.7" cy="63.5" r="0.95"/>
<circle cx="318.0" cy="63.6" r="0.95"/>
<circle cx="317.3" cy="63.3" r="0.95"/>
<circle cx="316.9" cy="64.4" r="0.95"/>
<circle cx="318.3" cy="65.9" r="0.95"/>
<circle cx="315.9" cy="64.2" r="0.95"/>
<circle cx="317.7" cy="63.6" r="0.95"/>
<circle cx="316.7" cy="61.2" r="0.95"/>
<circle cx="318.0" cy="61.7" r="0.95"/>
<circle cx="315.3" cy="61.8" r="0.95"/>
<circle cx="317.2" cy="61.6" r="0.95"/>
<circle cx="317.0" cy="63.8" r="0.95"/>
<circle cx="316.5" cy="62.5" r="0.95"/>
<circle cx="317.3" cy="64.9" r="0.95"/>
<circle cx="315.6" cy="61.5" r="0.95"/>
<circle cx="315.3" cy="61.7" r="0.95"/>
<circle cx="315.9" cy="62.8" r="0.95"/>
<circle cx="312.6" cy="65.1" r="0.95"/>
<circle cx="315.0" cy="62.4" r="0.95"/>
<circle cx="313.2" cy="60.1" r="0.95"/>
<circle cx="314.7" cy="63.3" r="0.95"/>
<circle cx="317.7" cy="60.4" r="0.95"/>
<circle cx="317.0" cy="70.7" r="0.95"/>
<circle cx="320.7" cy="71.5" r="0.95"/>
<circle cx="329.8" cy="68.0" r="0.95"/>
<circle cx="329.6" cy="67.2" r="0.95"/>
<circle cx="331.2" cy="66.0" r="0.95"/>
<circle cx="328.3" cy="68.9" r="0.95"/>
<circle cx="328.6" cy="66.6" r="0.95"/>
<circle cx="321.2" cy="68.2" r="0.95"/>
<circle cx="317.3" cy="72.0" r="0.95"/>
<circle cx="325.5" cy="68.3" r="0.95"/>
<circle cx="316.4" cy="71.7" r="0.95"/>
<circle cx="325.0" cy="68.4" r="0.95"/>
<circle cx="329.2" cy="67.3" r="0.95"/>
<circle cx="323.9" cy="68.1" r="0.95"/>
<circle cx="325.7" cy="68.9" r="0.95"/>
<circle cx="316.5" cy="69.0" r="0.95"/>
<circle cx="325.7" cy="69.6" r="0.95"/>
<circle cx="320.6" cy="69.5" r="0.95"/>
<circle cx="322.5" cy="67.1" r="0.95"/>
<circle cx="326.2" cy="68.8" r="0.95"/>
<circle cx="319.2" cy="72.0" r="0.95"/>
<circle cx="329.1" cy="67.3" r="0.95"/>
<circle cx="316.3" cy="71.6" r="0.95"/>
<circle cx="316.7" cy="73.2" r="0.95"/>
<circle cx="325.7" cy="69.3" r="0.95"/>
<circle cx="317.2" cy="71.7" r="0.95"/>
<circle cx="326.2" cy="68.5" r="0.95"/>
<circle cx="327.0" cy="68.7" r="0.95"/>
<circle cx="315.3" cy="74.1" r="0.95"/>
<circle cx="314.0" cy="72.5" r="0.95"/>
<circle cx="330.1" cy="68.2" r="0.95"/>
<circle cx="327.8" cy="65.8" r="0.95"/>
<circle cx="313.3" cy="73.5" r="0.95"/>
<circle cx="321.5" cy="69.2" r="0.95"/>
<circle cx="324.9" cy="69.3" r="0.95"/>
<circle cx="330.5" cy="67.7" r="0.95"/>
<circle cx="325.3" cy="68.6" r="0.95"/>
<circle cx="320.6" cy="68.9" r="0.95"/>
<circle cx="319.4" cy="71.0" r="0.95"/>
<circle cx="330.8" cy="66.3" r="0.95"/>
<circle cx="319.8" cy="71.5" r="0.95"/>
<circle cx="320.5" cy="70.1" r="0.95"/>
<circle cx="320.8" cy="69.0" r="0.95"/>
<circle cx="325.5" cy="68.9" r="0.95"/>
<circle cx="316.2" cy="71.3" r="0.95"/>
<circle cx="318.6" cy="70.2" r="0.95"/>
<circle cx="313.0" cy="70.0" r="0.95"/>
<circle cx="316.7" cy="69.9" r="0.95"/>
<circle cx="317.9" cy="71.1" r="0.95"/>
<circle cx="328.0" cy="67.6" r="0.95"/>
<circle cx="325.1" cy="68.5" r="0.95"/>
<circle cx="317.6" cy="71.1" r="0.95"/>
<circle cx="331.1" cy="68.1" r="0.95"/>
<circle cx="314.0" cy="72.3" r="0.95"/>
<circle cx="316.0" cy="73.1" r="0.95"/>
<circle cx="329.2" cy="67.5" r="0.95"/>
<circle cx="329.6" cy="68.5" r="0.95"/>
<circle cx="329.8" cy="66.6" r="0.95"/>
<circle cx="330.5" cy="65.1" r="0.95"/>
<circle cx="326.4" cy="68.1" r="0.95"/>
<circle cx="336.9" cy="62.1" r="0.95"/>
<circle cx="333.2" cy="63.4" r="0.95"/>
<circle cx="336.0" cy="59.4" r="0.95"/>
<circle cx="336.6" cy="63.8" r="0.95"/>
<circle cx="333.5" cy="58.7" r="0.95"/>
<circle cx="336.5" cy="60.8" r="0.95"/>
<circle cx="333.5" cy="60.9" r="0.95"/>
<circle cx="333.4" cy="63.3" r="0.95"/>
<circle cx="331.5" cy="62.6" r="0.95"/>
<circle cx="336.6" cy="63.7" r="0.95"/>
<circle cx="335.7" cy="62.1" r="0.95"/>
<circle cx="333.6" cy="61.3" r="0.95"/>
<circle cx="332.0" cy="65.0" r="0.95"/>
<circle cx="333.7" cy="59.4" r="0.95"/>
<circle cx="335.9" cy="64.7" r="0.95"/>
<circle cx="334.6" cy="60.8" r="0.95"/>
<circle cx="331.5" cy="62.9" r="0.95"/>
<circle cx="333.5" cy="60.1" r="0.95"/>
<circle cx="335.4" cy="58.8" r="0.95"/>
<circle cx="335.7" cy="56.4" r="0.95"/>
<circle cx="332.6" cy="58.5" r="0.95"/>
<circle cx="333.5" cy="63.2" r="0.95"/>
<circle cx="331.1" cy="64.4" r="0.95"/>
<circle cx="332.5" cy="60.5" r="0.95"/>
<circle cx="336.3" cy="60.0" r="0.95"/>
<circle cx="337.3" cy="61.1" r="0.95"/>
<circle cx="333.8" cy="59.5" r="0.95"/>
<circle cx="336.6" cy="61.4" r="0.95"/>
<circle cx="332.9" cy="59.5" r="0.95"/>
<circle cx="332.6" cy="61.3" r="0.95"/>
<circle cx="332.4" cy="63.2" r="0.95"/>
<circle cx="333.9" cy="60.2" r="0.95"/>
<circle cx="335.1" cy="64.5" r="0.95"/>
<circle cx="329.3" cy="62.3" r="0.95"/>
<circle cx="336.5" cy="61.8" r="0.95"/>
<circle cx="335.9" cy="58.3" r="0.95"/>
<circle cx="332.3" cy="63.6" r="0.95"/>
<circle cx="333.8" cy="61.6" r="0.95"/>
<circle cx="335.4" cy="62.3" r="0.95"/>
<circle cx="335.0" cy="60.5" r="0.95"/>
<circle cx="333.4" cy="64.2" r="0.95"/>
<circle cx="332.9" cy="58.5" r="0.95"/>
<circle cx="333.2" cy="63.4" r="0.95"/>
<circle cx="338.1" cy="61.8" r="0.95"/>
<circle cx="332.6" cy="62.8" r="0.95"/>
<circle cx="334.7" cy="64.0" r="0.95"/>
<circle cx="335.2" cy="63.1" r="0.95"/>
<circle cx="335.2" cy="62.4" r="0.95"/>
<circle cx="332.0" cy="61.2" r="0.95"/>
<circle cx="337.6" cy="64.3" r="0.95"/>
<circle cx="336.2" cy="62.3" r="0.95"/>
<circle cx="333.8" cy="62.2" r="0.95"/>
<circle cx="333.3" cy="63.8" r="0.95"/>
<circle cx="333.3" cy="59.9" r="0.95"/>
<circle cx="330.4" cy="64.7" r="0.95"/>
<circle cx="332.3" cy="59.7" r="0.95"/>
<circle cx="335.0" cy="65.3" r="0.95"/>
<circle cx="335.5" cy="60.8" r="0.95"/>
<circle cx="335.3" cy="59.8" r="0.95"/>
<circle cx="333.5" cy="61.6" r="0.95"/>
<circle cx="334.8" cy="57.7" r="0.95"/>
<circle cx="333.4" cy="56.7" r="0.95"/>
<circle cx="335.7" cy="56.3" r="0.95"/>
<circle cx="334.5" cy="56.0" r="0.95"/>
<circle cx="334.1" cy="56.0" r="0.95"/>
<circle cx="335.3" cy="57.4" r="0.95"/>
<circle cx="335.1" cy="57.3" r="0.95"/>
<circle cx="335.2" cy="55.9" r="0.95"/>
<circle cx="338.3" cy="68.9" r="0.95"/>
<circle cx="337.3" cy="68.8" r="0.95"/>
<circle cx="334.5" cy="68.1" r="0.95"/>
<circle cx="336.6" cy="67.8" r="0.95"/>
<circle cx="336.5" cy="68.3" r="0.95"/>
<circle cx="336.5" cy="68.0" r="0.95"/>
<circle cx="337.2" cy="68.8" r="0.95"/>
<circle cx="336.8" cy="58.1" r="0.95"/>
<circle cx="338.6" cy="57.8" r="0.95"/>
<circle cx="338.9" cy="60.6" r="0.95"/>
<circle cx="337.8" cy="61.9" r="0.95"/>
<circle cx="340.2" cy="60.4" r="0.95"/>
<circle cx="339.1" cy="60.6" r="0.95"/>
<circle cx="338.2" cy="61.7" r="0.95"/>
<circle cx="337.9" cy="56.7" r="0.95"/>
<circle cx="338.6" cy="60.6" r="0.95"/>
<circle cx="339.5" cy="58.5" r="0.95"/>
</g>
<line x1="34.5" y1="110.2" x2="358.5" y2="110.2" stroke="#b99d8f" stroke-width="0.75" stroke-dasharray="1 1.25"/>
<line x1="38.5" y1="120.2" x2="358.5" y2="120.2" stroke="#b99d8f" stroke-width="0.75" stroke-dasharray="1 1.25"/>
<text x="49.3" y="117.4" font-size="8.6" fill="#8b4a1c" text-anchor="start" font-weight="bold" font-style="normal">Miocene paleoelevation</text>
<rect x="80.3" y="160.3" width="11.3" height="50.7" fill="#dad3a9" fill-opacity="0.45" stroke="#858585" stroke-width="0.8"/>
<path d="M82.5,206.8 C81.3,204.5 81.6,201.6 83.2,200.2 C85.5,198.9 88.5,199.3 90.6,198.2 C90.9,200.8 90.2,204.2 87.6,206.4 C86.0,207.6 83.8,207.6 82.5,206.8 Z" fill="#111"/><path d="M80.9,207.9 L82.9,206.1" stroke="#111" stroke-width="0.9"/><path d="M82.6,206.3 L86.6,202.2" stroke="#77756a" stroke-width="0.5"/>
<rect x="290.5" y="45.5" width="23.2" height="54.8" fill="none" stroke="#8c8cd3" stroke-width="0.8"/>
<line x1="310.8" y1="45.5" x2="310.8" y2="100.3" stroke="#8585cf" stroke-width="1.6"/>
<line x1="271.6" y1="72.6" x2="290.5" y2="72.6" stroke="#7d7dcc" stroke-width="0.9"/>
<line x1="313.7" y1="72.6" x2="318.4" y2="72.6" stroke="#7d7dcc" stroke-width="0.9"/>
<g fill="#3b3ba8">
<circle cx="255.6" cy="72.8" r="0.85"/>
<circle cx="271.7" cy="72.8" r="0.85"/>
<circle cx="290.6" cy="71.6" r="0.85"/>
<circle cx="299" cy="73.6" r="0.85"/>
<circle cx="311.6" cy="69.8" r="0.85"/>
<circle cx="311.3" cy="73.4" r="0.85"/>
<circle cx="313.6" cy="74.6" r="0.85"/>
<circle cx="316.6" cy="75.6" r="0.85"/>
<circle cx="318.5" cy="71.6" r="0.85"/>
</g>
<text x="251.3" y="52.0" font-size="9.33" fill="#3a3aa6" text-anchor="end" font-weight="normal" font-style="normal">Western slope</text>
<text x="251.3" y="61.85" font-size="9.33" fill="#3a3aa6" text-anchor="end" font-weight="normal" font-style="normal">Holocene MAP</text>
<text x="251.3" y="71.7" font-size="9.33" fill="#3a3aa6" text-anchor="end" font-weight="normal" font-style="normal">μ: 745.1 mm</text>
<rect x="269" y="110.7" width="58" height="9.2" fill="#ede9bd" fill-opacity="0.8"/>
<rect x="296.4" y="110.7" width="23.4" height="9.2" fill="#e2dc9c" fill-opacity="0.85" stroke="#c4b95c" stroke-width="0.7"/>
<line x1="306.3" y1="110.7" x2="306.3" y2="119.9" stroke="#b3a437" stroke-width="1.2"/>
<line x1="269" y1="115" x2="296.4" y2="115" stroke="#b9ab45" stroke-width="0.8"/>
<line x1="319.8" y1="115" x2="327" y2="115" stroke="#b9ab45" stroke-width="0.8"/>
<g fill="#a3942a">
<circle cx="270" cy="115" r="0.8"/>
<circle cx="286.3" cy="115" r="0.8"/>
<circle cx="296.6" cy="114" r="0.8"/>
<circle cx="298" cy="116.6" r="0.8"/>
<circle cx="319" cy="114" r="0.8"/>
<circle cx="319.6" cy="117" r="0.8"/>
<circle cx="323.6" cy="112.6" r="0.8"/>
<circle cx="327" cy="115" r="0.8"/>
</g>
<text x="302.3" y="130.9" font-size="9.33" fill="#b3a03a" text-anchor="middle" font-weight="normal" font-style="normal">Western slope</text>
<text x="302.3" y="140.6" font-size="9.33" fill="#b3a03a" text-anchor="middle" font-weight="normal" font-style="normal">Miocene MAP</text>
<text x="302.3" y="150.3" font-size="9.33" fill="#b3a03a" text-anchor="middle" font-weight="normal" font-style="normal">μ: 772.2 mm</text>
<text x="92.6" y="199.4" font-size="9.33" fill="#a39030" text-anchor="start" font-weight="normal" font-style="normal">Coastal Miocene MAP</text>
<text x="92.6" y="209.6" font-size="9.33" fill="#a39030" text-anchor="start" font-weight="normal" font-style="normal">36.2 ± 4 mm</text>
<text x="322.2" y="91.8" font-size="9.33" fill="#4a4a4a" text-anchor="start" font-weight="normal" font-style="italic">p-value:</text>
<text x="322.2" y="101.9" font-size="9.33" fill="#4a4a4a" text-anchor="start" font-weight="normal" font-style="normal">0.527</text>
<line x1="43.6" y1="39.3" x2="146.8" y2="39.3" stroke="#c0c0c0" stroke-width="0.8"/>
<line x1="148.1" y1="39.3" x2="359" y2="39.3" stroke="#c0c0c0" stroke-width="0.8"/>
<line x1="44" y1="35.2" x2="44" y2="39.6" stroke="#c0c0c0" stroke-width="0.8"/>
<line x1="95.7" y1="35.2" x2="95.7" y2="39.6" stroke="#c0c0c0" stroke-width="0.8"/>
<line x1="146.4" y1="35.2" x2="146.4" y2="39.6" stroke="#c0c0c0" stroke-width="0.8"/>
<line x1="147.6" y1="35.2" x2="147.6" y2="39.6" stroke="#c0c0c0" stroke-width="0.8"/>
<line x1="171.82" y1="35.2" x2="171.82" y2="39.6" stroke="#c0c0c0" stroke-width="0.8"/>
<line x1="195.14000000000001" y1="35.2" x2="195.14000000000001" y2="39.6" stroke="#c0c0c0" stroke-width="0.8"/>
<line x1="218.46" y1="35.2" x2="218.46" y2="39.6" stroke="#c0c0c0" stroke-width="0.8"/>
<line x1="241.78" y1="35.2" x2="241.78" y2="39.6" stroke="#c0c0c0" stroke-width="0.8"/>
<line x1="265.1" y1="35.2" x2="265.1" y2="39.6" stroke="#c0c0c0" stroke-width="0.8"/>
<line x1="288.42" y1="35.2" x2="288.42" y2="39.6" stroke="#c0c0c0" stroke-width="0.8"/>
<line x1="311.74" y1="35.2" x2="311.74" y2="39.6" stroke="#c0c0c0" stroke-width="0.8"/>
<line x1="335.06000000000006" y1="35.2" x2="335.06000000000006" y2="39.6" stroke="#c0c0c0" stroke-width="0.8"/>
<line x1="358.38" y1="35.2" x2="358.38" y2="39.6" stroke="#c0c0c0" stroke-width="0.8"/>
<line x1="43.6" y1="214.4" x2="146.8" y2="214.4" stroke="#c0c0c0" stroke-width="0.8"/>
<line x1="148.1" y1="214.4" x2="359" y2="214.4" stroke="#c0c0c0" stroke-width="0.8"/>
<line x1="44" y1="214.1" x2="44" y2="218.8" stroke="#c0c0c0" stroke-width="0.8"/>
<line x1="95.7" y1="214.1" x2="95.7" y2="218.8" stroke="#c0c0c0" stroke-width="0.8"/>
<line x1="146.4" y1="214.1" x2="146.4" y2="218.8" stroke="#c0c0c0" stroke-width="0.8"/>
<line x1="147.6" y1="214.1" x2="147.6" y2="218.8" stroke="#c0c0c0" stroke-width="0.8"/>
<line x1="171.82" y1="214.1" x2="171.82" y2="218.8" stroke="#c0c0c0" stroke-width="0.8"/>
<line x1="195.14000000000001" y1="214.1" x2="195.14000000000001" y2="218.8" stroke="#c0c0c0" stroke-width="0.8"/>
<line x1="218.46" y1="214.1" x2="218.46" y2="218.8" stroke="#c0c0c0" stroke-width="0.8"/>
<line x1="241.78" y1="214.1" x2="241.78" y2="218.8" stroke="#c0c0c0" stroke-width="0.8"/>
<line x1="265.1" y1="214.1" x2="265.1" y2="218.8" stroke="#c0c0c0" stroke-width="0.8"/>
<line x1="288.42" y1="214.1" x2="288.42" y2="218.8" stroke="#c0c0c0" stroke-width="0.8"/>
<line x1="311.74" y1="214.1" x2="311.74" y2="218.8" stroke="#c0c0c0" stroke-width="0.8"/>
<line x1="335.06000000000006" y1="214.1" x2="335.06000000000006" y2="218.8" stroke="#c0c0c0" stroke-width="0.8"/>
<line x1="358.38" y1="214.1" x2="358.38" y2="218.8" stroke="#c0c0c0" stroke-width="0.8"/>
<text x="44.6" y="33" font-size="9.33" fill="#a8a8a8" text-anchor="middle" font-weight="normal" font-style="normal">0</text>
<text x="147.6" y="33" font-size="9.33" fill="#a8a8a8" text-anchor="middle" font-weight="normal" font-style="normal">100</text>
<text x="147.6" y="230.6" font-size="9.33" fill="#a8a8a8" text-anchor="middle" font-weight="normal" font-style="normal">100</text>
<text x="172.02" y="33" font-size="9.33" fill="#a8a8a8" text-anchor="middle" font-weight="normal" font-style="normal">200</text>
<text x="172.02" y="230.6" font-size="9.33" fill="#a8a8a8" text-anchor="middle" font-weight="normal" font-style="normal">200</text>
<text x="218.66000000000003" y="33" font-size="9.33" fill="#a8a8a8" text-anchor="middle" font-weight="normal" font-style="normal">400</text>
<text x="218.66000000000003" y="230.6" font-size="9.33" fill="#a8a8a8" text-anchor="middle" font-weight="normal" font-style="normal">400</text>
<text x="265.3" y="33" font-size="9.33" fill="#a8a8a8" text-anchor="middle" font-weight="normal" font-style="normal">600</text>
<text x="265.3" y="230.6" font-size="9.33" fill="#a8a8a8" text-anchor="middle" font-weight="normal" font-style="normal">600</text>
<text x="311.94" y="33" font-size="9.33" fill="#a8a8a8" text-anchor="middle" font-weight="normal" font-style="normal">800</text>
<text x="311.94" y="230.6" font-size="9.33" fill="#a8a8a8" text-anchor="middle" font-weight="normal" font-style="normal">800</text>
<text x="358.58" y="33" font-size="9.33" fill="#a8a8a8" text-anchor="middle" font-weight="normal" font-style="normal">1000</text>
<text x="358.58" y="230.6" font-size="9.33" fill="#a8a8a8" text-anchor="middle" font-weight="normal" font-style="normal">1000</text>
<text x="216.5" y="14.8" font-size="9.33" fill="#858585" text-anchor="middle" font-weight="normal" font-style="normal">MAP (mm)</text>
<text x="53.2" y="229.3" font-size="9.33" fill="#6e6e6e" text-anchor="middle" font-weight="normal" font-style="normal">Modern MAP</text>
<text x="53" y="239.3" font-size="9.33" fill="#6e6e6e" text-anchor="middle" font-weight="normal" font-style="normal">9 mm ± 9</text>
<line x1="38.2" y1="42.2" x2="38.2" y2="211.1" stroke="#c0c0c0" stroke-width="0.8"/>
<line x1="34.1" y1="210.8" x2="38.5" y2="210.8" stroke="#c0c0c0" stroke-width="0.8"/>
<line x1="34.1" y1="177.14000000000001" x2="38.5" y2="177.14000000000001" stroke="#c0c0c0" stroke-width="0.8"/>
<line x1="34.1" y1="143.48000000000002" x2="38.5" y2="143.48000000000002" stroke="#c0c0c0" stroke-width="0.8"/>
<line x1="34.1" y1="109.82000000000001" x2="38.5" y2="109.82000000000001" stroke="#c0c0c0" stroke-width="0.8"/>
<line x1="34.1" y1="76.16" x2="38.5" y2="76.16" stroke="#c0c0c0" stroke-width="0.8"/>
<line x1="34.1" y1="42.5" x2="38.5" y2="42.5" stroke="#c0c0c0" stroke-width="0.8"/>
<text x="28.9" y="210.8" font-size="9.33" fill="#a8a8a8" text-anchor="middle" font-weight="normal" font-style="normal" transform="rotate(-90 28.9 210.8)">0</text>
<text x="28.9" y="143.48000000000002" font-size="9.33" fill="#a8a8a8" text-anchor="middle" font-weight="normal" font-style="normal" transform="rotate(-90 28.9 143.48000000000002)">2000</text>
<text x="28.9" y="76.16" font-size="9.33" fill="#a8a8a8" text-anchor="middle" font-weight="normal" font-style="normal" transform="rotate(-90 28.9 76.16)">4000</text>
<text x="12.0" y="119" font-size="9.33" fill="#858585" text-anchor="middle" font-weight="normal" font-style="normal" transform="rotate(-90 12.0 119)">Elevation (masl)</text>
<line x1="358.6" y1="42.2" x2="358.6" y2="211" stroke="#b4b4b4" stroke-width="0.9"/>
<line x1="374.4" y1="42.2" x2="374.4" y2="211.1" stroke="#c0c0c0" stroke-width="0.8"/>
<line x1="374.1" y1="210.8" x2="380" y2="210.8" stroke="#c0c0c0" stroke-width="0.8"/>
<line x1="374.1" y1="177.14000000000001" x2="380" y2="177.14000000000001" stroke="#c0c0c0" stroke-width="0.8"/>
<line x1="374.1" y1="143.48000000000002" x2="380" y2="143.48000000000002" stroke="#c0c0c0" stroke-width="0.8"/>
<line x1="374.1" y1="109.82000000000001" x2="380" y2="109.82000000000001" stroke="#c0c0c0" stroke-width="0.8"/>
<line x1="374.1" y1="76.16" x2="380" y2="76.16" stroke="#c0c0c0" stroke-width="0.8"/>
<line x1="374.1" y1="42.5" x2="380" y2="42.5" stroke="#c0c0c0" stroke-width="0.8"/>
<text x="389.9" y="210.8" font-size="9.33" fill="#a8a8a8" text-anchor="middle" font-weight="normal" font-style="normal" transform="rotate(-90 389.9 210.8)">0</text>
<text x="389.9" y="143.48000000000002" font-size="9.33" fill="#a8a8a8" text-anchor="middle" font-weight="normal" font-style="normal" transform="rotate(-90 389.9 143.48000000000002)">2000</text>
<text x="389.9" y="76.16" font-size="9.33" fill="#a8a8a8" text-anchor="middle" font-weight="normal" font-style="normal" transform="rotate(-90 389.9 76.16)">4000</text>
<text x="368.4" y="66.3" font-size="9.33" fill="#636363" text-anchor="middle" font-weight="normal" font-style="normal" transform="rotate(-90 368.4 66.3)">Altiplano</text>
<text x="368.4" y="130" font-size="9.33" fill="#636363" text-anchor="middle" font-weight="normal" font-style="normal" transform="rotate(-90 368.4 130)">Slope</text>
<text x="368.4" y="188.5" font-size="9.33" fill="#636363" text-anchor="middle" font-weight="normal" font-style="normal" transform="rotate(-90 368.4 188.5)">Lowlands</text>
<text x="5.3" y="12.6" font-size="9.33" fill="#555" text-anchor="start" font-weight="bold" font-style="normal">A.</text>
<rect x="466.4" y="40.6" width="6.3" height="101.9" fill="#efecd9"/>
<rect x="437" y="176.5" width="7.9" height="34" fill="#e6e8e8"/>
<g fill="#56c8fb">
<circle cx="479.1" cy="192.8" r="0.88"/>
<circle cx="450.7" cy="170.2" r="0.88"/>
<circle cx="453.9" cy="175.8" r="0.88"/>
<circle cx="456.3" cy="202.1" r="0.88"/>
<circle cx="478.3" cy="159.1" r="0.88"/>
<circle cx="482.0" cy="208.6" r="0.88"/>
<circle cx="459.9" cy="203.0" r="0.88"/>
<circle cx="480.1" cy="194.0" r="0.88"/>
<circle cx="459.1" cy="187.3" r="0.88"/>
<circle cx="473.6" cy="168.7" r="0.88"/>
<circle cx="463.1" cy="152.7" r="0.88"/>
<circle cx="451.6" cy="197.9" r="0.88"/>
<circle cx="457.1" cy="192.0" r="0.88"/>
<circle cx="461.5" cy="192.5" r="0.88"/>
<circle cx="456.3" cy="152.6" r="0.88"/>
<circle cx="470.0" cy="163.4" r="0.88"/>
<circle cx="453.4" cy="176.7" r="0.88"/>
<circle cx="463.9" cy="204.0" r="0.88"/>
<circle cx="471.1" cy="174.9" r="0.88"/>
<circle cx="461.9" cy="185.4" r="0.88"/>
<circle cx="450.7" cy="166.1" r="0.88"/>
<circle cx="467.7" cy="207.1" r="0.88"/>
<circle cx="467.6" cy="160.4" r="0.88"/>
<circle cx="480.8" cy="198.0" r="0.88"/>
<circle cx="454.0" cy="170.6" r="0.88"/>
<circle cx="447.2" cy="195.8" r="0.88"/>
<circle cx="453.9" cy="199.9" r="0.88"/>
<circle cx="471.8" cy="196.7" r="0.88"/>
<circle cx="466.3" cy="162.5" r="0.88"/>
<circle cx="447.3" cy="185.0" r="0.88"/>
<circle cx="446.5" cy="180.2" r="0.88"/>
<circle cx="473.9" cy="156.0" r="0.88"/>
<circle cx="461.7" cy="181.6" r="0.88"/>
<circle cx="451.4" cy="159.9" r="0.88"/>
<circle cx="468.0" cy="158.1" r="0.88"/>
<circle cx="451.5" cy="161.1" r="0.88"/>
<circle cx="479.7" cy="204.4" r="0.88"/>
<circle cx="450.0" cy="183.7" r="0.88"/>
<circle cx="460.8" cy="149.0" r="0.88"/>
<circle cx="455.0" cy="188.6" r="0.88"/>
<circle cx="446.7" cy="208.3" r="0.88"/>
<circle cx="456.3" cy="169.3" r="0.88"/>
<circle cx="480.2" cy="155.9" r="0.88"/>
<circle cx="450.7" cy="177.2" r="0.88"/>
<circle cx="457.3" cy="167.4" r="0.88"/>
<circle cx="467.0" cy="207.8" r="0.88"/>
<circle cx="460.9" cy="149.8" r="0.88"/>
<circle cx="459.4" cy="201.6" r="0.88"/>
<circle cx="461.6" cy="150.9" r="0.88"/>
<circle cx="455.0" cy="161.5" r="0.88"/>
<circle cx="458.6" cy="167.4" r="0.88"/>
<circle cx="470.2" cy="193.0" r="0.88"/>
<circle cx="447.6" cy="156.3" r="0.88"/>
<circle cx="475.6" cy="203.0" r="0.88"/>
<circle cx="474.4" cy="158.3" r="0.88"/>
<circle cx="470.9" cy="151.8" r="0.88"/>
<circle cx="470.3" cy="161.2" r="0.88"/>
<circle cx="476.2" cy="201.0" r="0.88"/>
<circle cx="462.8" cy="193.4" r="0.88"/>
<circle cx="480.0" cy="204.2" r="0.88"/>
<circle cx="469.3" cy="186.4" r="0.88"/>
<circle cx="458.8" cy="190.7" r="0.88"/>
<circle cx="451.1" cy="176.3" r="0.88"/>
<circle cx="449.1" cy="152.9" r="0.88"/>
<circle cx="470.0" cy="174.3" r="0.88"/>
<circle cx="453.5" cy="207.7" r="0.88"/>
<circle cx="456.5" cy="181.5" r="0.88"/>
<circle cx="463.6" cy="158.8" r="0.88"/>
<circle cx="481.8" cy="195.5" r="0.88"/>
<circle cx="478.1" cy="166.2" r="0.88"/>
<circle cx="478.8" cy="205.2" r="0.88"/>
<circle cx="479.9" cy="158.4" r="0.88"/>
<circle cx="451.6" cy="152.3" r="0.88"/>
<circle cx="449.2" cy="191.9" r="0.88"/>
<circle cx="447.8" cy="176.7" r="0.88"/>
<circle cx="458.8" cy="193.6" r="0.88"/>
<circle cx="447.7" cy="193.1" r="0.88"/>
<circle cx="480.5" cy="166.0" r="0.88"/>
<circle cx="460.5" cy="194.4" r="0.88"/>
<circle cx="457.0" cy="201.2" r="0.88"/>
<circle cx="481.9" cy="161.2" r="0.88"/>
<circle cx="462.9" cy="156.4" r="0.88"/>
<circle cx="466.1" cy="172.2" r="0.88"/>
<circle cx="481.0" cy="193.5" r="0.88"/>
<circle cx="481.7" cy="198.9" r="0.88"/>
<circle cx="475.7" cy="171.5" r="0.88"/>
<circle cx="469.9" cy="154.2" r="0.88"/>
<circle cx="458.5" cy="206.0" r="0.88"/>
<circle cx="481.3" cy="158.1" r="0.88"/>
<circle cx="463.8" cy="172.9" r="0.88"/>
<circle cx="506.2" cy="185.0" r="0.88"/>
<circle cx="492.2" cy="203.3" r="0.88"/>
<circle cx="499.6" cy="196.6" r="0.88"/>
<circle cx="510.2" cy="209.7" r="0.88"/>
<circle cx="502.1" cy="184.7" r="0.88"/>
<circle cx="512.1" cy="161.7" r="0.88"/>
<circle cx="483.8" cy="199.0" r="0.88"/>
<circle cx="509.1" cy="195.0" r="0.88"/>
<circle cx="513.2" cy="159.8" r="0.88"/>
<circle cx="516.2" cy="188.0" r="0.88"/>
<circle cx="518.8" cy="182.6" r="0.88"/>
<circle cx="515.8" cy="150.6" r="0.88"/>
<circle cx="488.5" cy="182.4" r="0.88"/>
<circle cx="508.0" cy="171.7" r="0.88"/>
<circle cx="484.8" cy="203.7" r="0.88"/>
<circle cx="484.8" cy="203.9" r="0.88"/>
<circle cx="491.1" cy="192.2" r="0.88"/>
<circle cx="505.1" cy="162.1" r="0.88"/>
<circle cx="494.8" cy="162.4" r="0.88"/>
<circle cx="502.8" cy="164.8" r="0.88"/>
<circle cx="503.2" cy="165.0" r="0.88"/>
<circle cx="486.7" cy="191.6" r="0.88"/>
<circle cx="492.2" cy="207.7" r="0.88"/>
<circle cx="497.8" cy="163.8" r="0.88"/>
<circle cx="510.0" cy="204.7" r="0.88"/>
<circle cx="496.4" cy="193.9" r="0.88"/>
<circle cx="494.9" cy="210.6" r="0.88"/>
<circle cx="493.7" cy="149.3" r="0.88"/>
<circle cx="482.2" cy="181.7" r="0.88"/>
<circle cx="506.4" cy="165.3" r="0.88"/>
<circle cx="498.1" cy="173.2" r="0.88"/>
<circle cx="496.2" cy="159.1" r="0.88"/>
<circle cx="503.2" cy="189.6" r="0.88"/>
<circle cx="483.1" cy="203.4" r="0.88"/>
<circle cx="439.4" cy="192.9" r="0.88"/>
<circle cx="439.1" cy="199.6" r="0.88"/>
<circle cx="440.4" cy="196.5" r="0.88"/>
<circle cx="440.5" cy="194.0" r="0.88"/>
<circle cx="438.2" cy="209.9" r="0.88"/>
<circle cx="440.6" cy="188.1" r="0.88"/>
<circle cx="443.5" cy="186.9" r="0.88"/>
<circle cx="443.1" cy="191.2" r="0.88"/>
<circle cx="438.4" cy="196.2" r="0.88"/>
<circle cx="439.6" cy="183.7" r="0.88"/>
<circle cx="444.5" cy="208.4" r="0.88"/>
<circle cx="440.9" cy="204.1" r="0.88"/>
<circle cx="442.3" cy="187.1" r="0.88"/>
<circle cx="438.5" cy="196.5" r="0.88"/>
<circle cx="438.9" cy="202.3" r="0.88"/>
<circle cx="441.8" cy="184.4" r="0.88"/>
<circle cx="443.0" cy="209.4" r="0.88"/>
<circle cx="441.0" cy="209.5" r="0.88"/>
<circle cx="440.7" cy="177.6" r="0.88"/>
<circle cx="440.8" cy="188.8" r="0.88"/>
<circle cx="444.0" cy="194.5" r="0.88"/>
<circle cx="444.3" cy="182.4" r="0.88"/>
<circle cx="440.3" cy="177.5" r="0.88"/>
<circle cx="438.0" cy="200.8" r="0.88"/>
<circle cx="437.8" cy="184.4" r="0.88"/>
<circle cx="440.6" cy="207.8" r="0.88"/>
<circle cx="439.3" cy="177.1" r="0.88"/>
<circle cx="442.5" cy="200.3" r="0.88"/>
<circle cx="438.6" cy="208.1" r="0.88"/>
<circle cx="443.7" cy="208.4" r="0.88"/>
<circle cx="443.4" cy="195.3" r="0.88"/>
<circle cx="442.5" cy="181.2" r="0.88"/>
<circle cx="442.1" cy="188.9" r="0.88"/>
<circle cx="440.0" cy="187.5" r="0.88"/>
<circle cx="438.2" cy="204.2" r="0.88"/>
<circle cx="443.0" cy="177.3" r="0.88"/>
<circle cx="441.2" cy="177.8" r="0.88"/>
<circle cx="441.4" cy="182.6" r="0.88"/>
<circle cx="444.3" cy="187.7" r="0.88"/>
<circle cx="441.3" cy="185.8" r="0.88"/>
<circle cx="443.9" cy="177.3" r="0.88"/>
<circle cx="439.7" cy="184.6" r="0.88"/>
<circle cx="442.8" cy="189.5" r="0.88"/>
<circle cx="443.6" cy="188.0" r="0.88"/>
<circle cx="438.5" cy="192.2" r="0.88"/>
<circle cx="438.2" cy="182.1" r="0.88"/>
<circle cx="441.3" cy="196.2" r="0.88"/>
<circle cx="439.1" cy="183.0" r="0.88"/>
<circle cx="441.3" cy="191.9" r="0.88"/>
<circle cx="441.0" cy="199.5" r="0.88"/>
<circle cx="438.6" cy="177.4" r="0.88"/>
<circle cx="438.1" cy="203.6" r="0.88"/>
<circle cx="442.5" cy="182.1" r="0.88"/>
<circle cx="439.9" cy="187.3" r="0.88"/>
<circle cx="444.1" cy="190.8" r="0.88"/>
<circle cx="442.6" cy="179.9" r="0.88"/>
<circle cx="437.9" cy="184.5" r="0.88"/>
<circle cx="442.1" cy="192.0" r="0.88"/>
<circle cx="443.7" cy="204.5" r="0.88"/>
<circle cx="442.3" cy="210.4" r="0.88"/>
<circle cx="444.3" cy="206.6" r="0.88"/>
<circle cx="438.2" cy="190.4" r="0.88"/>
<circle cx="438.6" cy="197.5" r="0.88"/>
<circle cx="441.1" cy="180.1" r="0.88"/>
<circle cx="438.2" cy="192.6" r="0.88"/>
<circle cx="442.0" cy="190.6" r="0.88"/>
<circle cx="440.9" cy="198.2" r="0.88"/>
<circle cx="442.5" cy="200.7" r="0.88"/>
<circle cx="440.5" cy="182.8" r="0.88"/>
<circle cx="443.7" cy="178.4" r="0.88"/>
<circle cx="440.6" cy="155.3" r="0.88"/>
<circle cx="446.2" cy="167.4" r="0.88"/>
<circle cx="439.0" cy="164.4" r="0.88"/>
<circle cx="445.9" cy="169.2" r="0.88"/>
<circle cx="438.7" cy="170.4" r="0.88"/>
<circle cx="441.5" cy="160.8" r="0.88"/>
<circle cx="439.4" cy="173.6" r="0.88"/>
<circle cx="446.5" cy="172.8" r="0.88"/>
<circle cx="445.0" cy="153.1" r="0.88"/>
<circle cx="443.4" cy="152.2" r="0.88"/>
<circle cx="439.0" cy="172.6" r="0.88"/>
<circle cx="437.6" cy="160.9" r="0.88"/>
<circle cx="438.2" cy="171.4" r="0.88"/>
<circle cx="451.9" cy="150.9" r="0.88"/>
<circle cx="442.8" cy="177.3" r="0.88"/>
<circle cx="441.2" cy="158.7" r="0.88"/>
<circle cx="451.8" cy="175.8" r="0.88"/>
<circle cx="443.2" cy="168.8" r="0.88"/>
<circle cx="449.0" cy="159.9" r="0.88"/>
<circle cx="437.6" cy="160.5" r="0.88"/>
<circle cx="447.6" cy="177.0" r="0.88"/>
<circle cx="444.0" cy="161.5" r="0.88"/>
<circle cx="443.1" cy="167.0" r="0.88"/>
<circle cx="437.9" cy="175.6" r="0.88"/>
<circle cx="451.3" cy="150.9" r="0.88"/>
<circle cx="437.7" cy="158.8" r="0.88"/>
<circle cx="460.3" cy="146.4" r="0.88"/>
<circle cx="460.2" cy="143.4" r="0.88"/>
<circle cx="460.0" cy="144.3" r="0.88"/>
<circle cx="459.7" cy="145.8" r="0.88"/>
<circle cx="458.8" cy="144.9" r="0.88"/>
<circle cx="460.7" cy="143.6" r="0.88"/>
<circle cx="459.2" cy="145.5" r="0.88"/>
<circle cx="459.2" cy="145.9" r="0.88"/>
<circle cx="458.5" cy="142.7" r="0.88"/>
<circle cx="459.8" cy="144.4" r="0.88"/>
<circle cx="459.7" cy="145.8" r="0.88"/>
<circle cx="460.4" cy="144.2" r="0.88"/>
<circle cx="459.1" cy="142.2" r="0.88"/>
<circle cx="458.6" cy="144.9" r="0.88"/>
<circle cx="459.4" cy="139.9" r="0.88"/>
<circle cx="457.3" cy="137.9" r="0.88"/>
<circle cx="458.0" cy="137.7" r="0.88"/>
<circle cx="458.5" cy="141.4" r="0.88"/>
<circle cx="453.8" cy="134.1" r="0.88"/>
<circle cx="459.7" cy="140.8" r="0.88"/>
<circle cx="459.3" cy="136.9" r="0.88"/>
<circle cx="454.9" cy="136.2" r="0.88"/>
<circle cx="458.8" cy="139.7" r="0.88"/>
<circle cx="455.4" cy="134.5" r="0.88"/>
<circle cx="460.8" cy="143.2" r="0.88"/>
<circle cx="459.3" cy="141.8" r="0.88"/>
<circle cx="460.9" cy="79.6" r="0.88"/>
<circle cx="459.9" cy="87.7" r="0.88"/>
<circle cx="459.4" cy="81.7" r="0.88"/>
<circle cx="459.9" cy="93.1" r="0.88"/>
<circle cx="451.2" cy="105.4" r="0.88"/>
<circle cx="460.0" cy="82.1" r="0.88"/>
<circle cx="456.7" cy="95.9" r="0.88"/>
<circle cx="451.0" cy="106.5" r="0.88"/>
<circle cx="458.1" cy="91.6" r="0.88"/>
<circle cx="452.3" cy="102.4" r="0.88"/>
<circle cx="461.0" cy="84.2" r="0.88"/>
<circle cx="459.8" cy="76.5" r="0.88"/>
<circle cx="463.5" cy="87.9" r="0.88"/>
<circle cx="462.6" cy="79.3" r="0.88"/>
<circle cx="455.6" cy="105.5" r="0.88"/>
<circle cx="460.4" cy="76.9" r="0.88"/>
<circle cx="462.2" cy="76.9" r="0.88"/>
<circle cx="453.9" cy="100.2" r="0.88"/>
<circle cx="458.8" cy="82.6" r="0.88"/>
<circle cx="460.8" cy="77.8" r="0.88"/>
<circle cx="455.9" cy="112.3" r="0.88"/>
<circle cx="451.1" cy="114.5" r="0.88"/>
<circle cx="461.1" cy="88.1" r="0.88"/>
<circle cx="461.7" cy="73.4" r="0.88"/>
<circle cx="457.6" cy="115.4" r="0.88"/>
<circle cx="461.4" cy="73.3" r="0.88"/>
<circle cx="457.6" cy="95.4" r="0.88"/>
<circle cx="458.7" cy="92.1" r="0.88"/>
<circle cx="454.5" cy="115.9" r="0.88"/>
<circle cx="459.9" cy="92.5" r="0.88"/>
<circle cx="461.4" cy="80.7" r="0.88"/>
<circle cx="453.6" cy="98.0" r="0.88"/>
<circle cx="458.0" cy="101.4" r="0.88"/>
<circle cx="451.4" cy="112.3" r="0.88"/>
<circle cx="459.9" cy="85.2" r="0.88"/>
<circle cx="454.5" cy="114.7" r="0.88"/>
<circle cx="461.9" cy="94.3" r="0.88"/>
<circle cx="457.2" cy="93.5" r="0.88"/>
<circle cx="458.9" cy="89.4" r="0.88"/>
<circle cx="454.6" cy="105.4" r="0.88"/>
<circle cx="455.9" cy="101.9" r="0.88"/>
<circle cx="458.6" cy="75.1" r="0.88"/>
<circle cx="458.1" cy="95.7" r="0.88"/>
<circle cx="460.7" cy="74.8" r="0.88"/>
<circle cx="461.2" cy="75.2" r="0.88"/>
<circle cx="454.5" cy="109.1" r="0.88"/>
<circle cx="455.4" cy="115.2" r="0.88"/>
<circle cx="455.3" cy="92.6" r="0.88"/>
<circle cx="451.6" cy="114.4" r="0.88"/>
<circle cx="459.7" cy="94.4" r="0.88"/>
<circle cx="459.0" cy="98.6" r="0.88"/>
<circle cx="456.9" cy="100.7" r="0.88"/>
<circle cx="462.6" cy="75.6" r="0.88"/>
<circle cx="455.6" cy="108.3" r="0.88"/>
<circle cx="457.5" cy="86.6" r="0.88"/>
<circle cx="453.9" cy="93.1" r="0.88"/>
<circle cx="460.2" cy="82.5" r="0.88"/>
<circle cx="459.0" cy="79.5" r="0.88"/>
<circle cx="460.3" cy="98.8" r="0.88"/>
<circle cx="457.1" cy="110.1" r="0.88"/>
<circle cx="459.1" cy="72.2" r="0.88"/>
<circle cx="455.4" cy="96.4" r="0.88"/>
<circle cx="459.7" cy="87.4" r="0.88"/>
<circle cx="459.7" cy="88.6" r="0.88"/>
<circle cx="459.0" cy="113.7" r="0.88"/>
<circle cx="459.2" cy="105.1" r="0.88"/>
<circle cx="452.8" cy="113.6" r="0.88"/>
<circle cx="455.3" cy="102.5" r="0.88"/>
<circle cx="458.2" cy="92.6" r="0.88"/>
<circle cx="460.8" cy="72.9" r="0.88"/>
<circle cx="459.8" cy="84.5" r="0.88"/>
<circle cx="460.2" cy="91.4" r="0.88"/>
<circle cx="455.5" cy="108.1" r="0.88"/>
<circle cx="460.9" cy="77.7" r="0.88"/>
<circle cx="455.7" cy="112.7" r="0.88"/>
<circle cx="459.7" cy="88.9" r="0.88"/>
<circle cx="459.3" cy="95.8" r="0.88"/>
<circle cx="458.7" cy="91.3" r="0.88"/>
<circle cx="458.8" cy="109.4" r="0.88"/>
<circle cx="458.2" cy="111.6" r="0.88"/>
<circle cx="459.7" cy="111.6" r="0.88"/>
<circle cx="453.0" cy="109.2" r="0.88"/>
<circle cx="457.2" cy="98.8" r="0.88"/>
<circle cx="461.0" cy="80.1" r="0.88"/>
<circle cx="453.5" cy="96.8" r="0.88"/>
<circle cx="456.4" cy="112.9" r="0.88"/>
<circle cx="462.9" cy="77.0" r="0.88"/>
<circle cx="460.2" cy="103.4" r="0.88"/>
<circle cx="462.1" cy="74.6" r="0.88"/>
<circle cx="458.4" cy="91.5" r="0.88"/>
<circle cx="456.4" cy="87.3" r="0.88"/>
<circle cx="454.1" cy="111.6" r="0.88"/>
<circle cx="461.7" cy="85.9" r="0.88"/>
<circle cx="454.9" cy="89.2" r="0.88"/>
<circle cx="455.8" cy="87.7" r="0.88"/>
<circle cx="455.2" cy="105.3" r="0.88"/>
<circle cx="454.8" cy="103.7" r="0.88"/>
<circle cx="450.5" cy="106.1" r="0.88"/>
<circle cx="458.2" cy="96.4" r="0.88"/>
<circle cx="458.1" cy="116.6" r="0.88"/>
<circle cx="456.3" cy="106.5" r="0.88"/>
<circle cx="457.1" cy="104.6" r="0.88"/>
<circle cx="458.0" cy="87.6" r="0.88"/>
<circle cx="453.0" cy="107.8" r="0.88"/>
<circle cx="460.1" cy="95.8" r="0.88"/>
<circle cx="453.8" cy="102.9" r="0.88"/>
<circle cx="460.1" cy="96.7" r="0.88"/>
<circle cx="457.1" cy="104.2" r="0.88"/>
<circle cx="456.6" cy="92.6" r="0.88"/>
<circle cx="459.3" cy="78.3" r="0.88"/>
<circle cx="460.5" cy="92.7" r="0.88"/>
<circle cx="456.0" cy="88.4" r="0.88"/>
<circle cx="459.6" cy="99.9" r="0.88"/>
<circle cx="450.2" cy="112.4" r="0.88"/>
<circle cx="460.4" cy="91.4" r="0.88"/>
<circle cx="458.9" cy="77.6" r="0.88"/>
<circle cx="459.9" cy="116.3" r="0.88"/>
<circle cx="457.7" cy="112.5" r="0.88"/>
<circle cx="456.2" cy="93.5" r="0.88"/>
<circle cx="462.0" cy="74.3" r="0.88"/>
<circle cx="457.0" cy="105.8" r="0.88"/>
<circle cx="456.2" cy="112.1" r="0.88"/>
<circle cx="457.8" cy="91.8" r="0.88"/>
<circle cx="459.3" cy="87.5" r="0.88"/>
<circle cx="459.8" cy="85.3" r="0.88"/>
<circle cx="452.0" cy="99.8" r="0.88"/>
<circle cx="460.2" cy="106.3" r="0.88"/>
<circle cx="462.8" cy="73.7" r="0.88"/>
<circle cx="456.8" cy="96.7" r="0.88"/>
<circle cx="458.8" cy="88.2" r="0.88"/>
<circle cx="462.8" cy="75.1" r="0.88"/>
<circle cx="458.0" cy="83.3" r="0.88"/>
<circle cx="461.0" cy="88.1" r="0.88"/>
<circle cx="463.4" cy="74.5" r="0.88"/>
<circle cx="464.4" cy="82.4" r="0.88"/>
<circle cx="463.2" cy="75.2" r="0.88"/>
<circle cx="454.9" cy="110.2" r="0.88"/>
<circle cx="455.1" cy="106.1" r="0.88"/>
<circle cx="454.5" cy="113.6" r="0.88"/>
<circle cx="459.3" cy="91.4" r="0.88"/>
<circle cx="462.6" cy="75.4" r="0.88"/>
<circle cx="455.5" cy="84.5" r="0.88"/>
<circle cx="454.0" cy="99.8" r="0.88"/>
<circle cx="452.8" cy="115.4" r="0.88"/>
<circle cx="453.2" cy="112.7" r="0.88"/>
<circle cx="456.0" cy="110.5" r="0.88"/>
<circle cx="463.4" cy="78.6" r="0.88"/>
<circle cx="463.2" cy="74.4" r="0.88"/>
<circle cx="457.7" cy="95.1" r="0.88"/>
<circle cx="454.9" cy="105.5" r="0.88"/>
<circle cx="457.3" cy="94.0" r="0.88"/>
<circle cx="457.4" cy="100.0" r="0.88"/>
<circle cx="462.6" cy="74.3" r="0.88"/>
<circle cx="457.8" cy="94.9" r="0.88"/>
<circle cx="454.7" cy="114.7" r="0.88"/>
<circle cx="455.4" cy="98.4" r="0.88"/>
<circle cx="455.1" cy="106.7" r="0.88"/>
<circle cx="453.9" cy="109.8" r="0.88"/>
<circle cx="458.1" cy="81.1" r="0.88"/>
<circle cx="458.5" cy="98.8" r="0.88"/>
<circle cx="457.4" cy="83.7" r="0.88"/>
<circle cx="458.4" cy="86.6" r="0.88"/>
<circle cx="456.3" cy="97.8" r="0.88"/>
<circle cx="450.8" cy="102.8" r="0.88"/>
<circle cx="457.3" cy="113.4" r="0.88"/>
<circle cx="457.0" cy="111.8" r="0.88"/>
<circle cx="455.9" cy="113.8" r="0.88"/>
<circle cx="458.3" cy="92.6" r="0.88"/>
<circle cx="459.2" cy="83.8" r="0.88"/>
<circle cx="461.4" cy="76.3" r="0.88"/>
<circle cx="461.1" cy="81.7" r="0.88"/>
<circle cx="458.6" cy="105.5" r="0.88"/>
<circle cx="462.4" cy="87.2" r="0.88"/>
<circle cx="460.6" cy="72.9" r="0.88"/>
<circle cx="457.9" cy="92.1" r="0.88"/>
<circle cx="456.0" cy="114.0" r="0.88"/>
<circle cx="459.9" cy="94.2" r="0.88"/>
<circle cx="457.4" cy="84.1" r="0.88"/>
<circle cx="453.0" cy="106.4" r="0.88"/>
<circle cx="457.8" cy="86.2" r="0.88"/>
<circle cx="460.7" cy="96.1" r="0.88"/>
<circle cx="456.5" cy="91.6" r="0.88"/>
<circle cx="458.5" cy="98.0" r="0.88"/>
<circle cx="460.2" cy="79.2" r="0.88"/>
<circle cx="453.9" cy="104.1" r="0.88"/>
<circle cx="461.5" cy="100.7" r="0.88"/>
<circle cx="461.4" cy="89.5" r="0.88"/>
<circle cx="461.0" cy="73.7" r="0.88"/>
<circle cx="456.2" cy="82.2" r="0.88"/>
<circle cx="454.8" cy="97.4" r="0.88"/>
<circle cx="455.5" cy="107.3" r="0.88"/>
<circle cx="461.1" cy="88.7" r="0.88"/>
<circle cx="458.1" cy="91.7" r="0.88"/>
<circle cx="462.8" cy="79.9" r="0.88"/>
<circle cx="455.6" cy="96.9" r="0.88"/>
<circle cx="458.3" cy="81.0" r="0.88"/>
<circle cx="458.5" cy="87.7" r="0.88"/>
<circle cx="450.9" cy="110.2" r="0.88"/>
<circle cx="460.4" cy="81.1" r="0.88"/>
<circle cx="461.3" cy="81.0" r="0.88"/>
<circle cx="460.3" cy="74.5" r="0.88"/>
<circle cx="454.5" cy="99.0" r="0.88"/>
<circle cx="457.1" cy="98.9" r="0.88"/>
<circle cx="455.9" cy="101.5" r="0.88"/>
<circle cx="457.3" cy="81.9" r="0.88"/>
<circle cx="464.5" cy="78.8" r="0.88"/>
<circle cx="458.9" cy="84.9" r="0.88"/>
<circle cx="460.5" cy="78.5" r="0.88"/>
<circle cx="457.4" cy="103.4" r="0.88"/>
<circle cx="459.0" cy="90.9" r="0.88"/>
<circle cx="462.4" cy="80.2" r="0.88"/>
<circle cx="453.3" cy="106.4" r="0.88"/>
<circle cx="460.3" cy="97.1" r="0.88"/>
<circle cx="453.9" cy="94.9" r="0.88"/>
<circle cx="457.8" cy="106.4" r="0.88"/>
<circle cx="461.4" cy="80.7" r="0.88"/>
<circle cx="461.9" cy="91.5" r="0.88"/>
<circle cx="456.9" cy="93.7" r="0.88"/>
<circle cx="460.6" cy="78.5" r="0.88"/>
<circle cx="461.0" cy="85.0" r="0.88"/>
<circle cx="465.1" cy="74.0" r="0.88"/>
<circle cx="466.3" cy="74.9" r="0.88"/>
<circle cx="456.9" cy="91.4" r="0.88"/>
<circle cx="455.9" cy="110.3" r="0.88"/>
<circle cx="462.2" cy="77.6" r="0.88"/>
<circle cx="463.1" cy="79.3" r="0.88"/>
<circle cx="457.0" cy="109.4" r="0.88"/>
<circle cx="455.3" cy="114.5" r="0.88"/>
<circle cx="449.6" cy="115.2" r="0.88"/>
<circle cx="455.5" cy="98.6" r="0.88"/>
<circle cx="454.1" cy="114.5" r="0.88"/>
<circle cx="452.3" cy="107.1" r="0.88"/>
<circle cx="459.5" cy="78.7" r="0.88"/>
<circle cx="451.0" cy="111.0" r="0.88"/>
<circle cx="457.4" cy="105.5" r="0.88"/>
<circle cx="456.3" cy="103.4" r="0.88"/>
<circle cx="456.5" cy="106.0" r="0.88"/>
<circle cx="460.3" cy="99.5" r="0.88"/>
<circle cx="462.0" cy="95.4" r="0.88"/>
<circle cx="457.6" cy="88.0" r="0.88"/>
<circle cx="457.3" cy="80.2" r="0.88"/>
<circle cx="452.6" cy="101.9" r="0.88"/>
<circle cx="461.3" cy="73.0" r="0.88"/>
<circle cx="459.5" cy="109.9" r="0.88"/>
<circle cx="449.8" cy="107.7" r="0.88"/>
<circle cx="456.4" cy="112.8" r="0.88"/>
<circle cx="460.9" cy="110.9" r="0.88"/>
<circle cx="460.4" cy="78.8" r="0.88"/>
<circle cx="458.6" cy="91.5" r="0.88"/>
<circle cx="460.5" cy="81.6" r="0.88"/>
<circle cx="458.0" cy="93.9" r="0.88"/>
<circle cx="460.6" cy="90.1" r="0.88"/>
<circle cx="455.1" cy="103.9" r="0.88"/>
<circle cx="452.8" cy="109.4" r="0.88"/>
<circle cx="454.6" cy="93.0" r="0.88"/>
<circle cx="459.1" cy="93.1" r="0.88"/>
<circle cx="458.9" cy="85.8" r="0.88"/>
<circle cx="457.8" cy="105.4" r="0.88"/>
<circle cx="459.5" cy="99.7" r="0.88"/>
<circle cx="457.3" cy="86.8" r="0.88"/>
<circle cx="460.0" cy="96.3" r="0.88"/>
<circle cx="462.1" cy="86.9" r="0.88"/>
<circle cx="459.7" cy="92.6" r="0.88"/>
<circle cx="455.3" cy="107.6" r="0.88"/>
<circle cx="457.5" cy="85.5" r="0.88"/>
<circle cx="457.4" cy="101.5" r="0.88"/>
<circle cx="458.7" cy="77.0" r="0.88"/>
<circle cx="459.5" cy="84.6" r="0.88"/>
<circle cx="461.2" cy="74.6" r="0.88"/>
<circle cx="458.7" cy="109.0" r="0.88"/>
<circle cx="462.6" cy="75.1" r="0.88"/>
<circle cx="459.3" cy="90.5" r="0.88"/>
<circle cx="456.9" cy="113.7" r="0.88"/>
<circle cx="461.5" cy="89.1" r="0.88"/>
<circle cx="462.1" cy="86.1" r="0.88"/>
<circle cx="460.9" cy="88.5" r="0.88"/>
<circle cx="454.2" cy="111.6" r="0.88"/>
<circle cx="453.9" cy="106.0" r="0.88"/>
<circle cx="452.2" cy="106.1" r="0.88"/>
<circle cx="456.8" cy="83.4" r="0.88"/>
<circle cx="460.3" cy="90.1" r="0.88"/>
<circle cx="460.2" cy="96.8" r="0.88"/>
<circle cx="462.1" cy="74.9" r="0.88"/>
<circle cx="456.0" cy="98.3" r="0.88"/>
<circle cx="463.1" cy="82.7" r="0.88"/>
<circle cx="462.6" cy="78.5" r="0.88"/>
<circle cx="450.2" cy="107.8" r="0.88"/>
<circle cx="457.8" cy="111.2" r="0.88"/>
<circle cx="458.9" cy="84.2" r="0.88"/>
<circle cx="454.4" cy="102.6" r="0.88"/>
<circle cx="456.1" cy="88.0" r="0.88"/>
<circle cx="454.2" cy="114.3" r="0.88"/>
<circle cx="463.2" cy="82.4" r="0.88"/>
<circle cx="464.2" cy="77.5" r="0.88"/>
<circle cx="458.4" cy="108.6" r="0.88"/>
<circle cx="451.5" cy="105.4" r="0.88"/>
<circle cx="457.2" cy="90.4" r="0.88"/>
<circle cx="461.3" cy="74.3" r="0.88"/>
<circle cx="458.7" cy="95.6" r="0.88"/>
<circle cx="459.2" cy="95.7" r="0.88"/>
<circle cx="457.6" cy="112.7" r="0.88"/>
<circle cx="456.7" cy="109.9" r="0.88"/>
<circle cx="461.3" cy="78.5" r="0.88"/>
<circle cx="458.9" cy="107.7" r="0.88"/>
<circle cx="454.5" cy="95.5" r="0.88"/>
<circle cx="454.4" cy="113.7" r="0.88"/>
<circle cx="456.3" cy="103.6" r="0.88"/>
<circle cx="461.5" cy="75.2" r="0.88"/>
<circle cx="458.4" cy="86.7" r="0.88"/>
<circle cx="457.1" cy="84.1" r="0.88"/>
<circle cx="461.3" cy="83.3" r="0.88"/>
<circle cx="458.6" cy="84.6" r="0.88"/>
<circle cx="457.6" cy="100.9" r="0.88"/>
<circle cx="460.6" cy="77.9" r="0.88"/>
<circle cx="459.3" cy="80.2" r="0.88"/>
<circle cx="455.2" cy="108.9" r="0.88"/>
<circle cx="460.8" cy="87.9" r="0.88"/>
<circle cx="454.1" cy="100.6" r="0.88"/>
<circle cx="456.7" cy="100.6" r="0.88"/>
<circle cx="454.9" cy="97.5" r="0.88"/>
<circle cx="461.1" cy="82.0" r="0.88"/>
<circle cx="456.9" cy="110.6" r="0.88"/>
<circle cx="456.8" cy="103.2" r="0.88"/>
<circle cx="462.3" cy="83.6" r="0.88"/>
<circle cx="454.6" cy="99.8" r="0.88"/>
<circle cx="453.4" cy="106.8" r="0.88"/>
<circle cx="462.6" cy="101.0" r="0.88"/>
<circle cx="461.9" cy="88.5" r="0.88"/>
<circle cx="460.5" cy="82.7" r="0.88"/>
<circle cx="458.4" cy="93.9" r="0.88"/>
<circle cx="458.4" cy="83.6" r="0.88"/>
<circle cx="457.6" cy="96.8" r="0.88"/>
<circle cx="459.6" cy="88.1" r="0.88"/>
<circle cx="455.8" cy="89.0" r="0.88"/>
<circle cx="453.6" cy="104.5" r="0.88"/>
<circle cx="457.3" cy="86.1" r="0.88"/>
<circle cx="459.3" cy="101.2" r="0.88"/>
<circle cx="462.6" cy="85.8" r="0.88"/>
<circle cx="462.7" cy="75.4" r="0.88"/>
<circle cx="460.8" cy="87.4" r="0.88"/>
<circle cx="458.1" cy="82.2" r="0.88"/>
<circle cx="455.1" cy="114.0" r="0.88"/>
<circle cx="448.7" cy="100.7" r="0.88"/>
<circle cx="460.1" cy="91.3" r="0.88"/>
<circle cx="456.9" cy="106.8" r="0.88"/>
<circle cx="463.0" cy="80.0" r="0.88"/>
<circle cx="456.8" cy="113.0" r="0.88"/>
<circle cx="451.6" cy="111.1" r="0.88"/>
<circle cx="460.7" cy="105.8" r="0.88"/>
<circle cx="460.8" cy="77.4" r="0.88"/>
<circle cx="461.0" cy="82.7" r="0.88"/>
<circle cx="458.0" cy="97.3" r="0.88"/>
<circle cx="457.5" cy="88.4" r="0.88"/>
<circle cx="458.5" cy="98.6" r="0.88"/>
<circle cx="459.0" cy="75.0" r="0.88"/>
<circle cx="456.4" cy="94.9" r="0.88"/>
<circle cx="457.8" cy="92.8" r="0.88"/>
<circle cx="463.0" cy="87.7" r="0.88"/>
<circle cx="455.4" cy="97.1" r="0.88"/>
<circle cx="461.1" cy="77.0" r="0.88"/>
<circle cx="457.4" cy="96.8" r="0.88"/>
<circle cx="456.9" cy="92.9" r="0.88"/>
<circle cx="455.8" cy="92.4" r="0.88"/>
<circle cx="452.4" cy="105.4" r="0.88"/>
<circle cx="454.3" cy="104.4" r="0.88"/>
<circle cx="458.9" cy="105.7" r="0.88"/>
<circle cx="452.8" cy="109.2" r="0.88"/>
<circle cx="458.1" cy="103.4" r="0.88"/>
<circle cx="460.1" cy="85.5" r="0.88"/>
<circle cx="454.0" cy="107.6" r="0.88"/>
<circle cx="455.5" cy="95.5" r="0.88"/>
<circle cx="452.8" cy="96.0" r="0.88"/>
<circle cx="459.4" cy="73.4" r="0.88"/>
<circle cx="455.7" cy="106.2" r="0.88"/>
<circle cx="453.6" cy="112.4" r="0.88"/>
<circle cx="457.1" cy="100.5" r="0.88"/>
<circle cx="456.5" cy="91.5" r="0.88"/>
<circle cx="458.2" cy="92.8" r="0.88"/>
<circle cx="459.1" cy="91.2" r="0.88"/>
<circle cx="457.8" cy="98.7" r="0.88"/>
<circle cx="454.8" cy="93.0" r="0.88"/>
<circle cx="461.2" cy="86.4" r="0.88"/>
<circle cx="459.9" cy="78.6" r="0.88"/>
<circle cx="462.0" cy="78.5" r="0.88"/>
<circle cx="457.6" cy="78.9" r="0.88"/>
<circle cx="457.7" cy="106.7" r="0.88"/>
<circle cx="462.2" cy="80.0" r="0.88"/>
<circle cx="460.6" cy="84.1" r="0.88"/>
<circle cx="453.6" cy="92.7" r="0.88"/>
<circle cx="459.2" cy="89.1" r="0.88"/>
<circle cx="452.7" cy="108.6" r="0.88"/>
<circle cx="461.5" cy="75.1" r="0.88"/>
<circle cx="460.4" cy="101.6" r="0.88"/>
<circle cx="456.3" cy="76.7" r="0.88"/>
<circle cx="457.4" cy="94.5" r="0.88"/>
<circle cx="456.9" cy="90.9" r="0.88"/>
<circle cx="462.7" cy="83.4" r="0.88"/>
<circle cx="459.4" cy="88.5" r="0.88"/>
<circle cx="460.7" cy="83.0" r="0.88"/>
<circle cx="462.2" cy="77.1" r="0.88"/>
<circle cx="450.0" cy="122.7" r="0.88"/>
<circle cx="451.2" cy="125.0" r="0.88"/>
<circle cx="454.6" cy="129.4" r="0.88"/>
<circle cx="451.5" cy="129.6" r="0.88"/>
<circle cx="450.4" cy="124.1" r="0.88"/>
<circle cx="454.9" cy="116.5" r="0.88"/>
<circle cx="449.2" cy="131.0" r="0.88"/>
<circle cx="449.4" cy="125.8" r="0.88"/>
<circle cx="450.3" cy="132.1" r="0.88"/>
<circle cx="452.3" cy="122.9" r="0.88"/>
<circle cx="450.7" cy="120.2" r="0.88"/>
<circle cx="453.0" cy="117.6" r="0.88"/>
<circle cx="453.5" cy="130.9" r="0.88"/>
<circle cx="452.1" cy="122.2" r="0.88"/>
<circle cx="452.2" cy="132.6" r="0.88"/>
<circle cx="454.3" cy="117.0" r="0.88"/>
<circle cx="451.6" cy="132.8" r="0.88"/>
<circle cx="452.8" cy="116.4" r="0.88"/>
<circle cx="451.6" cy="121.4" r="0.88"/>
<circle cx="454.0" cy="116.8" r="0.88"/>
<circle cx="453.7" cy="130.4" r="0.88"/>
<circle cx="449.9" cy="127.4" r="0.88"/>
<circle cx="454.0" cy="123.8" r="0.88"/>
<circle cx="454.5" cy="122.0" r="0.88"/>
<circle cx="453.6" cy="119.0" r="0.88"/>
<circle cx="453.9" cy="118.7" r="0.88"/>
<circle cx="456.6" cy="121.8" r="0.88"/>
<circle cx="452.3" cy="132.4" r="0.88"/>
<circle cx="450.2" cy="128.0" r="0.88"/>
<circle cx="451.9" cy="119.8" r="0.88"/>
<circle cx="450.8" cy="133.1" r="0.88"/>
<circle cx="448.4" cy="124.9" r="0.88"/>
<circle cx="446.9" cy="113.9" r="0.88"/>
<circle cx="451.4" cy="126.1" r="0.88"/>
<circle cx="451.5" cy="105.3" r="0.88"/>
<circle cx="447.3" cy="132.1" r="0.88"/>
<circle cx="451.4" cy="128.7" r="0.88"/>
<circle cx="451.1" cy="109.2" r="0.88"/>
<circle cx="449.7" cy="103.7" r="0.88"/>
<circle cx="447.7" cy="100.4" r="0.88"/>
<circle cx="447.5" cy="106.8" r="0.88"/>
<circle cx="447.3" cy="123.5" r="0.88"/>
<circle cx="488.9" cy="85.5" r="0.88"/>
<circle cx="491.7" cy="91.8" r="0.88"/>
<circle cx="477.0" cy="94.6" r="0.88"/>
<circle cx="486.0" cy="91.8" r="0.88"/>
<circle cx="489.6" cy="107.7" r="0.88"/>
<circle cx="442.6" cy="128.0" r="0.88"/>
<circle cx="447.5" cy="104.2" r="0.88"/>
<circle cx="446.8" cy="114.0" r="0.88"/>
</g>
<circle cx="505.7" cy="114.7" r="0.95" fill="#3f9a7a"/>
<g fill="#4da51d">
<circle cx="478.2" cy="75.4" r="0.95"/>
<circle cx="468.9" cy="83.7" r="0.95"/>
<circle cx="477.3" cy="65.5" r="0.95"/>
<circle cx="479.7" cy="71.3" r="0.95"/>
<circle cx="464.1" cy="95.9" r="0.95"/>
<circle cx="484.6" cy="62.7" r="0.95"/>
<circle cx="470.7" cy="76.5" r="0.95"/>
<circle cx="482.0" cy="59.6" r="0.95"/>
<circle cx="479.2" cy="72.0" r="0.95"/>
<circle cx="486.5" cy="63.4" r="0.95"/>
<circle cx="470.0" cy="71.6" r="0.95"/>
<circle cx="466.5" cy="82.1" r="0.95"/>
<circle cx="477.0" cy="71.3" r="0.95"/>
<circle cx="464.8" cy="89.1" r="0.95"/>
<circle cx="465.5" cy="88.2" r="0.95"/>
<circle cx="459.4" cy="101.4" r="0.95"/>
<circle cx="461.1" cy="95.8" r="0.95"/>
<circle cx="467.2" cy="84.1" r="0.95"/>
<circle cx="479.1" cy="70.7" r="0.95"/>
<circle cx="458.2" cy="99.6" r="0.95"/>
<circle cx="485.6" cy="61.2" r="0.95"/>
<circle cx="475.2" cy="82.5" r="0.95"/>
<circle cx="478.3" cy="67.3" r="0.95"/>
<circle cx="484.1" cy="70.1" r="0.95"/>
<circle cx="460.5" cy="99.2" r="0.95"/>
<circle cx="471.3" cy="73.8" r="0.95"/>
<circle cx="462.9" cy="88.2" r="0.95"/>
<circle cx="470.4" cy="79.7" r="0.95"/>
<circle cx="483.6" cy="59.8" r="0.95"/>
<circle cx="482.2" cy="61.2" r="0.95"/>
<circle cx="466.6" cy="85.3" r="0.95"/>
<circle cx="461.8" cy="97.2" r="0.95"/>
<circle cx="461.8" cy="100.7" r="0.95"/>
<circle cx="461.3" cy="94.9" r="0.95"/>
<circle cx="472.8" cy="67.1" r="0.95"/>
<circle cx="481.9" cy="72.9" r="0.95"/>
<circle cx="479.9" cy="68.0" r="0.95"/>
<circle cx="467.7" cy="77.2" r="0.95"/>
<circle cx="464.0" cy="83.2" r="0.95"/>
<circle cx="460.7" cy="98.3" r="0.95"/>
<circle cx="466.4" cy="76.4" r="0.95"/>
<circle cx="462.4" cy="96.0" r="0.95"/>
<circle cx="481.9" cy="64.6" r="0.95"/>
<circle cx="484.6" cy="57.3" r="0.95"/>
<circle cx="470.9" cy="70.0" r="0.95"/>
<circle cx="471.4" cy="76.2" r="0.95"/>
<circle cx="466.9" cy="82.3" r="0.95"/>
<circle cx="485.3" cy="64.4" r="0.95"/>
<circle cx="485.9" cy="62.4" r="0.95"/>
<circle cx="459.9" cy="97.9" r="0.95"/>
<circle cx="459.5" cy="87.4" r="0.95"/>
<circle cx="472.0" cy="69.9" r="0.95"/>
<circle cx="464.6" cy="84.0" r="0.95"/>
<circle cx="468.3" cy="84.2" r="0.95"/>
<circle cx="461.1" cy="100.9" r="0.95"/>
<circle cx="462.9" cy="79.6" r="0.95"/>
<circle cx="482.5" cy="61.5" r="0.95"/>
<circle cx="466.4" cy="88.1" r="0.95"/>
<circle cx="464.3" cy="95.4" r="0.95"/>
<circle cx="469.8" cy="82.5" r="0.95"/>
<circle cx="483.4" cy="64.2" r="0.95"/>
<circle cx="464.2" cy="101.9" r="0.95"/>
<circle cx="470.2" cy="86.5" r="0.95"/>
<circle cx="472.0" cy="71.9" r="0.95"/>
<circle cx="488.1" cy="66.0" r="0.95"/>
<circle cx="461.9" cy="97.1" r="0.95"/>
<circle cx="486.1" cy="70.9" r="0.95"/>
<circle cx="463.9" cy="100.8" r="0.95"/>
<circle cx="464.6" cy="93.3" r="0.95"/>
<circle cx="467.1" cy="87.4" r="0.95"/>
<circle cx="466.7" cy="78.4" r="0.95"/>
<circle cx="467.8" cy="74.5" r="0.95"/>
<circle cx="464.6" cy="80.3" r="0.95"/>
<circle cx="463.4" cy="98.7" r="0.95"/>
<circle cx="463.6" cy="96.7" r="0.95"/>
<circle cx="466.0" cy="82.7" r="0.95"/>
<circle cx="463.3" cy="100.8" r="0.95"/>
<circle cx="463.4" cy="93.3" r="0.95"/>
<circle cx="486.1" cy="60.1" r="0.95"/>
<circle cx="471.8" cy="72.0" r="0.95"/>
<circle cx="461.6" cy="96.1" r="0.95"/>
<circle cx="487.1" cy="63.7" r="0.95"/>
<circle cx="465.3" cy="84.0" r="0.95"/>
<circle cx="459.8" cy="102.1" r="0.95"/>
<circle cx="484.7" cy="69.5" r="0.95"/>
<circle cx="463.2" cy="92.4" r="0.95"/>
<circle cx="462.5" cy="97.0" r="0.95"/>
<circle cx="461.6" cy="84.4" r="0.95"/>
<circle cx="463.9" cy="89.6" r="0.95"/>
<circle cx="457.2" cy="93.9" r="0.95"/>
<circle cx="474.9" cy="71.6" r="0.95"/>
<circle cx="476.3" cy="65.3" r="0.95"/>
<circle cx="484.7" cy="66.5" r="0.95"/>
<circle cx="479.0" cy="69.1" r="0.95"/>
<circle cx="462.9" cy="96.1" r="0.95"/>
<circle cx="468.0" cy="85.8" r="0.95"/>
<circle cx="466.5" cy="89.0" r="0.95"/>
<circle cx="464.3" cy="78.2" r="0.95"/>
<circle cx="471.2" cy="75.8" r="0.95"/>
<circle cx="480.8" cy="71.1" r="0.95"/>
<circle cx="469.0" cy="80.6" r="0.95"/>
<circle cx="469.0" cy="75.7" r="0.95"/>
<circle cx="457.2" cy="93.5" r="0.95"/>
<circle cx="463.4" cy="92.2" r="0.95"/>
<circle cx="469.1" cy="74.3" r="0.95"/>
<circle cx="465.0" cy="86.2" r="0.95"/>
<circle cx="472.3" cy="79.9" r="0.95"/>
<circle cx="486.2" cy="65.2" r="0.95"/>
<circle cx="461.3" cy="102.2" r="0.95"/>
<circle cx="469.7" cy="81.0" r="0.95"/>
<circle cx="488.2" cy="67.4" r="0.95"/>
<circle cx="470.1" cy="80.3" r="0.95"/>
<circle cx="462.3" cy="98.5" r="0.95"/>
<circle cx="470.7" cy="75.1" r="0.95"/>
<circle cx="476.7" cy="68.1" r="0.95"/>
<circle cx="463.6" cy="94.9" r="0.95"/>
<circle cx="468.4" cy="84.2" r="0.95"/>
<circle cx="467.7" cy="79.9" r="0.95"/>
<circle cx="463.1" cy="88.0" r="0.95"/>
<circle cx="479.5" cy="73.8" r="0.95"/>
<circle cx="462.7" cy="98.9" r="0.95"/>
<circle cx="460.6" cy="96.0" r="0.95"/>
<circle cx="477.8" cy="71.7" r="0.95"/>
<circle cx="484.2" cy="66.2" r="0.95"/>
<circle cx="479.9" cy="63.2" r="0.95"/>
<circle cx="466.1" cy="84.9" r="0.95"/>
<circle cx="471.5" cy="75.0" r="0.95"/>
<circle cx="484.8" cy="61.8" r="0.95"/>
<circle cx="488.5" cy="63.0" r="0.95"/>
<circle cx="460.0" cy="88.5" r="0.95"/>
<circle cx="470.1" cy="79.1" r="0.95"/>
<circle cx="466.4" cy="78.9" r="0.95"/>
<circle cx="484.4" cy="61.7" r="0.95"/>
<circle cx="475.5" cy="63.1" r="0.95"/>
<circle cx="476.3" cy="66.3" r="0.95"/>
<circle cx="475.5" cy="68.6" r="0.95"/>
<circle cx="470.4" cy="73.7" r="0.95"/>
<circle cx="464.0" cy="89.8" r="0.95"/>
<circle cx="482.7" cy="61.6" r="0.95"/>
<circle cx="468.2" cy="84.3" r="0.95"/>
<circle cx="490.4" cy="70.0" r="0.95"/>
<circle cx="485.3" cy="61.2" r="0.95"/>
<circle cx="459.1" cy="94.5" r="0.95"/>
<circle cx="464.4" cy="78.9" r="0.95"/>
<circle cx="478.8" cy="72.3" r="0.95"/>
<circle cx="463.8" cy="84.6" r="0.95"/>
<circle cx="465.0" cy="92.5" r="0.95"/>
<circle cx="462.4" cy="88.9" r="0.95"/>
<circle cx="474.5" cy="72.2" r="0.95"/>
<circle cx="459.1" cy="95.4" r="0.95"/>
<circle cx="458.8" cy="88.5" r="0.95"/>
<circle cx="464.5" cy="100.0" r="0.95"/>
<circle cx="467.5" cy="81.8" r="0.95"/>
<circle cx="472.4" cy="65.8" r="0.95"/>
<circle cx="475.1" cy="73.3" r="0.95"/>
<circle cx="468.9" cy="73.2" r="0.95"/>
<circle cx="480.7" cy="63.0" r="0.95"/>
<circle cx="471.6" cy="79.1" r="0.95"/>
<circle cx="463.7" cy="85.4" r="0.95"/>
<circle cx="466.1" cy="87.6" r="0.95"/>
<circle cx="464.2" cy="83.3" r="0.95"/>
<circle cx="472.6" cy="71.9" r="0.95"/>
<circle cx="466.1" cy="79.9" r="0.95"/>
<circle cx="459.5" cy="89.3" r="0.95"/>
<circle cx="460.7" cy="85.9" r="0.95"/>
<circle cx="478.0" cy="75.8" r="0.95"/>
<circle cx="472.3" cy="79.1" r="0.95"/>
<circle cx="486.4" cy="60.0" r="0.95"/>
<circle cx="463.6" cy="92.3" r="0.95"/>
<circle cx="480.2" cy="64.4" r="0.95"/>
<circle cx="464.2" cy="86.9" r="0.95"/>
<circle cx="473.2" cy="76.0" r="0.95"/>
<circle cx="488.1" cy="66.1" r="0.95"/>
<circle cx="466.0" cy="86.7" r="0.95"/>
<circle cx="469.3" cy="79.2" r="0.95"/>
<circle cx="474.5" cy="76.8" r="0.95"/>
<circle cx="481.3" cy="63.4" r="0.95"/>
<circle cx="468.1" cy="72.1" r="0.95"/>
<circle cx="460.5" cy="91.9" r="0.95"/>
<circle cx="469.4" cy="79.0" r="0.95"/>
<circle cx="485.1" cy="75.0" r="0.95"/>
<circle cx="473.3" cy="77.9" r="0.95"/>
<circle cx="479.7" cy="70.9" r="0.95"/>
<circle cx="462.3" cy="98.2" r="0.95"/>
<circle cx="486.6" cy="66.4" r="0.95"/>
<circle cx="464.1" cy="89.9" r="0.95"/>
<circle cx="461.9" cy="100.3" r="0.95"/>
<circle cx="465.9" cy="77.8" r="0.95"/>
<circle cx="467.4" cy="86.6" r="0.95"/>
<circle cx="468.6" cy="86.2" r="0.95"/>
<circle cx="463.2" cy="100.9" r="0.95"/>
<circle cx="465.6" cy="77.3" r="0.95"/>
<circle cx="466.2" cy="76.3" r="0.95"/>
<circle cx="479.5" cy="65.4" r="0.95"/>
<circle cx="486.4" cy="67.6" r="0.95"/>
<circle cx="467.8" cy="88.6" r="0.95"/>
<circle cx="482.2" cy="69.9" r="0.95"/>
<circle cx="460.6" cy="90.8" r="0.95"/>
<circle cx="466.2" cy="88.1" r="0.95"/>
<circle cx="480.4" cy="63.4" r="0.95"/>
<circle cx="464.5" cy="77.0" r="0.95"/>
<circle cx="463.7" cy="92.0" r="0.95"/>
<circle cx="458.8" cy="96.1" r="0.95"/>
<circle cx="468.0" cy="78.3" r="0.95"/>
<circle cx="461.9" cy="86.5" r="0.95"/>
<circle cx="464.8" cy="97.5" r="0.95"/>
<circle cx="480.3" cy="69.3" r="0.95"/>
<circle cx="469.0" cy="77.9" r="0.95"/>
<circle cx="470.3" cy="80.0" r="0.95"/>
<circle cx="461.4" cy="100.9" r="0.95"/>
<circle cx="464.2" cy="84.3" r="0.95"/>
<circle cx="465.9" cy="73.3" r="0.95"/>
<circle cx="468.3" cy="85.3" r="0.95"/>
<circle cx="462.6" cy="79.7" r="0.95"/>
<circle cx="458.1" cy="99.7" r="0.95"/>
<circle cx="469.2" cy="78.9" r="0.95"/>
<circle cx="473.6" cy="86.1" r="0.95"/>
<circle cx="464.7" cy="87.4" r="0.95"/>
<circle cx="471.5" cy="73.2" r="0.95"/>
<circle cx="457.7" cy="89.8" r="0.95"/>
<circle cx="481.4" cy="66.8" r="0.95"/>
<circle cx="464.8" cy="80.4" r="0.95"/>
<circle cx="464.6" cy="85.2" r="0.95"/>
<circle cx="471.1" cy="84.7" r="0.95"/>
<circle cx="457.7" cy="100.5" r="0.95"/>
<circle cx="462.7" cy="86.7" r="0.95"/>
<circle cx="465.0" cy="87.4" r="0.95"/>
<circle cx="471.8" cy="69.0" r="0.95"/>
<circle cx="473.0" cy="79.7" r="0.95"/>
<circle cx="475.5" cy="78.9" r="0.95"/>
<circle cx="482.8" cy="69.0" r="0.95"/>
<circle cx="475.0" cy="67.8" r="0.95"/>
<circle cx="469.4" cy="75.3" r="0.95"/>
<circle cx="463.7" cy="97.8" r="0.95"/>
<circle cx="462.3" cy="84.5" r="0.95"/>
<circle cx="486.1" cy="61.5" r="0.95"/>
<circle cx="474.8" cy="68.1" r="0.95"/>
<circle cx="468.2" cy="76.9" r="0.95"/>
<circle cx="474.3" cy="63.5" r="0.95"/>
<circle cx="463.0" cy="102.0" r="0.95"/>
<circle cx="468.5" cy="81.0" r="0.95"/>
<circle cx="474.6" cy="80.3" r="0.95"/>
<circle cx="466.2" cy="81.4" r="0.95"/>
<circle cx="476.0" cy="69.4" r="0.95"/>
<circle cx="462.4" cy="100.1" r="0.95"/>
<circle cx="482.1" cy="69.3" r="0.95"/>
<circle cx="473.2" cy="81.2" r="0.95"/>
<circle cx="488.3" cy="66.5" r="0.95"/>
<circle cx="468.1" cy="84.2" r="0.95"/>
<circle cx="478.5" cy="68.7" r="0.95"/>
<circle cx="474.0" cy="68.2" r="0.95"/>
<circle cx="465.6" cy="92.1" r="0.95"/>
<circle cx="463.8" cy="92.9" r="0.95"/>
<circle cx="461.2" cy="90.8" r="0.95"/>
<circle cx="469.0" cy="77.7" r="0.95"/>
<circle cx="460.4" cy="93.1" r="0.95"/>
<circle cx="467.4" cy="86.1" r="0.95"/>
<circle cx="466.3" cy="90.3" r="0.95"/>
<circle cx="464.4" cy="85.3" r="0.95"/>
<circle cx="463.5" cy="98.9" r="0.95"/>
<circle cx="464.0" cy="92.6" r="0.95"/>
<circle cx="473.0" cy="72.5" r="0.95"/>
<circle cx="478.6" cy="57.4" r="0.95"/>
<circle cx="463.8" cy="74.8" r="0.95"/>
<circle cx="482.9" cy="69.9" r="0.95"/>
<circle cx="461.5" cy="85.8" r="0.95"/>
<circle cx="474.4" cy="71.9" r="0.95"/>
<circle cx="470.9" cy="78.6" r="0.95"/>
<circle cx="466.3" cy="87.5" r="0.95"/>
<circle cx="482.2" cy="62.5" r="0.95"/>
<circle cx="461.3" cy="87.4" r="0.95"/>
<circle cx="462.6" cy="92.0" r="0.95"/>
<circle cx="461.5" cy="88.0" r="0.95"/>
<circle cx="464.5" cy="102.7" r="0.95"/>
<circle cx="479.9" cy="65.7" r="0.95"/>
<circle cx="463.6" cy="87.3" r="0.95"/>
<circle cx="468.0" cy="82.5" r="0.95"/>
<circle cx="476.2" cy="74.3" r="0.95"/>
<circle cx="467.3" cy="73.4" r="0.95"/>
<circle cx="469.6" cy="77.0" r="0.95"/>
<circle cx="462.9" cy="90.7" r="0.95"/>
<circle cx="459.0" cy="97.7" r="0.95"/>
<circle cx="476.8" cy="69.4" r="0.95"/>
<circle cx="481.1" cy="62.2" r="0.95"/>
<circle cx="483.3" cy="62.7" r="0.95"/>
<circle cx="484.5" cy="67.9" r="0.95"/>
<circle cx="461.9" cy="82.9" r="0.95"/>
<circle cx="462.1" cy="98.9" r="0.95"/>
<circle cx="478.4" cy="67.7" r="0.95"/>
<circle cx="463.0" cy="92.9" r="0.95"/>
<circle cx="464.9" cy="82.9" r="0.95"/>
<circle cx="469.4" cy="83.0" r="0.95"/>
<circle cx="458.2" cy="93.9" r="0.95"/>
<circle cx="459.4" cy="92.5" r="0.95"/>
<circle cx="463.5" cy="91.6" r="0.95"/>
<circle cx="468.4" cy="78.9" r="0.95"/>
<circle cx="462.8" cy="102.9" r="0.95"/>
<circle cx="480.6" cy="73.0" r="0.95"/>
<circle cx="463.8" cy="78.4" r="0.95"/>
<circle cx="472.0" cy="74.2" r="0.95"/>
<circle cx="482.5" cy="65.6" r="0.95"/>
<circle cx="461.2" cy="100.6" r="0.95"/>
<circle cx="476.1" cy="71.0" r="0.95"/>
<circle cx="473.3" cy="69.6" r="0.95"/>
<circle cx="463.4" cy="99.1" r="0.95"/>
<circle cx="470.4" cy="79.5" r="0.95"/>
<circle cx="479.7" cy="70.5" r="0.95"/>
<circle cx="477.1" cy="59.3" r="0.95"/>
<circle cx="467.1" cy="74.3" r="0.95"/>
<circle cx="471.3" cy="79.2" r="0.95"/>
<circle cx="466.3" cy="86.0" r="0.95"/>
<circle cx="488.6" cy="65.3" r="0.95"/>
<circle cx="481.2" cy="67.8" r="0.95"/>
<circle cx="486.5" cy="65.5" r="0.95"/>
<circle cx="463.9" cy="92.6" r="0.95"/>
<circle cx="461.4" cy="97.4" r="0.95"/>
<circle cx="476.6" cy="73.4" r="0.95"/>
<circle cx="462.4" cy="98.4" r="0.95"/>
<circle cx="470.9" cy="71.4" r="0.95"/>
<circle cx="462.0" cy="101.1" r="0.95"/>
<circle cx="463.3" cy="88.5" r="0.95"/>
<circle cx="466.4" cy="91.9" r="0.95"/>
<circle cx="463.7" cy="88.0" r="0.95"/>
<circle cx="477.4" cy="72.3" r="0.95"/>
<circle cx="486.0" cy="67.3" r="0.95"/>
<circle cx="485.7" cy="68.5" r="0.95"/>
<circle cx="464.9" cy="85.6" r="0.95"/>
<circle cx="466.3" cy="91.2" r="0.95"/>
<circle cx="462.7" cy="97.3" r="0.95"/>
<circle cx="463.2" cy="88.6" r="0.95"/>
<circle cx="466.8" cy="79.4" r="0.95"/>
<circle cx="460.8" cy="96.0" r="0.95"/>
<circle cx="469.8" cy="80.3" r="0.95"/>
<circle cx="462.1" cy="88.0" r="0.95"/>
<circle cx="461.4" cy="91.8" r="0.95"/>
<circle cx="469.9" cy="85.0" r="0.95"/>
<circle cx="463.2" cy="95.2" r="0.95"/>
<circle cx="480.6" cy="65.3" r="0.95"/>
<circle cx="478.2" cy="70.9" r="0.95"/>
<circle cx="480.7" cy="74.6" r="0.95"/>
<circle cx="461.1" cy="95.0" r="0.95"/>
<circle cx="462.9" cy="88.5" r="0.95"/>
<circle cx="466.9" cy="83.3" r="0.95"/>
<circle cx="464.1" cy="82.2" r="0.95"/>
<circle cx="481.8" cy="74.6" r="0.95"/>
<circle cx="478.1" cy="67.7" r="0.95"/>
<circle cx="471.3" cy="82.5" r="0.95"/>
<circle cx="465.6" cy="97.9" r="0.95"/>
<circle cx="468.0" cy="88.2" r="0.95"/>
<circle cx="460.8" cy="94.2" r="0.95"/>
<circle cx="471.3" cy="77.7" r="0.95"/>
<circle cx="475.1" cy="71.5" r="0.95"/>
<circle cx="469.3" cy="83.6" r="0.95"/>
<circle cx="461.9" cy="89.7" r="0.95"/>
<circle cx="482.9" cy="63.3" r="0.95"/>
<circle cx="468.8" cy="72.0" r="0.95"/>
<circle cx="477.1" cy="62.7" r="0.95"/>
<circle cx="483.6" cy="64.9" r="0.95"/>
<circle cx="470.4" cy="77.5" r="0.95"/>
<circle cx="483.7" cy="67.4" r="0.95"/>
<circle cx="495.5" cy="63.6" r="0.95"/>
<circle cx="508.6" cy="49.6" r="0.95"/>
<circle cx="496.9" cy="61.5" r="0.95"/>
<circle cx="496.4" cy="67.4" r="0.95"/>
<circle cx="500.6" cy="71.8" r="0.95"/>
<circle cx="497.8" cy="67.9" r="0.95"/>
<circle cx="504.4" cy="46.5" r="0.95"/>
<circle cx="503.0" cy="49.1" r="0.95"/>
<circle cx="500.8" cy="63.2" r="0.95"/>
<circle cx="502.1" cy="44.8" r="0.95"/>
<circle cx="511.5" cy="54.5" r="0.95"/>
<circle cx="508.6" cy="49.1" r="0.95"/>
<circle cx="499.2" cy="66.0" r="0.95"/>
<circle cx="504.4" cy="59.2" r="0.95"/>
<circle cx="501.7" cy="69.9" r="0.95"/>
<circle cx="507.1" cy="60.4" r="0.95"/>
<circle cx="508.6" cy="52.3" r="0.95"/>
<circle cx="496.4" cy="58.1" r="0.95"/>
<circle cx="498.9" cy="51.4" r="0.95"/>
<circle cx="515.6" cy="51.7" r="0.95"/>
<circle cx="510.2" cy="58.0" r="0.95"/>
<circle cx="504.5" cy="66.9" r="0.95"/>
<circle cx="488.2" cy="71.9" r="0.95"/>
<circle cx="487.9" cy="63.0" r="0.95"/>
<circle cx="495.9" cy="71.5" r="0.95"/>
<circle cx="502.1" cy="59.4" r="0.95"/>
<circle cx="500.0" cy="61.2" r="0.95"/>
<circle cx="514.1" cy="46.7" r="0.95"/>
<circle cx="501.7" cy="58.0" r="0.95"/>
<circle cx="514.7" cy="57.9" r="0.95"/>
<circle cx="497.4" cy="62.5" r="0.95"/>
<circle cx="491.7" cy="55.6" r="0.95"/>
<circle cx="492.1" cy="60.2" r="0.95"/>
<circle cx="500.6" cy="71.7" r="0.95"/>
<circle cx="490.6" cy="63.3" r="0.95"/>
<circle cx="492.4" cy="68.4" r="0.95"/>
<circle cx="491.8" cy="60.6" r="0.95"/>
<circle cx="485.2" cy="61.6" r="0.95"/>
<circle cx="495.8" cy="64.8" r="0.95"/>
<circle cx="502.9" cy="47.4" r="0.95"/>
<circle cx="495.7" cy="73.4" r="0.95"/>
<circle cx="491.0" cy="51.3" r="0.95"/>
<circle cx="498.8" cy="55.7" r="0.95"/>
<circle cx="503.5" cy="52.3" r="0.95"/>
<circle cx="516.9" cy="52.7" r="0.95"/>
<circle cx="509.8" cy="57.4" r="0.95"/>
<circle cx="514.6" cy="62.4" r="0.95"/>
<circle cx="491.2" cy="74.1" r="0.95"/>
<circle cx="511.3" cy="63.3" r="0.95"/>
<circle cx="500.5" cy="63.3" r="0.95"/>
<circle cx="512.1" cy="45.3" r="0.95"/>
<circle cx="501.7" cy="50.6" r="0.95"/>
<circle cx="507.8" cy="49.2" r="0.95"/>
<circle cx="515.5" cy="51.7" r="0.95"/>
<circle cx="512.8" cy="49.5" r="0.95"/>
<circle cx="517.6" cy="58.5" r="0.95"/>
<circle cx="491.6" cy="70.3" r="0.95"/>
<circle cx="506.3" cy="52.8" r="0.95"/>
<circle cx="510.1" cy="47.5" r="0.95"/>
<circle cx="493.9" cy="60.8" r="0.95"/>
<circle cx="500.1" cy="50.6" r="0.95"/>
<circle cx="490.8" cy="63.0" r="0.95"/>
<circle cx="492.0" cy="61.1" r="0.95"/>
<circle cx="516.6" cy="51.6" r="0.95"/>
<circle cx="495.3" cy="44.3" r="0.95"/>
<circle cx="505.6" cy="56.1" r="0.95"/>
<circle cx="490.0" cy="57.6" r="0.95"/>
<circle cx="508.4" cy="65.5" r="0.95"/>
<circle cx="498.7" cy="61.2" r="0.95"/>
<circle cx="513.8" cy="53.3" r="0.95"/>
<circle cx="493.0" cy="61.4" r="0.95"/>
<circle cx="506.7" cy="55.5" r="0.95"/>
<circle cx="505.9" cy="61.0" r="0.95"/>
<circle cx="513.0" cy="51.9" r="0.95"/>
<circle cx="509.3" cy="51.7" r="0.95"/>
<circle cx="500.1" cy="64.1" r="0.95"/>
<circle cx="505.0" cy="56.4" r="0.95"/>
<circle cx="489.7" cy="58.4" r="0.95"/>
<circle cx="518.8" cy="58.4" r="0.95"/>
<circle cx="501.7" cy="59.9" r="0.95"/>
<circle cx="509.3" cy="62.7" r="0.95"/>
<circle cx="494.1" cy="61.5" r="0.95"/>
<circle cx="495.3" cy="67.3" r="0.95"/>
<circle cx="496.9" cy="79.2" r="0.95"/>
<circle cx="499.6" cy="52.6" r="0.95"/>
<circle cx="510.8" cy="54.5" r="0.95"/>
<circle cx="515.5" cy="60.3" r="0.95"/>
<circle cx="504.7" cy="54.7" r="0.95"/>
<circle cx="489.2" cy="66.2" r="0.95"/>
<circle cx="502.0" cy="56.3" r="0.95"/>
<circle cx="499.0" cy="59.5" r="0.95"/>
<circle cx="514.9" cy="62.7" r="0.95"/>
<circle cx="510.8" cy="45.1" r="0.95"/>
<circle cx="496.9" cy="61.6" r="0.95"/>
<circle cx="504.9" cy="65.2" r="0.95"/>
<circle cx="503.5" cy="54.8" r="0.95"/>
<circle cx="517.6" cy="61.4" r="0.95"/>
<circle cx="496.9" cy="68.2" r="0.95"/>
<circle cx="507.3" cy="57.4" r="0.95"/>
<circle cx="509.8" cy="59.5" r="0.95"/>
<circle cx="509.2" cy="63.8" r="0.95"/>
<circle cx="499.1" cy="67.7" r="0.95"/>
<circle cx="496.9" cy="64.7" r="0.95"/>
<circle cx="489.8" cy="64.1" r="0.95"/>
<circle cx="503.4" cy="67.4" r="0.95"/>
<circle cx="489.6" cy="66.0" r="0.95"/>
<circle cx="483.8" cy="63.7" r="0.95"/>
<circle cx="488.7" cy="61.6" r="0.95"/>
<circle cx="491.2" cy="60.4" r="0.95"/>
<circle cx="508.3" cy="63.5" r="0.95"/>
<circle cx="501.1" cy="71.0" r="0.95"/>
<circle cx="493.0" cy="52.5" r="0.95"/>
<circle cx="516.7" cy="50.9" r="0.95"/>
<circle cx="495.9" cy="62.3" r="0.95"/>
<circle cx="511.3" cy="67.8" r="0.95"/>
<circle cx="493.0" cy="70.9" r="0.95"/>
<circle cx="509.0" cy="53.4" r="0.95"/>
<circle cx="512.2" cy="52.4" r="0.95"/>
<circle cx="498.1" cy="58.2" r="0.95"/>
<circle cx="510.4" cy="55.5" r="0.95"/>
<circle cx="504.1" cy="62.1" r="0.95"/>
<circle cx="502.8" cy="53.5" r="0.95"/>
<circle cx="513.1" cy="58.5" r="0.95"/>
<circle cx="508.0" cy="54.2" r="0.95"/>
<circle cx="515.4" cy="56.2" r="0.95"/>
<circle cx="492.3" cy="65.5" r="0.95"/>
<circle cx="506.9" cy="55.6" r="0.95"/>
<circle cx="507.3" cy="68.0" r="0.95"/>
<circle cx="513.2" cy="49.8" r="0.95"/>
<circle cx="514.1" cy="61.4" r="0.95"/>
<circle cx="491.4" cy="72.5" r="0.95"/>
<circle cx="494.8" cy="55.1" r="0.95"/>
<circle cx="505.7" cy="54.3" r="0.95"/>
<circle cx="513.1" cy="51.9" r="0.95"/>
<circle cx="495.4" cy="60.4" r="0.95"/>
<circle cx="514.1" cy="68.5" r="0.95"/>
<circle cx="489.4" cy="68.3" r="0.95"/>
<circle cx="504.3" cy="49.2" r="0.95"/>
<circle cx="507.3" cy="51.4" r="0.95"/>
<circle cx="503.5" cy="64.9" r="0.95"/>
<circle cx="487.0" cy="57.5" r="0.95"/>
<circle cx="514.3" cy="63.7" r="0.95"/>
<circle cx="497.6" cy="64.2" r="0.95"/>
<circle cx="491.0" cy="60.6" r="0.95"/>
<circle cx="500.7" cy="45.0" r="0.95"/>
<circle cx="501.4" cy="42.3" r="0.95"/>
<circle cx="516.4" cy="60.0" r="0.95"/>
<circle cx="500.9" cy="76.7" r="0.95"/>
<circle cx="488.8" cy="72.7" r="0.95"/>
<circle cx="511.1" cy="52.3" r="0.95"/>
<circle cx="497.2" cy="64.1" r="0.95"/>
<circle cx="487.7" cy="69.7" r="0.95"/>
<circle cx="499.8" cy="51.5" r="0.95"/>
<circle cx="496.6" cy="69.5" r="0.95"/>
<circle cx="506.7" cy="62.5" r="0.95"/>
<circle cx="498.8" cy="69.6" r="0.95"/>
<circle cx="502.0" cy="55.2" r="0.95"/>
<circle cx="506.8" cy="52.0" r="0.95"/>
<circle cx="494.2" cy="57.2" r="0.95"/>
<circle cx="501.7" cy="52.8" r="0.95"/>
<circle cx="502.3" cy="55.3" r="0.95"/>
<circle cx="488.8" cy="68.8" r="0.95"/>
<circle cx="500.2" cy="56.1" r="0.95"/>
<circle cx="513.4" cy="51.8" r="0.95"/>
<circle cx="502.3" cy="64.2" r="0.95"/>
<circle cx="495.1" cy="62.5" r="0.95"/>
<circle cx="509.9" cy="47.8" r="0.95"/>
<circle cx="510.7" cy="49.9" r="0.95"/>
<circle cx="496.9" cy="44.5" r="0.95"/>
<circle cx="517.7" cy="53.4" r="0.95"/>
<circle cx="486.6" cy="61.8" r="0.95"/>
<circle cx="504.4" cy="61.6" r="0.95"/>
<circle cx="487.2" cy="64.4" r="0.95"/>
<circle cx="488.4" cy="59.7" r="0.95"/>
<circle cx="490.1" cy="61.6" r="0.95"/>
<circle cx="499.0" cy="50.1" r="0.95"/>
<circle cx="497.8" cy="69.6" r="0.95"/>
<circle cx="475.1" cy="70.0" r="0.95"/>
<circle cx="487.1" cy="65.7" r="0.95"/>
<circle cx="468.5" cy="79.7" r="0.95"/>
<circle cx="486.7" cy="65.5" r="0.95"/>
<circle cx="469.7" cy="81.7" r="0.95"/>
<circle cx="487.4" cy="65.2" r="0.95"/>
<circle cx="469.9" cy="78.1" r="0.95"/>
<circle cx="483.6" cy="68.5" r="0.95"/>
<circle cx="467.9" cy="80.8" r="0.95"/>
<circle cx="480.1" cy="68.4" r="0.95"/>
<circle cx="487.7" cy="66.8" r="0.95"/>
<circle cx="475.5" cy="73.6" r="0.95"/>
<circle cx="481.1" cy="73.3" r="0.95"/>
<circle cx="485.3" cy="68.9" r="0.95"/>
<circle cx="470.8" cy="79.8" r="0.95"/>
<circle cx="485.1" cy="66.4" r="0.95"/>
<circle cx="485.6" cy="68.9" r="0.95"/>
<circle cx="469.7" cy="81.0" r="0.95"/>
<circle cx="473.3" cy="75.4" r="0.95"/>
<circle cx="481.4" cy="67.9" r="0.95"/>
<circle cx="469.5" cy="78.4" r="0.95"/>
<circle cx="483.8" cy="65.8" r="0.95"/>
<circle cx="481.5" cy="68.0" r="0.95"/>
<circle cx="467.1" cy="77.6" r="0.95"/>
<circle cx="464.8" cy="81.9" r="0.95"/>
<circle cx="474.2" cy="77.9" r="0.95"/>
<circle cx="474.7" cy="75.4" r="0.95"/>
<circle cx="473.1" cy="75.5" r="0.95"/>
<circle cx="487.6" cy="69.0" r="0.95"/>
<circle cx="485.5" cy="65.7" r="0.95"/>
<circle cx="481.6" cy="68.0" r="0.95"/>
<circle cx="465.5" cy="77.6" r="0.95"/>
<circle cx="468.9" cy="83.8" r="0.95"/>
<circle cx="473.9" cy="74.4" r="0.95"/>
<circle cx="468.5" cy="81.8" r="0.95"/>
<circle cx="487.3" cy="69.7" r="0.95"/>
<circle cx="474.0" cy="74.6" r="0.95"/>
<circle cx="470.3" cy="77.1" r="0.95"/>
<circle cx="475.8" cy="70.9" r="0.95"/>
<circle cx="484.5" cy="68.4" r="0.95"/>
<circle cx="471.8" cy="77.9" r="0.95"/>
<circle cx="472.6" cy="76.4" r="0.95"/>
<circle cx="469.4" cy="75.2" r="0.95"/>
<circle cx="485.9" cy="64.4" r="0.95"/>
<circle cx="472.5" cy="76.1" r="0.95"/>
<circle cx="470.4" cy="76.3" r="0.95"/>
<circle cx="484.7" cy="64.3" r="0.95"/>
<circle cx="470.1" cy="74.0" r="0.95"/>
<circle cx="481.9" cy="69.1" r="0.95"/>
<circle cx="467.0" cy="79.7" r="0.95"/>
<circle cx="472.8" cy="77.0" r="0.95"/>
<circle cx="467.9" cy="80.9" r="0.95"/>
<circle cx="475.6" cy="70.1" r="0.95"/>
<circle cx="466.6" cy="82.7" r="0.95"/>
<circle cx="466.0" cy="83.3" r="0.95"/>
<circle cx="468.5" cy="79.2" r="0.95"/>
<circle cx="466.0" cy="81.3" r="0.95"/>
<circle cx="480.8" cy="70.9" r="0.95"/>
<circle cx="480.0" cy="69.8" r="0.95"/>
<circle cx="482.7" cy="68.6" r="0.95"/>
<circle cx="474.3" cy="76.3" r="0.95"/>
<circle cx="481.9" cy="69.7" r="0.95"/>
<circle cx="483.4" cy="67.3" r="0.95"/>
<circle cx="479.4" cy="73.0" r="0.95"/>
<circle cx="476.4" cy="75.4" r="0.95"/>
<circle cx="465.5" cy="82.0" r="0.95"/>
<circle cx="479.8" cy="67.6" r="0.95"/>
<circle cx="472.1" cy="76.5" r="0.95"/>
<circle cx="469.5" cy="80.4" r="0.95"/>
<circle cx="474.6" cy="72.6" r="0.95"/>
<circle cx="469.6" cy="75.3" r="0.95"/>
<circle cx="473.1" cy="73.8" r="0.95"/>
<circle cx="472.5" cy="72.3" r="0.95"/>
<circle cx="469.4" cy="78.2" r="0.95"/>
<circle cx="485.3" cy="65.9" r="0.95"/>
<circle cx="467.9" cy="80.4" r="0.95"/>
<circle cx="477.0" cy="71.9" r="0.95"/>
<circle cx="477.2" cy="74.3" r="0.95"/>
<circle cx="474.4" cy="71.7" r="0.95"/>
<circle cx="468.2" cy="80.6" r="0.95"/>
<circle cx="476.9" cy="71.6" r="0.95"/>
<circle cx="471.4" cy="82.7" r="0.95"/>
<circle cx="475.4" cy="75.5" r="0.95"/>
<circle cx="473.5" cy="73.3" r="0.95"/>
<circle cx="474.6" cy="73.9" r="0.95"/>
<circle cx="487.0" cy="68.6" r="0.95"/>
<circle cx="485.4" cy="67.4" r="0.95"/>
<circle cx="480.9" cy="66.4" r="0.95"/>
<circle cx="464.8" cy="82.0" r="0.95"/>
<circle cx="473.5" cy="77.3" r="0.95"/>
<circle cx="479.5" cy="69.4" r="0.95"/>
<circle cx="479.9" cy="66.3" r="0.95"/>
<circle cx="473.5" cy="80.0" r="0.95"/>
<circle cx="482.6" cy="71.8" r="0.95"/>
<circle cx="473.2" cy="76.1" r="0.95"/>
<circle cx="468.8" cy="78.2" r="0.95"/>
<circle cx="476.8" cy="72.5" r="0.95"/>
<circle cx="478.5" cy="71.4" r="0.95"/>
<circle cx="480.5" cy="73.7" r="0.95"/>
<circle cx="471.4" cy="73.9" r="0.95"/>
<circle cx="473.2" cy="76.4" r="0.95"/>
<circle cx="483.3" cy="67.8" r="0.95"/>
<circle cx="483.6" cy="65.7" r="0.95"/>
<circle cx="472.5" cy="78.0" r="0.95"/>
<circle cx="469.0" cy="81.3" r="0.95"/>
<circle cx="487.6" cy="67.5" r="0.95"/>
<circle cx="480.7" cy="70.7" r="0.95"/>
<circle cx="481.1" cy="71.9" r="0.95"/>
<circle cx="479.1" cy="72.4" r="0.95"/>
<circle cx="480.6" cy="69.7" r="0.95"/>
<circle cx="469.1" cy="79.2" r="0.95"/>
<circle cx="469.6" cy="81.4" r="0.95"/>
<circle cx="472.5" cy="75.8" r="0.95"/>
<circle cx="483.6" cy="67.8" r="0.95"/>
<circle cx="477.2" cy="65.6" r="0.95"/>
<circle cx="483.4" cy="68.7" r="0.95"/>
<circle cx="464.7" cy="81.9" r="0.95"/>
<circle cx="483.6" cy="69.1" r="0.95"/>
<circle cx="483.7" cy="69.5" r="0.95"/>
<circle cx="482.5" cy="72.7" r="0.95"/>
<circle cx="486.5" cy="64.9" r="0.95"/>
<circle cx="472.7" cy="75.1" r="0.95"/>
<circle cx="470.6" cy="79.2" r="0.95"/>
<circle cx="486.9" cy="67.3" r="0.95"/>
<circle cx="479.3" cy="69.6" r="0.95"/>
<circle cx="471.1" cy="76.3" r="0.95"/>
<circle cx="480.2" cy="68.3" r="0.95"/>
<circle cx="478.4" cy="67.8" r="0.95"/>
<circle cx="475.8" cy="76.0" r="0.95"/>
<circle cx="471.7" cy="75.7" r="0.95"/>
<circle cx="478.1" cy="71.7" r="0.95"/>
<circle cx="471.9" cy="73.9" r="0.95"/>
<circle cx="469.2" cy="77.2" r="0.95"/>
<circle cx="484.9" cy="66.1" r="0.95"/>
<circle cx="466.7" cy="83.8" r="0.95"/>
<circle cx="469.0" cy="82.8" r="0.95"/>
<circle cx="465.1" cy="77.9" r="0.95"/>
<circle cx="469.9" cy="77.4" r="0.95"/>
<circle cx="483.1" cy="67.9" r="0.95"/>
<circle cx="471.9" cy="73.4" r="0.95"/>
<circle cx="467.5" cy="78.0" r="0.95"/>
<circle cx="478.5" cy="67.7" r="0.95"/>
<circle cx="470.6" cy="78.4" r="0.95"/>
<circle cx="468.7" cy="81.5" r="0.95"/>
<circle cx="486.1" cy="62.9" r="0.95"/>
<circle cx="478.6" cy="68.6" r="0.95"/>
<circle cx="487.4" cy="67.1" r="0.95"/>
<circle cx="469.8" cy="80.4" r="0.95"/>
<circle cx="477.8" cy="72.7" r="0.95"/>
<circle cx="475.2" cy="69.1" r="0.95"/>
<circle cx="477.8" cy="71.2" r="0.95"/>
<circle cx="475.7" cy="72.4" r="0.95"/>
<circle cx="470.7" cy="82.2" r="0.95"/>
<circle cx="465.9" cy="84.5" r="0.95"/>
<circle cx="482.7" cy="70.9" r="0.95"/>
<circle cx="487.6" cy="67.7" r="0.95"/>
<circle cx="488.1" cy="68.2" r="0.95"/>
<circle cx="473.8" cy="69.6" r="0.95"/>
<circle cx="480.6" cy="72.7" r="0.95"/>
<circle cx="475.6" cy="73.9" r="0.95"/>
<circle cx="468.8" cy="87.3" r="0.95"/>
<circle cx="470.5" cy="78.6" r="0.95"/>
<circle cx="464.0" cy="111.5" r="0.95"/>
<circle cx="468.9" cy="84.2" r="0.95"/>
<circle cx="465.7" cy="102.1" r="0.95"/>
<circle cx="469.5" cy="87.0" r="0.95"/>
<circle cx="470.2" cy="79.1" r="0.95"/>
<circle cx="469.1" cy="89.4" r="0.95"/>
<circle cx="468.4" cy="96.6" r="0.95"/>
<circle cx="469.6" cy="89.1" r="0.95"/>
<circle cx="465.7" cy="110.3" r="0.95"/>
<circle cx="467.3" cy="98.6" r="0.95"/>
<circle cx="464.4" cy="110.0" r="0.95"/>
<circle cx="465.3" cy="106.2" r="0.95"/>
<circle cx="470.5" cy="87.6" r="0.95"/>
<circle cx="468.8" cy="94.9" r="0.95"/>
<circle cx="470.1" cy="96.3" r="0.95"/>
<circle cx="467.9" cy="82.3" r="0.95"/>
<circle cx="463.2" cy="107.9" r="0.95"/>
<circle cx="469.5" cy="97.0" r="0.95"/>
<circle cx="467.8" cy="97.7" r="0.95"/>
<circle cx="462.1" cy="106.7" r="0.95"/>
<circle cx="462.4" cy="110.6" r="0.95"/>
<circle cx="468.6" cy="79.0" r="0.95"/>
<circle cx="472.5" cy="85.7" r="0.95"/>
<circle cx="467.8" cy="78.6" r="0.95"/>
<circle cx="468.9" cy="80.6" r="0.95"/>
<circle cx="469.3" cy="97.5" r="0.95"/>
<circle cx="470.5" cy="88.9" r="0.95"/>
<circle cx="464.9" cy="103.3" r="0.95"/>
<circle cx="469.5" cy="91.8" r="0.95"/>
<circle cx="466.1" cy="106.4" r="0.95"/>
<circle cx="464.5" cy="104.5" r="0.95"/>
<circle cx="463.7" cy="106.9" r="0.95"/>
<circle cx="470.4" cy="79.2" r="0.95"/>
<circle cx="467.4" cy="83.7" r="0.95"/>
<circle cx="471.7" cy="80.4" r="0.95"/>
<circle cx="470.1" cy="88.5" r="0.95"/>
<circle cx="468.3" cy="94.8" r="0.95"/>
<circle cx="462.7" cy="109.7" r="0.95"/>
<circle cx="464.8" cy="106.6" r="0.95"/>
<circle cx="468.3" cy="77.7" r="0.95"/>
<circle cx="472.0" cy="78.8" r="0.95"/>
<circle cx="469.5" cy="82.1" r="0.95"/>
<circle cx="467.0" cy="78.4" r="0.95"/>
<circle cx="465.3" cy="93.7" r="0.95"/>
<circle cx="463.8" cy="110.2" r="0.95"/>
<circle cx="471.7" cy="78.8" r="0.95"/>
<circle cx="471.6" cy="85.1" r="0.95"/>
<circle cx="469.6" cy="91.4" r="0.95"/>
<circle cx="465.4" cy="90.6" r="0.95"/>
<circle cx="470.4" cy="80.2" r="0.95"/>
<circle cx="469.2" cy="80.0" r="0.95"/>
<circle cx="466.3" cy="96.7" r="0.95"/>
<circle cx="469.4" cy="87.0" r="0.95"/>
<circle cx="470.2" cy="85.6" r="0.95"/>
<circle cx="468.0" cy="89.7" r="0.95"/>
<circle cx="467.7" cy="90.7" r="0.95"/>
<circle cx="462.2" cy="100.9" r="0.95"/>
<circle cx="471.2" cy="79.6" r="0.95"/>
<circle cx="460.3" cy="110.4" r="0.95"/>
<circle cx="463.0" cy="102.3" r="0.95"/>
<circle cx="463.2" cy="106.6" r="0.95"/>
<circle cx="467.0" cy="98.2" r="0.95"/>
<circle cx="467.5" cy="97.4" r="0.95"/>
<circle cx="470.2" cy="84.6" r="0.95"/>
<circle cx="463.5" cy="107.0" r="0.95"/>
<circle cx="464.8" cy="98.7" r="0.95"/>
<circle cx="470.5" cy="82.1" r="0.95"/>
<circle cx="469.2" cy="89.3" r="0.95"/>
<circle cx="463.0" cy="108.9" r="0.95"/>
<circle cx="464.7" cy="107.8" r="0.95"/>
<circle cx="467.7" cy="101.1" r="0.95"/>
<circle cx="463.1" cy="110.4" r="0.95"/>
<circle cx="466.3" cy="107.1" r="0.95"/>
<circle cx="467.5" cy="101.2" r="0.95"/>
<circle cx="467.6" cy="83.1" r="0.95"/>
<circle cx="464.2" cy="109.9" r="0.95"/>
<circle cx="466.2" cy="83.9" r="0.95"/>
<circle cx="466.5" cy="94.3" r="0.95"/>
<circle cx="469.1" cy="81.7" r="0.95"/>
<circle cx="464.2" cy="104.6" r="0.95"/>
<circle cx="462.5" cy="97.7" r="0.95"/>
<circle cx="467.9" cy="80.4" r="0.95"/>
<circle cx="464.8" cy="99.2" r="0.95"/>
<circle cx="465.6" cy="100.4" r="0.95"/>
<circle cx="471.0" cy="81.1" r="0.95"/>
<circle cx="468.8" cy="85.3" r="0.95"/>
<circle cx="467.5" cy="99.0" r="0.95"/>
<circle cx="470.6" cy="82.0" r="0.95"/>
<circle cx="464.2" cy="110.3" r="0.95"/>
<circle cx="461.7" cy="106.3" r="0.95"/>
<circle cx="470.7" cy="93.4" r="0.95"/>
<circle cx="466.2" cy="98.1" r="0.95"/>
<circle cx="464.6" cy="110.5" r="0.95"/>
<circle cx="470.1" cy="84.2" r="0.95"/>
<circle cx="466.0" cy="103.7" r="0.95"/>
<circle cx="469.7" cy="89.6" r="0.95"/>
<circle cx="465.8" cy="103.5" r="0.95"/>
<circle cx="467.0" cy="87.8" r="0.95"/>
<circle cx="470.2" cy="85.4" r="0.95"/>
<circle cx="474.2" cy="87.0" r="0.95"/>
<circle cx="467.6" cy="86.2" r="0.95"/>
<circle cx="465.1" cy="95.3" r="0.95"/>
<circle cx="465.9" cy="96.5" r="0.95"/>
<circle cx="467.1" cy="87.7" r="0.95"/>
<circle cx="469.9" cy="82.4" r="0.95"/>
<circle cx="470.2" cy="98.8" r="0.95"/>
<circle cx="468.7" cy="89.2" r="0.95"/>
<circle cx="466.4" cy="89.2" r="0.95"/>
<circle cx="467.1" cy="91.0" r="0.95"/>
<circle cx="464.3" cy="110.9" r="0.95"/>
<circle cx="461.8" cy="111.5" r="0.95"/>
<circle cx="466.2" cy="106.5" r="0.95"/>
<circle cx="466.1" cy="104.3" r="0.95"/>
<circle cx="461.5" cy="108.5" r="0.95"/>
<circle cx="471.8" cy="86.2" r="0.95"/>
<circle cx="471.3" cy="82.9" r="0.95"/>
<circle cx="464.1" cy="106.0" r="0.95"/>
<circle cx="463.5" cy="111.4" r="0.95"/>
<circle cx="500.0" cy="82.8" r="0.95"/>
<circle cx="481.6" cy="96.2" r="0.95"/>
<circle cx="488.9" cy="82.1" r="0.95"/>
<circle cx="490.8" cy="73.7" r="0.95"/>
<circle cx="512.0" cy="55.7" r="0.95"/>
<circle cx="493.6" cy="62.7" r="0.95"/>
<circle cx="502.8" cy="75.3" r="0.95"/>
<circle cx="516.6" cy="84.3" r="0.95"/>
<circle cx="480.9" cy="100.4" r="0.95"/>
<circle cx="493.6" cy="66.6" r="0.95"/>
<circle cx="516.3" cy="78.8" r="0.95"/>
<circle cx="489.2" cy="73.8" r="0.95"/>
<circle cx="513.8" cy="86.0" r="0.95"/>
<circle cx="517.4" cy="81.1" r="0.95"/>
<circle cx="497.9" cy="65.0" r="0.95"/>
<circle cx="515.8" cy="79.2" r="0.95"/>
<circle cx="500.6" cy="94.7" r="0.95"/>
<circle cx="516.9" cy="53.6" r="0.95"/>
<circle cx="485.5" cy="79.9" r="0.95"/>
<circle cx="498.2" cy="59.6" r="0.95"/>
<circle cx="514.7" cy="76.2" r="0.95"/>
<circle cx="511.4" cy="56.2" r="0.95"/>
<circle cx="503.0" cy="63.1" r="0.95"/>
<circle cx="512.3" cy="57.0" r="0.95"/>
<circle cx="482.7" cy="88.2" r="0.95"/>
<circle cx="515.6" cy="72.0" r="0.95"/>
<circle cx="507.6" cy="60.5" r="0.95"/>
<circle cx="509.9" cy="100.1" r="0.95"/>
<circle cx="490.2" cy="73.5" r="0.95"/>
<circle cx="504.1" cy="54.5" r="0.95"/>
<circle cx="513.1" cy="70.4" r="0.95"/>
<circle cx="478.1" cy="87.3" r="0.95"/>
<circle cx="506.0" cy="54.9" r="0.95"/>
<circle cx="494.2" cy="76.9" r="0.95"/>
<circle cx="506.3" cy="72.9" r="0.95"/>
<circle cx="483.5" cy="70.7" r="0.95"/>
<circle cx="494.1" cy="83.3" r="0.95"/>
<circle cx="485.5" cy="88.4" r="0.95"/>
<circle cx="511.0" cy="95.1" r="0.95"/>
<circle cx="483.5" cy="78.5" r="0.95"/>
<circle cx="483.9" cy="88.2" r="0.95"/>
<circle cx="497.8" cy="71.5" r="0.95"/>
<circle cx="496.3" cy="67.1" r="0.95"/>
<circle cx="493.8" cy="65.3" r="0.95"/>
<circle cx="514.9" cy="78.0" r="0.95"/>
<circle cx="493.7" cy="69.2" r="0.95"/>
<circle cx="484.1" cy="91.6" r="0.95"/>
<circle cx="477.7" cy="81.6" r="0.95"/>
<circle cx="497.0" cy="62.5" r="0.95"/>
<circle cx="482.4" cy="98.5" r="0.95"/>
<circle cx="503.3" cy="69.7" r="0.95"/>
<circle cx="481.4" cy="70.3" r="0.95"/>
<circle cx="512.9" cy="73.2" r="0.95"/>
<circle cx="477.7" cy="78.9" r="0.95"/>
<circle cx="504.5" cy="65.8" r="0.95"/>
<circle cx="508.3" cy="51.3" r="0.95"/>
<circle cx="512.7" cy="51.3" r="0.95"/>
<circle cx="481.5" cy="77.0" r="0.95"/>
<circle cx="516.9" cy="82.2" r="0.95"/>
<circle cx="496.3" cy="65.2" r="0.95"/>
<circle cx="486.2" cy="85.7" r="0.95"/>
<circle cx="479.0" cy="73.2" r="0.95"/>
<circle cx="488.3" cy="98.8" r="0.95"/>
<circle cx="483.9" cy="78.7" r="0.95"/>
<circle cx="499.9" cy="96.0" r="0.95"/>
<circle cx="485.7" cy="67.6" r="0.95"/>
<circle cx="509.6" cy="70.9" r="0.95"/>
<circle cx="501.0" cy="74.8" r="0.95"/>
<circle cx="495.7" cy="64.9" r="0.95"/>
<circle cx="497.4" cy="65.6" r="0.95"/>
<circle cx="514.8" cy="62.5" r="0.95"/>
<circle cx="504.8" cy="80.0" r="0.95"/>
<circle cx="489.6" cy="64.3" r="0.95"/>
<circle cx="509.3" cy="53.6" r="0.95"/>
<circle cx="508.9" cy="81.7" r="0.95"/>
<circle cx="480.5" cy="102.0" r="0.95"/>
<circle cx="487.5" cy="102.0" r="0.95"/>
<circle cx="493.0" cy="102.0" r="0.95"/>
<circle cx="498.7" cy="103.0" r="0.95"/>
<circle cx="507.8" cy="102.0" r="0.95"/>
<circle cx="514.0" cy="101.5" r="0.95"/>
<circle cx="505.0" cy="105.0" r="0.95"/>
<circle cx="486.0" cy="106.0" r="0.95"/>
<circle cx="508.2" cy="195.2" r="0.95"/>
<circle cx="460.9" cy="105.1" r="0.95"/>
<circle cx="452.1" cy="128.0" r="0.95"/>
<circle cx="462.8" cy="108.6" r="0.95"/>
<circle cx="459.0" cy="110.6" r="0.95"/>
<circle cx="453.5" cy="129.1" r="0.95"/>
<circle cx="454.6" cy="116.9" r="0.95"/>
<circle cx="459.2" cy="114.3" r="0.95"/>
<circle cx="457.2" cy="118.7" r="0.95"/>
<circle cx="454.3" cy="118.6" r="0.95"/>
<circle cx="456.9" cy="122.7" r="0.95"/>
<circle cx="459.3" cy="112.9" r="0.95"/>
<circle cx="456.1" cy="125.7" r="0.95"/>
<circle cx="454.2" cy="118.6" r="0.95"/>
<circle cx="462.2" cy="112.1" r="0.95"/>
<circle cx="456.5" cy="119.5" r="0.95"/>
<circle cx="453.2" cy="122.0" r="0.95"/>
<circle cx="455.4" cy="131.3" r="0.95"/>
<circle cx="460.8" cy="105.0" r="0.95"/>
<circle cx="457.2" cy="112.1" r="0.95"/>
<circle cx="451.9" cy="124.4" r="0.95"/>
<circle cx="458.9" cy="109.5" r="0.95"/>
<circle cx="460.1" cy="127.9" r="0.95"/>
<circle cx="458.0" cy="106.0" r="0.95"/>
<circle cx="461.1" cy="110.7" r="0.95"/>
<circle cx="458.0" cy="121.2" r="0.95"/>
<circle cx="459.6" cy="109.7" r="0.95"/>
<circle cx="456.9" cy="117.5" r="0.95"/>
<circle cx="456.9" cy="112.2" r="0.95"/>
<circle cx="454.3" cy="129.0" r="0.95"/>
<circle cx="458.9" cy="105.5" r="0.95"/>
<circle cx="456.6" cy="116.8" r="0.95"/>
<circle cx="457.5" cy="117.5" r="0.95"/>
<circle cx="461.6" cy="108.6" r="0.95"/>
<circle cx="469.2" cy="120.5" r="0.95"/>
<circle cx="475.5" cy="115.1" r="0.95"/>
<circle cx="461.5" cy="101.0" r="0.95"/>
<circle cx="469.3" cy="124.5" r="0.95"/>
<circle cx="463.6" cy="119.4" r="0.95"/>
<circle cx="472.5" cy="100.1" r="0.95"/>
<circle cx="462.5" cy="113.7" r="0.95"/>
<circle cx="463.1" cy="103.0" r="0.95"/>
<circle cx="470.7" cy="104.2" r="0.95"/>
<circle cx="470.1" cy="127.9" r="0.95"/>
<circle cx="459.6" cy="106.9" r="0.95"/>
<circle cx="460.8" cy="113.3" r="0.95"/>
<circle cx="473.1" cy="121.2" r="0.95"/>
<circle cx="464.7" cy="109.1" r="0.95"/>
<circle cx="468.8" cy="115.1" r="0.95"/>
<circle cx="460.4" cy="125.5" r="0.95"/>
<circle cx="473.5" cy="120.7" r="0.95"/>
<circle cx="460.5" cy="115.5" r="0.95"/>
<circle cx="461.5" cy="126.0" r="0.95"/>
<circle cx="462.3" cy="102.8" r="0.95"/>
<circle cx="468.3" cy="113.8" r="0.95"/>
<circle cx="467.0" cy="120.4" r="0.95"/>
<circle cx="469.1" cy="111.8" r="0.95"/>
<circle cx="474.8" cy="105.9" r="0.95"/>
<circle cx="468.5" cy="101.9" r="0.95"/>
</g>
<rect x="466.4" y="40.6" width="6.3" height="101.9" fill="none" stroke="#707070" stroke-width="0.9"/>
<rect x="437" y="176.5" width="7.9" height="34" fill="none" stroke="#707070" stroke-width="0.9"/>
<line x1="432" y1="40.2" x2="432" y2="211" stroke="#c0c0c0" stroke-width="0.8"/>
<line x1="428.4" y1="210.5" x2="432.4" y2="210.5" stroke="#c0c0c0" stroke-width="0.8"/>
<line x1="428.4" y1="176.4" x2="432.4" y2="176.4" stroke="#c0c0c0" stroke-width="0.8"/>
<line x1="428.4" y1="142.3" x2="432.4" y2="142.3" stroke="#c0c0c0" stroke-width="0.8"/>
<line x1="428.4" y1="108.19999999999999" x2="432.4" y2="108.19999999999999" stroke="#c0c0c0" stroke-width="0.8"/>
<line x1="428.4" y1="74.1" x2="432.4" y2="74.1" stroke="#c0c0c0" stroke-width="0.8"/>
<line x1="428.4" y1="40.0" x2="432.4" y2="40.0" stroke="#c0c0c0" stroke-width="0.8"/>
<text x="426.6" y="213.4" font-size="9.33" fill="#a8a8a8" text-anchor="end" font-weight="normal" font-style="normal">19</text>
<text x="426.6" y="145.7" font-size="9.33" fill="#a8a8a8" text-anchor="end" font-weight="normal" font-style="normal">21</text>
<text x="426.6" y="78.0" font-size="9.33" fill="#a8a8a8" text-anchor="end" font-weight="normal" font-style="normal">23</text>
<text x="412" y="108" font-size="9.33" fill="#b9b9b9" text-anchor="middle" font-weight="normal" font-style="normal" transform="rotate(-90 412 108)">MAT (°C)</text>
<line x1="436.7" y1="215.3" x2="514.5" y2="215.3" stroke="#c0c0c0" stroke-width="0.8"/>
<line x1="437.2" y1="215" x2="437.2" y2="221" stroke="#c0c0c0" stroke-width="0.8"/>
<line x1="446.8" y1="215" x2="446.8" y2="218.6" stroke="#c0c0c0" stroke-width="0.8"/>
<line x1="456.4" y1="215" x2="456.4" y2="218.6" stroke="#c0c0c0" stroke-width="0.8"/>
<line x1="466.0" y1="215" x2="466.0" y2="218.6" stroke="#c0c0c0" stroke-width="0.8"/>
<line x1="475.59999999999997" y1="215" x2="475.59999999999997" y2="221" stroke="#c0c0c0" stroke-width="0.8"/>
<line x1="485.2" y1="215" x2="485.2" y2="218.6" stroke="#c0c0c0" stroke-width="0.8"/>
<line x1="494.79999999999995" y1="215" x2="494.79999999999995" y2="218.6" stroke="#c0c0c0" stroke-width="0.8"/>
<line x1="504.4" y1="215" x2="504.4" y2="218.6" stroke="#c0c0c0" stroke-width="0.8"/>
<line x1="514.0" y1="215" x2="514.0" y2="221" stroke="#c0c0c0" stroke-width="0.8"/>
<text x="437.2" y="230.3" font-size="9.33" fill="#a8a8a8" text-anchor="middle" font-weight="normal" font-style="normal">0</text>
<text x="514.2" y="230.3" font-size="9.33" fill="#a8a8a8" text-anchor="middle" font-weight="normal" font-style="normal">100</text>
<text x="476" y="237.2" font-size="9.33" fill="#858585" text-anchor="middle" font-weight="normal" font-style="normal">MAP (mm)</text>
<text x="403" y="12.6" font-size="9.33" fill="#555" text-anchor="start" font-weight="bold" font-style="normal">B.</text>
<circle cx="426.8" cy="14.3" r="1.9" fill="#4da51d"/>
<circle cx="426.8" cy="26.7" r="1.9" fill="#6fd4fb"/>
<text x="432.8" y="16.7" font-size="9.33" fill="#4da51d" text-anchor="start" font-weight="normal" font-style="normal">Dry Forest</text>
<text x="432.8" y="28.9" font-size="9.33" fill="#4fc0fb" text-anchor="start" font-weight="normal" font-style="normal">Coastal Desert</text>
<rect x="572.60" y="40.70" width="9.70" height="33.70" fill="#dcf863"/>
<rect x="582.30" y="40.70" width="9.70" height="33.70" fill="#a8dc5e"/>
<rect x="592.00" y="40.70" width="9.70" height="33.70" fill="#85c75e"/>
<rect x="601.70" y="40.70" width="9.70" height="33.70" fill="#85c75e"/>
<rect x="611.40" y="40.70" width="9.70" height="33.70" fill="#85c75e"/>
<rect x="621.10" y="40.70" width="9.70" height="33.70" fill="#85c75e"/>
<rect x="562.90" y="74.40" width="9.70" height="34.00" fill="#8eeadf"/>
<rect x="572.60" y="74.40" width="9.70" height="34.00" fill="#8eeadf"/>
<rect x="582.30" y="74.40" width="9.70" height="34.00" fill="#a0d858"/>
<rect x="592.00" y="74.40" width="9.70" height="34.00" fill="#9bd55a"/>
<rect x="601.70" y="74.40" width="9.70" height="34.00" fill="#b0e25c"/>
<rect x="611.40" y="74.40" width="9.70" height="34.00" fill="#8bcb5f"/>
<rect x="621.10" y="74.40" width="9.70" height="34.00" fill="#8bcb5f"/>
<rect x="553.20" y="108.40" width="9.70" height="33.80" fill="#7fdfff"/>
<rect x="562.90" y="108.40" width="9.70" height="33.80" fill="#8eeadf"/>
<rect x="572.60" y="108.40" width="9.70" height="33.80" fill="#a6f0c6"/>
<rect x="582.30" y="108.40" width="9.70" height="33.80" fill="#b3e258"/>
<rect x="621.10" y="108.40" width="9.70" height="33.80" fill="#c4ec5a"/>
<rect x="553.20" y="142.20" width="9.70" height="34.10" fill="#7fdfff"/>
<rect x="562.90" y="142.20" width="9.70" height="34.10" fill="#7fdfff"/>
<rect x="572.60" y="142.20" width="9.70" height="34.10" fill="#7fdfff"/>
<rect x="582.30" y="142.20" width="9.70" height="34.10" fill="#7fdfff"/>
<rect x="592.00" y="142.20" width="9.70" height="34.10" fill="#7fdfff"/>
<rect x="601.70" y="142.20" width="9.70" height="34.10" fill="#7fdfff"/>
<rect x="611.40" y="142.20" width="9.70" height="34.10" fill="#7fdfff"/>
<rect x="621.10" y="142.20" width="9.70" height="34.10" fill="#7fdfff"/>
<rect x="553.20" y="176.30" width="9.70" height="34.20" fill="#7fdfff"/>
<rect x="562.90" y="176.30" width="9.70" height="34.20" fill="#7fdfff"/>
<rect x="572.60" y="176.30" width="9.70" height="34.20" fill="#7fdfff"/>
<rect x="582.30" y="176.30" width="9.70" height="34.20" fill="#7fdfff"/>
<rect x="592.00" y="176.30" width="9.70" height="34.20" fill="#7fdfff"/>
<rect x="601.70" y="176.30" width="9.70" height="34.20" fill="#7fdfff"/>
<rect x="611.40" y="176.30" width="9.70" height="34.20" fill="#7fdfff"/>
<rect x="621.10" y="176.30" width="9.70" height="34.20" fill="#7fdfff"/>
<line x1="562.9000000000001" y1="40.7" x2="562.9000000000001" y2="210.5" stroke="#ffffff" stroke-width="0.6" stroke-opacity="0.75"/>
<line x1="572.6" y1="40.7" x2="572.6" y2="210.5" stroke="#ffffff" stroke-width="0.6" stroke-opacity="0.75"/>
<line x1="582.3000000000001" y1="40.7" x2="582.3000000000001" y2="210.5" stroke="#ffffff" stroke-width="0.6" stroke-opacity="0.75"/>
<line x1="592.0" y1="40.7" x2="592.0" y2="210.5" stroke="#ffffff" stroke-width="0.6" stroke-opacity="0.75"/>
<line x1="601.7" y1="40.7" x2="601.7" y2="210.5" stroke="#ffffff" stroke-width="0.6" stroke-opacity="0.75"/>
<line x1="611.4000000000001" y1="40.7" x2="611.4000000000001" y2="210.5" stroke="#ffffff" stroke-width="0.6" stroke-opacity="0.75"/>
<line x1="621.1" y1="40.7" x2="621.1" y2="210.5" stroke="#ffffff" stroke-width="0.6" stroke-opacity="0.75"/>
<line x1="553.2" y1="74.4" x2="630.8000000000001" y2="74.4" stroke="#ffffff" stroke-width="0.6" stroke-opacity="0.75"/>
<line x1="553.2" y1="108.4" x2="630.8000000000001" y2="108.4" stroke="#ffffff" stroke-width="0.6" stroke-opacity="0.75"/>
<line x1="553.2" y1="142.2" x2="630.8000000000001" y2="142.2" stroke="#ffffff" stroke-width="0.6" stroke-opacity="0.75"/>
<line x1="553.2" y1="176.3" x2="630.8000000000001" y2="176.3" stroke="#ffffff" stroke-width="0.6" stroke-opacity="0.75"/>
<rect x="582.4" y="40.7" width="6.5" height="101.6" fill="#c8e060" fill-opacity="0.25" stroke="#6b6b6b" stroke-width="1"/>
<rect x="553.4" y="176.5" width="8.1" height="33.8" fill="none" stroke="#5f6b70" stroke-width="0.85"/>
<line x1="547.6" y1="40.2" x2="547.6" y2="211" stroke="#c0c0c0" stroke-width="0.8"/>
<line x1="544" y1="210.5" x2="548" y2="210.5" stroke="#c0c0c0" stroke-width="0.8"/>
<line x1="544" y1="176.4" x2="548" y2="176.4" stroke="#c0c0c0" stroke-width="0.8"/>
<line x1="544" y1="142.3" x2="548" y2="142.3" stroke="#c0c0c0" stroke-width="0.8"/>
<line x1="544" y1="108.19999999999999" x2="548" y2="108.19999999999999" stroke="#c0c0c0" stroke-width="0.8"/>
<line x1="544" y1="74.1" x2="548" y2="74.1" stroke="#c0c0c0" stroke-width="0.8"/>
<line x1="544" y1="40.0" x2="548" y2="40.0" stroke="#c0c0c0" stroke-width="0.8"/>
<text x="542.4" y="213.4" font-size="9.33" fill="#a8a8a8" text-anchor="end" font-weight="normal" font-style="normal">19</text>
<text x="542.4" y="145.7" font-size="9.33" fill="#a8a8a8" text-anchor="end" font-weight="normal" font-style="normal">21</text>
<text x="542.4" y="78.0" font-size="9.33" fill="#a8a8a8" text-anchor="end" font-weight="normal" font-style="normal">23</text>
<text x="538.6" y="108.5" font-size="9.33" fill="#b9b9b9" text-anchor="middle" font-weight="normal" font-style="normal" transform="rotate(-90 538.6 108.5)">MAT (°C)</text>
<line x1="552.7" y1="215.3" x2="631.3" y2="215.3" stroke="#c0c0c0" stroke-width="0.8"/>
<line x1="553.2" y1="215" x2="553.2" y2="221" stroke="#c0c0c0" stroke-width="0.8"/>
<line x1="562.9000000000001" y1="215" x2="562.9000000000001" y2="218.6" stroke="#c0c0c0" stroke-width="0.8"/>
<line x1="572.6" y1="215" x2="572.6" y2="218.6" stroke="#c0c0c0" stroke-width="0.8"/>
<line x1="582.3000000000001" y1="215" x2="582.3000000000001" y2="218.6" stroke="#c0c0c0" stroke-width="0.8"/>
<line x1="592.0" y1="215" x2="592.0" y2="221" stroke="#c0c0c0" stroke-width="0.8"/>
<line x1="601.7" y1="215" x2="601.7" y2="218.6" stroke="#c0c0c0" stroke-width="0.8"/>
<line x1="611.4000000000001" y1="215" x2="611.4000000000001" y2="218.6" stroke="#c0c0c0" stroke-width="0.8"/>
<line x1="621.1" y1="215" x2="621.1" y2="218.6" stroke="#c0c0c0" stroke-width="0.8"/>
<line x1="630.8000000000001" y1="215" x2="630.8000000000001" y2="221" stroke="#c0c0c0" stroke-width="0.8"/>
<text x="553.2" y="230.3" font-size="9.33" fill="#a8a8a8" text-anchor="middle" font-weight="normal" font-style="normal">0</text>
<text x="631" y="230.3" font-size="9.33" fill="#a8a8a8" text-anchor="middle" font-weight="normal" font-style="normal">100</text>
<text x="597.5" y="237.2" font-size="9.33" fill="#858585" text-anchor="middle" font-weight="normal" font-style="normal">MAP (mm)</text>
<text x="532.6" y="12.6" font-size="9.33" fill="#555" text-anchor="start" font-weight="bold" font-style="normal">C.</text>
<text x="648" y="16.8" font-size="9.33" fill="#7d7d7d" text-anchor="middle" font-weight="normal" font-style="normal">Dry Forest</text>
<text x="648" y="27.8" font-size="9.33" fill="#7d7d7d" text-anchor="middle" font-weight="normal" font-style="normal">Biome</text>
<text x="648" y="38.8" font-size="9.33" fill="#7d7d7d" text-anchor="middle" font-weight="normal" font-style="normal">cover</text>
<rect x="642.9" y="46.2" width="9.8" height="9.8" fill="#85c75e"/>
<rect x="642.9" y="59.3" width="9.8" height="9.8" fill="#9dd65c"/>
<rect x="642.9" y="72.4" width="9.8" height="9.8" fill="#b0e35f"/>
<rect x="642.9" y="85.5" width="9.8" height="9.8" fill="#c3ec5c"/>
<rect x="642.9" y="98.6" width="9.8" height="9.8" fill="#dcfc5e"/>
<rect x="642.9" y="111.7" width="9.8" height="9.8" fill="#eeff66"/>
<rect x="642.9" y="124.8" width="9.8" height="9.8" fill="#dcff88"/>
<rect x="642.9" y="137.9" width="9.8" height="9.8" fill="#c0f5a0"/>
<rect x="642.9" y="151.0" width="9.8" height="9.8" fill="#a4efc4"/>
<rect x="642.9" y="164.1" width="9.8" height="9.8" fill="#8eeadf"/>
<rect x="642.9" y="177.2" width="9.8" height="9.8" fill="#7fdfff"/>
<text x="656.0" y="55.0" font-size="9.33" fill="#a8a8a8" text-anchor="start" font-weight="normal" font-style="normal">100%</text>
<text x="656.0" y="120.3" font-size="9.33" fill="#a8a8a8" text-anchor="start" font-weight="normal" font-style="normal">50%</text>
<text x="656.0" y="185.6" font-size="9.33" fill="#a8a8a8" text-anchor="start" font-weight="normal" font-style="normal">0%</text>
</svg>
</body></html>
